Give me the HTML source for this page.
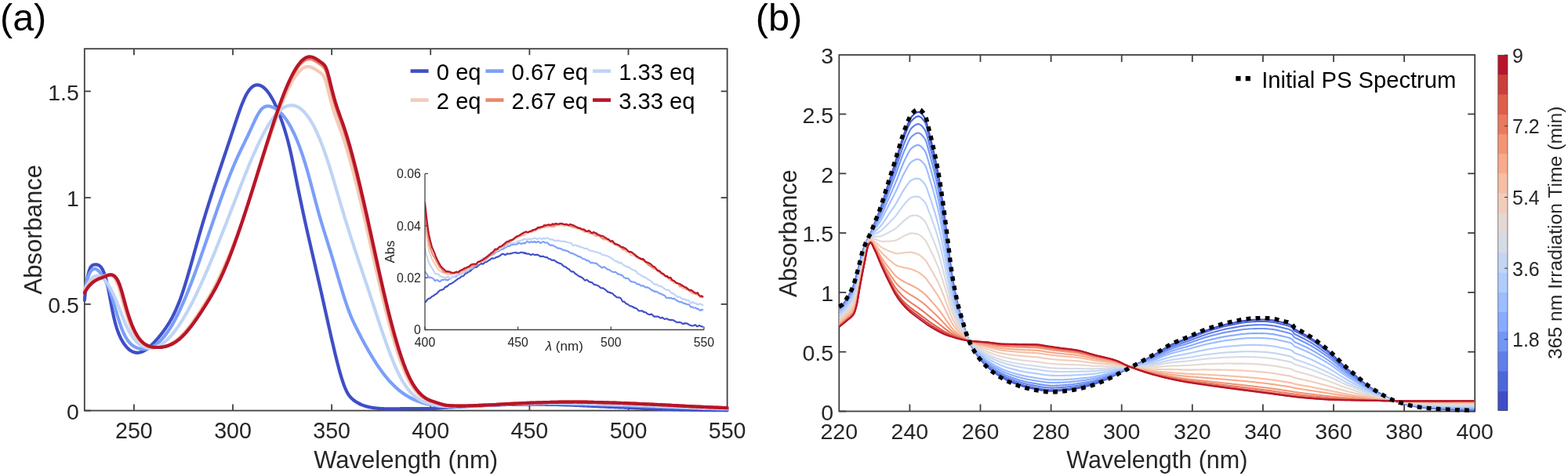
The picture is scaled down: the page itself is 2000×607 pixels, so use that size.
<!DOCTYPE html>
<html><head><meta charset="utf-8"><title>Absorbance spectra</title>
<style>html,body{margin:0;padding:0;background:#fff;}svg{display:block;}</style>
</head><body>
<svg width="2000" height="607" viewBox="0 0 2000 607">
<rect width="2000" height="607" fill="#ffffff"/>
<defs><clipPath id="ca"><rect x="105.6" y="60.0" width="824.2" height="465.8"/></clipPath>
<clipPath id="cb"><rect x="1067.3" y="67.0" width="813.9" height="460.5"/></clipPath>
<clipPath id="ci"><rect x="542.0" y="215.0" width="356.9" height="205.5"/></clipPath></defs>
<g stroke="#404040" stroke-width="1.8" fill="none">
<rect x="107.8" y="62.2" width="819.8" height="461.4"/>
<line x1="170.9" y1="523.6" x2="170.9" y2="515.6"/>
<line x1="170.9" y1="62.2" x2="170.9" y2="70.2"/>
<line x1="297.0" y1="523.6" x2="297.0" y2="515.6"/>
<line x1="297.0" y1="62.2" x2="297.0" y2="70.2"/>
<line x1="423.1" y1="523.6" x2="423.1" y2="515.6"/>
<line x1="423.1" y1="62.2" x2="423.1" y2="70.2"/>
<line x1="549.2" y1="523.6" x2="549.2" y2="515.6"/>
<line x1="549.2" y1="62.2" x2="549.2" y2="70.2"/>
<line x1="675.4" y1="523.6" x2="675.4" y2="515.6"/>
<line x1="675.4" y1="62.2" x2="675.4" y2="70.2"/>
<line x1="801.5" y1="523.6" x2="801.5" y2="515.6"/>
<line x1="801.5" y1="62.2" x2="801.5" y2="70.2"/>
<line x1="107.8" y1="523.6" x2="115.8" y2="523.6"/>
<line x1="927.6" y1="523.6" x2="919.6" y2="523.6"/>
<line x1="107.8" y1="387.9" x2="115.8" y2="387.9"/>
<line x1="927.6" y1="387.9" x2="919.6" y2="387.9"/>
<line x1="107.8" y1="252.1" x2="115.8" y2="252.1"/>
<line x1="927.6" y1="252.1" x2="919.6" y2="252.1"/>
<line x1="107.8" y1="116.4" x2="115.8" y2="116.4"/>
<line x1="927.6" y1="116.4" x2="919.6" y2="116.4"/>
</g>
<g clip-path="url(#ca)" fill="none" stroke-width="4.2" stroke-linejoin="round" stroke-linecap="round">
<path stroke="#3f4ec6" d="M107.8 382.8l1-9.4 1-8 1-6.7 1-5.6 1-4.4 1-3.5 1-2.7 1-2 1-1.3 1-.9 1-.5 1-.2 1-.1 1-.1 1 0 1 .2 1 .2 1 .4 1 .6 1 .8 1 1.1 1 1.4 1 1.6 1 2.1 1 2.4 1 2.9 1 3.3 1 3.8 1 4.2 1 4.7 1 4.9 1 5.2 1 5.3 1 5.3 1 5.2 1 5 1 4.7 1 4.4 1 4 1 3.6 1 3.4 1 3 1 2.8 1 2.5 1 2.3 1 2.1 1 2 1 1.8 1 1.6 1 1.6 1 1.4 1 1.3 1 1.3 1 1.1 1 1.1 1 .9 1 .9 1 .8 1 .6 1 .6 1 .6 1 .4 1 .3 1 .3 1 .2 1 .1 1 .1 1 0 1-.1 1-.2 1-.2 1-.3 1-.3 1-.4 1-.5 1-.5 1-.6 1-.6 1-.7 1-.7 1-.7 1-.9 1-.8 1-.9 1-.9 1-1 1-1 1-1 1-1.1 1-1.1 1-1.1 1-1.1 1-1.2 1-1.1 1-1.2 1-1.3 1-1.2 1-1.3 1-1.2 1-1.3 1-1.4 1-1.4 1-1.4 1-1.4 1-1.5 1-1.5 1-1.6 1-1.6 1-1.7 1-1.8 1-1.8 1-1.8 1-2 1-1.9 1-2.1 1-2.2 1-2.2 1-2.3 1-2.4 1-2.4 1-2.6 1-2.6 1-2.8 1-2.8 1-2.9 1-3 1-3.1 1-3.2 1-3.2 1-3.3 1-3.3 1-3.4 1-3.5 1-3.4 1-3.5 1-3.6 1-3.5 1-3.6 1-3.6 1-3.6 1-3.6 1-3.6 1-3.5 1-3.6 1-3.5 1-3.6 1-3.4 1-3.5 1-3.4 1-3.4 1-3.4 1-3.3 1-3.3 1-3.3 1-3.2 1-3.3 1-3.2 1-3.2 1-3.2 1-3.1 1-3.1 1-3.2 1-3.1 1-3.1 1-3.1 1-3 1-3.1 1-3 1-3.1 1-3 1-3 1-3 1-3 1-3 1-3 1-3 1-3 1-3 1-3 1-2.9 1-3 1-3 1-3 1-3 1-3 1-2.9 1-3 1-3 1-3 1-3 1-3 1-3.1 1-3 1-3 1-2.9 1-3 1-2.8 1-2.9 1-2.7 1-2.7 1-2.6 1-2.4 1-2.4 1-2.3 1-2.1 1-2 1-1.8 1-1.7 1-1.5 1-1.4 1-1.2 1-1.2 1-.9 1-.9 1-.7 1-.6 1-.4 1-.4 1-.2 1-.1 1 0 1 .1 1 .3 1 .3 1 .4 1 .5 1 .6 1 .7 1 .8 1 .9 1 1 1 1.1 1 1.2 1 1.2 1 1.4 1 1.4 1 1.6 1 1.6 1 1.7 1 1.8 1 1.9 1 2 1 2.1 1 2.1 1 2.3 1 2.3 1 2.4 1 2.5 1 2.6 1 2.7 1 2.8 1 2.8 1 2.9 1 3.1 1 3.1 1 3.2 1 3.4 1 3.4 1 3.7 1 3.8 1 3.9 1 4.2 1 4.3 1 4.5 1 4.8 1 4.8 1 5 1 5 1 5 1 5 1 5 1 5 1 4.9 1 4.8 1 4.8 1 4.8 1 4.7 1 4.7 1 4.7 1 4.6 1 4.6 1 4.5 1 4.5 1 4.4 1 4.5 1 4.4 1 4.4 1 4.3 1 4.4 1 4.3 1 4.3 1 4.4 1 4.3 1 4.3 1 4.3 1 4.3 1 4.4 1 4.3 1 4.4 1 4.4 1 4.4 1 4.4 1 4.5 1 4.5 1 4.5 1 4.5 1 4.5 1 4.5 1 4.5 1 4.5 1 4.5 1 4.4 1 4.5 1 4.4 1 4.4 1 4.3 1 4.3 1 4.3 1 4.2 1 4.1 1 4.1 1 4 1 3.9 1 3.9 1 3.7 1 3.6 1 3.4 1 3.3 1 3.1 1 3 1 2.8 1 2.6 1 2.4 1 2.2 1 2 1 1.7 1 1.6 1 1.3 1 1.3 1 1 1 1 1 .9 1 .8 1 .8 1 .7 1 .7 1 .6 1 .6 1 .6 1 .5 1 .5 1 .5 1 .5 1 .4 1 .4 1 .3 1 .4 1 .3 1 .3 1 .3 1 .2 1 .3 1 .2 1 .2 1 .2 1 .2 1 .1 1 .2 1 .1 1 .2 1 .1 1 .1 1 .1 1 .1 1 .1 1 .1 1 .1 1 .1 1 0 1 .1 1 0 1 .1 1 0 1 0 1 .1 1 0 1 0 1 0 1 0 1 0 1 0 1 0 1 0 1 0 1 0 1 0 1 0 1-.1 1 0 1 0 1 0 1 0 1-.1 1 0 1 0 1 0 1-.1 1 0 1 0 1 0 1 0 1-.1 1 0 1 0 1 0 1 0 1 0 1 0 1 0 1 0 1 0 1 0 1 0 1 0 1 0 1 0 1 0 1 0 1 0 1 0 1 0 1 0 1 0 1 0 1 .1 1 0 1 0 1 0 1 0 1 0 1 0 1 0 1-.1 1 0 1 0 1-.1 1 0 1-.1 1-.1 1 0 1-.1 1-.1 1-.1 1-.1 1-.1 1-.1 1-.1 1-.1 1-.1 1-.1 1 0 1-.1 1 0 1-.1 1 0 1-.1 1 0 1-.1 1-.1 1 0 1-.1 1 0 1-.1 1 0 1-.1 1 0 1-.1 1 0 1-.1 1-.1 1 0 1-.1 1 0 1-.1 1 0 1-.1 1 0 1-.1 1 0 1-.1 1 0 1-.1 1-.1 1 0 1-.1 1 0 1-.1 1 0 1-.1 1 0 1-.1 1 0 1-.1 1 0 1-.1 1 0 1-.1 1 0 1-.1 1 0 1-.1 1 0 1 0 1-.1 1 0 1-.1 1 0 1 0 1-.1 1 0 1-.1 1 0 1 0 1-.1 1 0 1 0 1-.1 1 0 1-.1 1 0 1-.1 1 0 1 0 1-.1 1 0 1 0 1 0 1-.1 1 0 1 0 1-.1 1 0 1 0 1 0 1-.1 1 0 1 0 1 0 1 0 1-.1 1 0 1 0 1 0 1 0 1 0 1 0 1-.1 1 0 1 0 1 0 1 0 1 0 1 0 1 0 1 0 1 0 1 0 1 0 1 0 1 0 1 0 1 0 1 0 1 0 1 0 1 0 1 0 1 .1 1 0 1 0 1 0 1 0 1 0 1 0 1 0 1 0 1 0 1 .1 1 0 1 0 1 0 1 0 1 0 1 0 1 0 1 .1 1 0 1 0 1 0 1 0 1 .1 1 0 1 0 1 0 1 .1 1 0 1 0 1 0 1 .1 1 0 1 0 1 .1 1 0 1 0 1 .1 1 0 1 0 1 .1 1 0 1 0 1 .1 1 0 1 0 1 .1 1 0 1 .1 1 0 1 .1 1 0 1 .1 1 0 1 .1 1 0 1 .1 1 0 1 .1 1 0 1 .1 1 0 1 .1 1 0 1 .1 1 0 1 0 1 .1 1 0 1 .1 1 0 1 .1 1 0 1 .1 1 0 1 .1 1 0 1 .1 1 0 1 .1 1 0 1 .1 1 0 1 .1 1 0 1 0 1 .1 1 0 1 .1 1 0 1 .1 1 0 1 0 1 .1 1 0 1 .1 1 0 1 0 1 .1 1 0 1 .1 1 0 1 0 1 .1 1 0 1 0 1 .1 1 0 1 .1 1 0 1 0 1 .1 1 0 1 .1 1 0 1 0 1 .1 1 0 1 .1 1 0 1 .1 1 0 1 .1 1 .1 1 0 1 .1 1 0 1 .1 1 0 1 .1 1 0 1 .1 1 0 1 .1 1 0 1 .1 1 0 1 .1 1 0 1 .1 1 0 1 0 1 .1 1 0 1 .1 1 0 1 .1 1 0 1 0 1 .1 1 0 1 0 1 .1 1 0 1 .1 1 0 1 0 1 .1 1 0 1 0 1 .1 1 0 1 0 1 0 1 .1 1 0 1 0 1 0 1 .1 1 0 1 0 1 0 1 .1 1 0 1 0 1 0 1 .1 1 0 1 0 1 0 1 0 1 .1 1 0 1 0 1 0 1 .1 1 0 1 0 1 0 1 0 1 .1 1 0 1 0 1 0 1 0 1 .1 1 0 1 0 1 0 1 0 1 .1 1 0 1 0 1 0 1 0 1 .1 1 0 1 0 1 0 1 0 1 .1 1 0 1 0 1 0 1 0 1 0 1 .1 1 0 1 0 1 0 1 0 1 0 1 .1 1 0 1 0 1 0 1 0 1 0 1 0 1 0 1 .1 1 0 1 0 1 0 1 0 1 0 1 0 1 0 1 0 1 .1 1 0 1 0 .8 0"/>
<path stroke="#7b9ff9" d="M107.8 372l1-5.3 1-4.6 1-3.9 1-3.4 1-2.9 1-2.3 1-2 1-1.6 1-1.2 1-1 1-.6 1-.3 1-.1 1 .1 1 .4 1 .5 1 .8 1 .8 1 1.1 1 1.1 1 1.2 1 1.4 1 1.4 1 1.6 1 1.7 1 1.9 1 2 1 2 1 2.3 1 2.3 1 2.5 1 2.7 1 2.8 1 2.9 1 3 1 3.2 1 3.3 1 3.3 1 3.3 1 3.4 1 3.4 1 3.3 1 3.3 1 3.1 1 3.1 1 2.9 1 2.8 1 2.6 1 2.4 1 2.3 1 2 1 1.9 1 1.8 1 1.6 1 1.5 1 1.4 1 1.2 1 1.1 1 1.1 1 .9 1 .8 1 .7 1 .7 1 .5 1 .6 1 .4 1 .4 1 .4 1 .3 1 .2 1 .3 1 .1 1 .2 1 0 1 .1 1 0 1-.1 1-.1 1-.2 1-.2 1-.2 1-.3 1-.3 1-.4 1-.4 1-.5 1-.5 1-.6 1-.6 1-.7 1-.7 1-.7 1-.8 1-.9 1-.9 1-.9 1-1 1-1 1-1.1 1-1.1 1-1.2 1-1.2 1-1.3 1-1.3 1-1.3 1-1.4 1-1.5 1-1.5 1-1.5 1-1.6 1-1.6 1-1.7 1-1.7 1-1.8 1-1.8 1-1.9 1-1.9 1-2 1-2 1-2 1-2.1 1-2.1 1-2.2 1-2.2 1-2.2 1-2.3 1-2.3 1-2.3 1-2.4 1-2.4 1-2.5 1-2.4 1-2.5 1-2.6 1-2.5 1-2.6 1-2.6 1-2.7 1-2.6 1-2.7 1-2.7 1-2.7 1-2.8 1-2.7 1-2.8 1-2.8 1-2.8 1-2.8 1-2.9 1-2.8 1-2.9 1-2.9 1-2.8 1-2.9 1-2.9 1-2.9 1-2.9 1-2.9 1-2.9 1-2.9 1-2.9 1-2.9 1-2.9 1-2.9 1-2.9 1-2.9 1-2.9 1-2.9 1-2.8 1-2.9 1-2.8 1-2.8 1-2.9 1-2.7 1-2.8 1-2.8 1-2.7 1-2.8 1-2.7 1-2.6 1-2.7 1-2.6 1-2.6 1-2.6 1-2.6 1-2.5 1-2.5 1-2.4 1-2.5 1-2.3 1-2.4 1-2.3 1-2.3 1-2.3 1-2.2 1-2.1 1-2.2 1-2.1 1-2.1 1-2.1 1-2 1-2.1 1-2 1-2.1 1-2 1-2.1 1-2 1-2.1 1-2.1 1-2.1 1-2.2 1-2.2 1-2.2 1-2.2 1-2.2 1-2.1 1-2.2 1-2.1 1-2 1-1.9 1-1.8 1-1.8 1-1.6 1-1.4 1-1.3 1-1.1 1-1 1-.8 1-.6 1-.5 1-.4 1-.3 1-.1 1 0 1 0 1 .1 1 .3 1 .2 1 .4 1 .3 1 .5 1 .5 1 .5 1 .6 1 .7 1 .7 1 .8 1 .8 1 .9 1 1 1 1 1 1 1 1.2 1 1.2 1 1.3 1 1.3 1 1.4 1 1.4 1 1.6 1 1.6 1 1.6 1 1.7 1 1.8 1 1.9 1 2 1 2 1 2 1 2.2 1 2.2 1 2.3 1 2.4 1 2.5 1 2.5 1 2.6 1 2.7 1 2.8 1 2.8 1 3 1 3 1 3.1 1 3.2 1 3.2 1 3.4 1 3.4 1 3.5 1 3.6 1 3.7 1 3.7 1 3.7 1 3.8 1 3.8 1 3.8 1 3.8 1 3.8 1 3.8 1 3.8 1 3.7 1 3.6 1 3.6 1 3.6 1 3.4 1 3.4 1 3.3 1 3.3 1 3.3 1 3.2 1 3.2 1 3.2 1 3.1 1 3.2 1 3.2 1 3.2 1 3.2 1 3.2 1 3.3 1 3.3 1 3.3 1 3.4 1 3.4 1 3.4 1 3.4 1 3.5 1 3.4 1 3.4 1 3.4 1 3.3 1 3.4 1 3.3 1 3.3 1 3.2 1 3.2 1 3.1 1 3 1 3 1 2.9 1 2.8 1 2.7 1 2.7 1 2.5 1 2.4 1 2.4 1 2.2 1 2.2 1 2.2 1 2 1 2.1 1 2 1 2 1 2 1 1.9 1 1.9 1 2 1 1.9 1 1.9 1 1.8 1 1.9 1 1.8 1 1.9 1 1.8 1 1.7 1 1.8 1 1.8 1 1.7 1 1.7 1 1.7 1 1.7 1 1.6 1 1.6 1 1.7 1 1.5 1 1.6 1 1.6 1 1.5 1 1.5 1 1.5 1 1.4 1 1.4 1 1.4 1 1.4 1 1.4 1 1.3 1 1.3 1 1.3 1 1.3 1 1.2 1 1.2 1 1.2 1 1.2 1 1.1 1 1.1 1 1.1 1 1 1 1 1 1 1 1 1 1 1 .9 1 .9 1 .9 1 .8 1 .9 1 .8 1 .8 1 .7 1 .8 1 .7 1 .7 1 .7 1 .7 1 .6 1 .6 1 .6 1 .6 1 .6 1 .6 1 .5 1 .5 1 .5 1 .5 1 .5 1 .4 1 .4 1 .4 1 .5 1 .3 1 .4 1 .4 1 .3 1 .3 1 .4 1 .3 1 .3 1 .2 1 .3 1 .3 1 .2 1 .2 1 .3 1 .2 1 .2 1 .2 1 .1 1 .2 1 .2 1 .2 1 .2 1 .2 1 .2 1 .2 1 .1 1 .2 1 .1 1 .2 1 .1 1 .1 1 .1 1 0 1 .1 1 0 1 0 1 0 1 0 1 0 1 0 1 0 1-.1 1 0 1 0 1 0 1 0 1 0 1 0 1-.1 1 0 1 0 1 0 1-.1 1 0 1 0 1-.1 1 0 1 0 1-.1 1 0 1 0 1-.1 1 0 1 0 1-.1 1 0 1 0 1-.1 1 0 1-.1 1 0 1 0 1-.1 1 0 1-.1 1 0 1-.1 1 0 1 0 1-.1 1 0 1-.1 1 0 1-.1 1 0 1-.1 1 0 1-.1 1 0 1-.1 1 0 1-.1 1 0 1-.1 1-.1 1 0 1-.1 1 0 1-.1 1 0 1 0 1-.1 1 0 1-.1 1 0 1-.1 1 0 1-.1 1 0 1-.1 1 0 1-.1 1 0 1-.1 1 0 1-.1 1 0 1 0 1-.1 1 0 1-.1 1 0 1 0 1-.1 1 0 1 0 1-.1 1 0 1 0 1 0 1-.1 1 0 1 0 1-.1 1 0 1 0 1 0 1-.1 1 0 1 0 1 0 1 0 1 0 1 0 1-.1 1 0 1 0 1 0 1 0 1 0 1 0 1-.1 1 0 1 0 1 0 1 0 1 0 1 0 1 0 1 0 1 0 1 0 1 0 1 0 1 0 1 0 1 0 1 0 1 0 1 0 1 0 1 0 1 0 1 0 1 0 1 0 1 0 1 0 1 0 1 0 1 0 1 0 1 .1 1 0 1 0 1 0 1 .1 1 0 1 .1 1 0 1 0 1 .1 1 0 1 .1 1 0 1 0 1 .1 1 0 1 0 1 0 1 .1 1 0 1 0 1 .1 1 0 1 0 1 .1 1 0 1 0 1 0 1 .1 1 0 1 0 1 .1 1 0 1 0 1 .1 1 0 1 0 1 .1 1 0 1 0 1 .1 1 0 1 0 1 .1 1 0 1 0 1 .1 1 0 1 0 1 .1 1 0 1 0 1 .1 1 0 1 .1 1 0 1 0 1 .1 1 0 1 0 1 .1 1 0 1 0 1 .1 1 0 1 0 1 .1 1 0 1 0 1 .1 1 0 1 0 1 0 1 .1 1 0 1 0 1 .1 1 0 1 0 1 .1 1 0 1 0 1 .1 1 0 1 0 1 .1 1 0 1 0 1 .1 1 0 1 0 1 .1 1 0 1 .1 1 0 1 0 1 .1 1 0 1 .1 1 0 1 0 1 .1 1 0 1 .1 1 0 1 0 1 .1 1 0 1 .1 1 0 1 0 1 .1 1 0 1 0 1 .1 1 0 1 0 1 .1 1 0 1 0 1 .1 1 0 1 0 1 .1 1 0 1 0 1 .1 1 0 1 0 1 .1 1 0 1 .1 1 0 1 0 1 .1 1 0 1 0 1 .1 1 0 1 0 1 .1 1 0 1 0 1 .1 1 0 1 0 1 .1 1 0 1 0 1 .1 1 0 1 0 1 .1 1 0 1 .1 1 0 1 0 1 .1 1 0 1 0 1 .1 1 0 1 0 1 0 1 .1 1 0 1 0 1 .1 1 0 1 0 1 .1 1 0 1 0 1 .1 1 0 1 0 1 .1 1 0 1 0 1 .1 1 0 1 0 1 0 1 .1 1 0 1 0 1 .1 1 0 1 0 1 0 1 .1 1 0 1 0 1 .1 1 0 1 0 1 0 1 .1 1 0 1 0 1 .1 1 0 1 0 1 0 1 .1 1 0 1 0 1 0 1 .1 1 0 1 0 1 0 1 .1.8 0"/>
<path stroke="#c0d4f5" d="M107.8 370.9l1-2.4 1-2.2 1-2 1-1.9 1-1.8 1-1.5 1-1.4 1-1.3 1-1.1 1-1 1-.8 1-.6 1-.5 1-.4 1-.3 1-.1 1 0 1 .2 1 .3 1 .4 1 .5 1 .6 1 .8 1 .9 1 1 1 1 1 1.2 1 1.3 1 1.4 1 1.5 1 1.6 1 1.7 1 1.8 1 1.9 1 1.9 1 2 1 2.2 1 2.1 1 2.3 1 2.3 1 2.5 1 2.4 1 2.5 1 2.5 1 2.6 1 2.5 1 2.6 1 2.5 1 2.5 1 2.5 1 2.4 1 2.3 1 2.3 1 2.2 1 2 1 2 1 1.9 1 1.7 1 1.7 1 1.6 1 1.5 1 1.4 1 1.3 1 1.3 1 1.1 1 1.1 1 1 1 1 1 .8 1 .8 1 .8 1 .6 1 .6 1 .6 1 .4 1 .4 1 .4 1 .3 1 .3 1 .2 1 .1 1 .2 1 0 1 0 1 0 1-.1 1-.1 1-.2 1-.3 1-.2 1-.3 1-.4 1-.4 1-.5 1-.5 1-.5 1-.6 1-.6 1-.7 1-.7 1-.8 1-.8 1-.8 1-.9 1-.9 1-.9 1-1 1-1.1 1-1 1-1.1 1-1.2 1-1.1 1-1.3 1-1.2 1-1.3 1-1.3 1-1.3 1-1.4 1-1.4 1-1.5 1-1.5 1-1.5 1-1.5 1-1.6 1-1.6 1-1.6 1-1.7 1-1.7 1-1.7 1-1.8 1-1.7 1-1.8 1-1.9 1-1.8 1-1.9 1-1.9 1-1.9 1-2 1-2 1-2 1-2 1-2.1 1-2 1-2.1 1-2.1 1-2.2 1-2.1 1-2.2 1-2.2 1-2.2 1-2.2 1-2.3 1-2.2 1-2.3 1-2.3 1-2.3 1-2.3 1-2.4 1-2.3 1-2.4 1-2.4 1-2.4 1-2.4 1-2.4 1-2.5 1-2.4 1-2.5 1-2.4 1-2.5 1-2.5 1-2.5 1-2.5 1-2.5 1-2.5 1-2.6 1-2.5 1-2.5 1-2.6 1-2.5 1-2.6 1-2.6 1-2.5 1-2.6 1-2.6 1-2.5 1-2.6 1-2.6 1-2.6 1-2.5 1-2.6 1-2.6 1-2.6 1-2.5 1-2.6 1-2.6 1-2.6 1-2.5 1-2.6 1-2.5 1-2.6 1-2.5 1-2.5 1-2.6 1-2.5 1-2.5 1-2.4 1-2.5 1-2.4 1-2.5 1-2.4 1-2.4 1-2.4 1-2.3 1-2.4 1-2.3 1-2.3 1-2.2 1-2.2 1-2.3 1-2.1 1-2.2 1-2.1 1-2.1 1-2.1 1-2 1-2 1-1.9 1-1.9 1-1.9 1-1.9 1-1.8 1-1.7 1-1.7 1-1.7 1-1.7 1-1.6 1-1.5 1-1.5 1-1.4 1-1.4 1-1.4 1-1.3 1-1.2 1-1.2 1-1.2 1-1.1 1-1 1-1 1-.9 1-.8 1-.8 1-.8 1-.7 1-.6 1-.6 1-.5 1-.4 1-.4 1-.4 1-.2 1-.2 1-.2 1-.1 1 0 1 0 1 .1 1 .2 1 .2 1 .3 1 .4 1 .4 1 .5 1 .5 1 .6 1 .7 1 .8 1 .8 1 .9 1 .9 1 1 1 1.1 1 1.2 1 1.2 1 1.3 1 1.3 1 1.4 1 1.5 1 1.6 1 1.6 1 1.7 1 1.8 1 1.8 1 1.9 1 2 1 2 1 2.1 1 2.2 1 2.3 1 2.3 1 2.4 1 2.4 1 2.5 1 2.6 1 2.7 1 2.7 1 2.8 1 2.9 1 2.9 1 3 1 3 1 3.1 1 3.1 1 3.2 1 3.2 1 3.3 1 3.3 1 3.3 1 3.3 1 3.4 1 3.4 1 3.4 1 3.4 1 3.4 1 3.4 1 3.4 1 3.4 1 3.4 1 3.3 1 3.4 1 3.3 1 3.3 1 3.3 1 3.3 1 3.2 1 3.2 1 3.2 1 3.2 1 3.1 1 3.1 1 3.2 1 3 1 3.1 1 3.1 1 3 1 3.1 1 3 1 3 1 3 1 3 1 3 1 3 1 2.9 1 3 1 3 1 3 1 2.9 1 3 1 3 1 3 1 2.9 1 3 1 3 1 3 1 3 1 3.1 1 3 1 3 1 3.1 1 3 1 3.1 1 3 1 3.1 1 3 1 3.1 1 3 1 3 1 3 1 3 1 3 1 2.9 1 3 1 2.9 1 2.9 1 2.8 1 2.8 1 2.8 1 2.8 1 2.7 1 2.7 1 2.6 1 2.6 1 2.5 1 2.5 1 2.5 1 2.4 1 2.3 1 2.3 1 2.2 1 2.2 1 2.1 1 2 1 2 1 1.9 1 1.8 1 1.8 1 1.7 1 1.6 1 1.6 1 1.5 1 1.4 1 1.4 1 1.4 1 1.2 1 1.3 1 1.1 1 1.2 1 1 1 1 1 1 1 .9 1 .9 1 .8 1 .8 1 .8 1 .7 1 .7 1 .6 1 .6 1 .6 1 .5 1 .5 1 .4 1 .5 1 .4 1 .4 1 .3 1 .3 1 .3 1 .3 1 .3 1 .2 1 .2 1 .2 1 .2 1 .2 1 .2 1 .2 1 .2 1 .2 1 .1 1 .2 1 .2 1 .1 1 .1 1 .2 1 .1 1 .1 1 .1 1 .1 1 0 1 .1 1 0 1 .1 1 0 1 .1 1 0 1 0 1 0 1 0 1 0 1 0 1-.1 1 0 1 0 1 0 1 0 1 0 1 0 1-.1 1 0 1 0 1 0 1 0 1 0 1-.1 1 0 1 0 1-.1 1 0 1 0 1-.1 1 0 1-.1 1 0 1-.1 1 0 1-.1 1 0 1 0 1-.1 1 0 1-.1 1 0 1-.1 1 0 1-.1 1 0 1-.1 1 0 1-.1 1 0 1-.1 1-.1 1 0 1-.1 1 0 1-.1 1 0 1-.1 1-.1 1 0 1-.1 1 0 1-.1 1 0 1-.1 1 0 1-.1 1 0 1-.1 1 0 1-.1 1 0 1-.1 1 0 1 0 1-.1 1 0 1-.1 1 0 1-.1 1 0 1 0 1-.1 1 0 1-.1 1 0 1 0 1-.1 1 0 1 0 1-.1 1 0 1 0 1-.1 1 0 1 0 1-.1 1 0 1 0 1 0 1-.1 1 0 1 0 1 0 1-.1 1 0 1 0 1 0 1 0 1-.1 1 0 1 0 1 0 1 0 1 0 1-.1 1 0 1 0 1 0 1 0 1 0 1 0 1-.1 1 0 1 0 1 0 1 0 1 0 1 0 1 0 1 0 1 0 1 0 1 0 1 0 1 0 1 0 1 0 1 0 1 0 1 0 1 0 1 0 1 0 1 0 1 0 1 0 1 0 1 0 1 0 1 0 1 0 1 .1 1 0 1 0 1 0 1 0 1 0 1 0 1 .1 1 0 1 0 1 0 1 0 1 0 1 .1 1 0 1 0 1 0 1 0 1 0 1 .1 1 0 1 0 1 0 1 0 1 .1 1 0 1 0 1 0 1 0 1 .1 1 0 1 0 1 .1 1 0 1 0 1 0 1 .1 1 0 1 0 1 .1 1 0 1 0 1 0 1 .1 1 0 1 0 1 .1 1 0 1 0 1 0 1 .1 1 0 1 0 1 0 1 .1 1 0 1 0 1 0 1 .1 1 0 1 0 1 0 1 .1 1 0 1 0 1 0 1 .1 1 0 1 0 1 0 1 .1 1 0 1 0 1 .1 1 0 1 0 1 .1 1 0 1 0 1 .1 1 0 1 .1 1 0 1 0 1 .1 1 0 1 .1 1 0 1 0 1 .1 1 0 1 .1 1 0 1 0 1 .1 1 0 1 .1 1 0 1 .1 1 0 1 0 1 .1 1 0 1 .1 1 0 1 .1 1 0 1 .1 1 0 1 0 1 .1 1 0 1 .1 1 0 1 .1 1 0 1 .1 1 0 1 .1 1 0 1 .1 1 0 1 .1 1 0 1 .1 1 0 1 0 1 .1 1 0 1 .1 1 0 1 .1 1 0 1 .1 1 0 1 .1 1 0 1 .1 1 0 1 .1 1 0 1 .1 1 0 1 0 1 .1 1 0 1 .1 1 0 1 .1 1 0 1 .1 1 0 1 .1 1 0 1 0 1 .1 1 0 1 .1 1 0 1 0 1 .1 1 0 1 .1 1 0 1 .1 1 0 1 0 1 .1 1 0 1 .1 1 0 1 0 1 .1 1 0 1 0 1 .1 1 0 1 .1 1 0 1 0 1 .1 1 0 1 0 1 0 1 .1 1 0 1 0 1 .1 1 0 1 0 1 0 1 .1 1 0 1 0 1 .1 1 0 1 0 1 0 1 .1 1 0 1 0 1 0 1 0 1 .1 1 0 1 0 .8 0"/>
<path stroke="#f2cbb7" d="M107.8 369.8l1-1.6 1-1.4 1-1.3 1-1.2 1-1.1 1-1 1-1 1-.8 1-.8 1-.7 1-.7 1-.6 1-.5 1-.5 1-.5 1-.4 1-.5 1-.4 1-.3 1-.4 1-.4 1-.4 1-.4 1-.4 1-.4 1-.4 1-.4 1-.4 1-.3 1-.2 1 0 1 0 1 .1 1 .4 1 .5 1 .7 1 .9 1 1.2 1 1.4 1 1.7 1 2 1 2.3 1 2.6 1 3 1 3.2 1 3.5 1 3.6 1 3.7 1 3.8 1 3.7 1 3.5 1 3.5 1 3.3 1 3.2 1 3 1 2.9 1 2.8 1 2.6 1 2.4 1 2.4 1 2.2 1 2 1 1.9 1 1.8 1 1.7 1 1.6 1 1.4 1 1.3 1 1.3 1 1.1 1 1 1 1 1 .8 1 .8 1 .7 1 .6 1 .6 1 .5 1 .4 1 .4 1 .3 1 .3 1 .2 1 .2 1 .2 1 .1 1 .1 1 .1 1 .1 1 0 1 0 1 0 1 0 1 0 1-.1 1-.1 1-.2 1-.1 1-.2 1-.2 1-.2 1-.3 1-.3 1-.3 1-.4 1-.4 1-.4 1-.4 1-.5 1-.5 1-.5 1-.6 1-.6 1-.7 1-.6 1-.8 1-.7 1-.8 1-.8 1-.9 1-.9 1-.9 1-1 1-1 1-1 1-1.1 1-1.1 1-1.1 1-1.2 1-1.1 1-1.3 1-1.2 1-1.3 1-1.3 1-1.3 1-1.3 1-1.4 1-1.4 1-1.4 1-1.4 1-1.4 1-1.5 1-1.5 1-1.5 1-1.5 1-1.5 1-1.5 1-1.6 1-1.5 1-1.6 1-1.6 1-1.5 1-1.6 1-1.6 1-1.6 1-1.6 1-1.7 1-1.6 1-1.7 1-1.7 1-1.7 1-1.8 1-1.7 1-1.9 1-1.8 1-1.9 1-1.9 1-2 1-2 1-2 1-2.1 1-2.1 1-2.2 1-2.2 1-2.3 1-2.3 1-2.3 1-2.2 1-2.2 1-2.2 1-2.3 1-2.3 1-2.3 1-2.4 1-2.3 1-2.4 1-2.5 1-2.4 1-2.5 1-2.5 1-2.5 1-2.5 1-2.6 1-2.6 1-2.6 1-2.6 1-2.6 1-2.6 1-2.7 1-2.7 1-2.6 1-2.7 1-3 1-3 1-3 1-3.1 1-3 1-3.1 1-3 1-3.1 1-3.1 1-3.1 1-3.1 1-3.1 1-3.1 1-3.2 1-3.1 1-3.1 1-3.1 1-3.2 1-3.1 1-3.1 1-3.2 1-3.1 1-3.1 1-3.1 1-3.1 1-3.1 1-3.1 1-3.1 1-3.1 1-3 1-3.1 1-3 1-3.1 1-3 1-3 1-2.9 1-3 1-2.9 1-2.9 1-2.9 1-2.8 1-2.8 1-2.8 1-2.7 1-2.7 1-2.7 1-2.6 1-2.6 1-2.6 1-2.5 1-2.4 1-2.4 1-2.4 1-2.3 1-2.3 1-2.1 1-2.2 1-2.1 1-2 1-2 1-1.9 1-1.8 1-1.7 1-1.7 1-1.7 1-1.5 1-1.5 1-1.4 1-1.3 1-1.3 1-1.1 1-1.1 1-1 1-.9 1-.8 1-.8 1-.6 1-.6 1-.4 1-.4 1-.2 1-.2 1 0 1 0 1 .1 1 .3 1 .3 1 .4 1 .4 1 .5 1 .6 1 .6 1 .6 1 .6 1 .7 1 .7 1 .7 1 .7 1 .6 1 .8 1 .9 1 1.2 1 1.5 1 2 1 2.5 1 3 1 3.6 1 3.8 1 4 1 4 1 4 1 3.8 1 3.7 1 3.6 1 3.4 1 3.3 1 3.1 1 3 1 2.9 1 2.8 1 2.8 1 2.6 1 2.7 1 2.7 1 2.7 1 2.8 1 2.9 1 3 1 3 1 3.1 1 3.2 1 3.2 1 3.3 1 3.4 1 3.4 1 3.5 1 3.6 1 3.6 1 3.7 1 3.7 1 3.8 1 3.8 1 3.9 1 3.9 1 4 1 4 1 4.1 1 4.1 1 4.1 1 4.2 1 4.2 1 4.3 1 4.2 1 4.3 1 4.3 1 4.4 1 4.4 1 4.4 1 4.4 1 4.4 1 4.4 1 4.5 1 4.4 1 4.5 1 4.4 1 4.5 1 4.4 1 4.4 1 4.5 1 4.4 1 4.3 1 4.4 1 4.4 1 4.3 1 4.3 1 4.2 1 4.3 1 4.1 1 4.2 1 4.1 1 4 1 4.1 1 3.9 1 3.9 1 3.9 1 3.8 1 3.8 1 3.7 1 3.6 1 3.6 1 3.5 1 3.5 1 3.3 1 3.4 1 3.2 1 3.2 1 3.2 1 3 1 3 1 2.9 1 2.8 1 2.8 1 2.7 1 2.6 1 2.5 1 2.4 1 2.4 1 2.2 1 2.2 1 2.1 1 2 1 1.9 1 1.8 1 1.7 1 1.7 1 1.5 1 1.5 1 1.5 1 1.3 1 1.3 1 1.2 1 1.1 1 1.1 1 1 1 1 1 .9 1 .8 1 .8 1 .7 1 .7 1 .6 1 .6 1 .5 1 .5 1 .4 1 .5 1 .3 1 .4 1 .3 1 .3 1 .4 1 .3 1 .3 1 .3 1 .3 1 .4 1 .3 1 .3 1 .3 1 .3 1 .3 1 .2 1 .3 1 .3 1 .2 1 .2 1 .2 1 .1 1 .1 1 .1 1 .1 1 0 1 .1 1 .1 1 0 1 0 1 .1 1 0 1 0 1 0 1 .1 1 0 1 0 1 0 1 0 1 0 1 0 1 0 1 0 1 0 1 0 1-.1 1 0 1 0 1-.1 1 0 1 0 1 0 1-.1 1 0 1 0 1-.1 1 0 1-.1 1 0 1-.1 1 0 1 0 1-.1 1 0 1-.1 1 0 1 0 1-.1 1 0 1 0 1-.1 1 0 1-.1 1 0 1 0 1-.1 1 0 1-.1 1 0 1-.1 1 0 1-.1 1 0 1-.1 1 0 1-.1 1-.1 1 0 1-.1 1-.1 1 0 1-.1 1 0 1-.1 1-.1 1 0 1-.1 1 0 1-.1 1 0 1-.1 1 0 1-.1 1 0 1-.1 1 0 1-.1 1 0 1-.1 1 0 1-.1 1 0 1 0 1-.1 1 0 1-.1 1 0 1-.1 1 0 1-.1 1 0 1-.1 1 0 1-.1 1 0 1 0 1-.1 1 0 1-.1 1 0 1-.1 1 0 1 0 1-.1 1 0 1 0 1-.1 1 0 1 0 1 0 1-.1 1 0 1 0 1 0 1-.1 1 0 1 0 1-.1 1 0 1 0 1 0 1-.1 1 0 1 0 1-.1 1 0 1 0 1 0 1-.1 1 0 1 0 1 0 1 0 1 0 1-.1 1 0 1 0 1 0 1 0 1 0 1 0 1-.1 1 0 1 0 1 0 1 0 1 0 1 0 1 0 1 0 1 0 1 0 1 0 1-.1 1 0 1 0 1 0 1 0 1 .1 1 0 1 0 1 0 1 0 1 0 1 0 1 0 1 .1 1 0 1 0 1 0 1 0 1 .1 1 0 1 0 1 0 1 .1 1 0 1 0 1 0 1 .1 1 0 1 0 1 0 1 .1 1 0 1 0 1 0 1 .1 1 0 1 0 1 0 1 .1 1 0 1 0 1 0 1 .1 1 0 1 0 1 .1 1 0 1 0 1 .1 1 0 1 0 1 0 1 .1 1 0 1 0 1 .1 1 0 1 0 1 .1 1 0 1 .1 1 0 1 0 1 .1 1 0 1 0 1 .1 1 0 1 .1 1 0 1 0 1 .1 1 0 1 .1 1 0 1 .1 1 0 1 0 1 .1 1 0 1 .1 1 0 1 .1 1 0 1 .1 1 0 1 0 1 .1 1 0 1 .1 1 0 1 .1 1 0 1 .1 1 0 1 0 1 .1 1 0 1 .1 1 0 1 .1 1 0 1 .1 1 0 1 .1 1 0 1 .1 1 0 1 0 1 .1 1 0 1 .1 1 0 1 .1 1 0 1 .1 1 0 1 .1 1 0 1 .1 1 0 1 .1 1 0 1 .1 1 .1 1 0 1 .1 1 0 1 .1 1 0 1 .1 1 0 1 .1 1 .1 1 0 1 .1 1 0 1 .1 1 0 1 .1 1 0 1 .1 1 0 1 .1 1 0 1 .1 1 0 1 .1 1 0 1 .1 1 0 1 .1 1 0 1 .1 1 0 1 .1 1 0 1 .1 1 0 1 .1 1 0 1 0 1 .1 1 0 1 .1 1 0 1 .1 1 0 1 .1 1 0 1 0 1 .1 1 0 1 .1 1 0 1 .1 1 0 1 0 1 .1 1 0 1 .1 1 0 1 .1 1 0 1 0 1 .1 1 0 1 .1 1 0 1 0 1 .1 1 0 1 .1 1 0 1 0 1 .1 1 0 1 .1.8 0"/>
<path stroke="#ee8568" d="M107.8 372.7l1-1.8 1-1.6 1-1.5 1-1.4 1-1.3 1-1.1 1-1.1 1-1 1-.9 1-.8 1-.8 1-.7 1-.6 1-.6 1-.6 1-.5 1-.4 1-.5 1-.4 1-.4 1-.4 1-.3 1-.4 1-.4 1-.4 1-.4 1-.4 1-.4 1-.4 1-.4 1-.2 1-.2 1 0 1 0 1 .2 1 .4 1 .6 1 .7 1 1 1 1.3 1 1.5 1 1.7 1 2.1 1 2.4 1 2.8 1 3 1 3.4 1 3.5 1 3.6 1 3.8 1 3.7 1 3.6 1 3.6 1 3.4 1 3.3 1 3.1 1 3 1 2.9 1 2.7 1 2.5 1 2.5 1 2.2 1 2.2 1 2 1 1.9 1 1.7 1 1.7 1 1.5 1 1.4 1 1.3 1 1.2 1 1.1 1 1 1 .9 1 .9 1 .7 1 .7 1 .6 1 .6 1 .4 1 .5 1 .3 1 .3 1 .3 1 .2 1 .2 1 .1 1 .2 1 .1 1 0 1 .1 1 0 1 0 1 0 1 0 1-.1 1-.1 1-.1 1-.1 1-.2 1-.2 1-.2 1-.2 1-.3 1-.3 1-.3 1-.4 1-.4 1-.4 1-.5 1-.4 1-.6 1-.5 1-.6 1-.6 1-.7 1-.7 1-.7 1-.7 1-.8 1-.9 1-.8 1-.9 1-1 1-1 1-1 1-1 1-1.1 1-1.1 1-1.1 1-1.2 1-1.2 1-1.2 1-1.3 1-1.3 1-1.3 1-1.3 1-1.3 1-1.4 1-1.4 1-1.4 1-1.4 1-1.5 1-1.4 1-1.5 1-1.5 1-1.5 1-1.6 1-1.5 1-1.5 1-1.6 1-1.6 1-1.5 1-1.6 1-1.6 1-1.6 1-1.6 1-1.6 1-1.7 1-1.6 1-1.7 1-1.7 1-1.7 1-1.8 1-1.8 1-1.8 1-1.9 1-1.8 1-2 1-1.9 1-2.1 1-2 1-2.1 1-2.2 1-2.2 1-2.2 1-2.3 1-2.2 1-2.3 1-2.4 1-2.4 1-2.4 1-2.4 1-2.5 1-2.5 1-2.6 1-2.5 1-2.7 1-2.6 1-2.7 1-2.7 1-2.7 1-2.7 1-2.8 1-2.8 1-2.8 1-2.9 1-2.8 1-2.9 1-2.9 1-3 1-2.9 1-3 1-3.1 1-3 1-3.1 1-3.1 1-3.1 1-3.1 1-3.1 1-3.2 1-3.1 1-3.2 1-3.2 1-3.1 1-3.2 1-3.2 1-3.2 1-3.2 1-3.2 1-3.2 1-3.2 1-3.2 1-3.2 1-3.2 1-3.2 1-3.2 1-3.2 1-3.1 1-3.2 1-3.2 1-3.1 1-3.2 1-3.1 1-3.1 1-3.1 1-3.1 1-3.1 1-3 1-3 1-3 1-3 1-3 1-2.9 1-2.9 1-2.9 1-2.8 1-2.8 1-2.7 1-2.8 1-2.6 1-2.7 1-2.6 1-2.5 1-2.5 1-2.5 1-2.4 1-2.3 1-2.3 1-2.2 1-2.2 1-2.1 1-2 1-2 1-1.9 1-1.9 1-1.8 1-1.7 1-1.6 1-1.6 1-1.5 1-1.4 1-1.3 1-1.3 1-1.1 1-1.1 1-1 1-.9 1-.8 1-.8 1-.6 1-.5 1-.4 1-.4 1-.2 1-.1 1-.1 1 .1 1 .2 1 .2 1 .4 1 .4 1 .5 1 .5 1 .6 1 .6 1 .6 1 .7 1 .7 1 .7 1 .7 1 .7 1 .7 1 .8 1 1.1 1 1.3 1 1.7 1 2.1 1 2.7 1 3.3 1 3.7 1 4 1 4.1 1 4.1 1 4 1 3.9 1 3.8 1 3.6 1 3.4 1 3.4 1 3.1 1 3 1 3 1 2.8 1 2.8 1 2.7 1 2.8 1 2.7 1 2.8 1 2.9 1 3 1 3 1 3.1 1 3.2 1 3.3 1 3.3 1 3.4 1 3.5 1 3.5 1 3.6 1 3.7 1 3.7 1 3.8 1 3.8 1 3.9 1 3.9 1 4 1 4 1 4.1 1 4.2 1 4.1 1 4.2 1 4.3 1 4.2 1 4.4 1 4.3 1 4.4 1 4.4 1 4.4 1 4.5 1 4.4 1 4.5 1 4.6 1 4.5 1 4.5 1 4.6 1 4.5 1 4.6 1 4.5 1 4.6 1 4.5 1 4.5 1 4.5 1 4.5 1 4.5 1 4.5 1 4.4 1 4.4 1 4.4 1 4.4 1 4.3 1 4.2 1 4.3 1 4.1 1 4.2 1 4.1 1 4 1 4 1 3.9 1 3.9 1 3.8 1 3.8 1 3.7 1 3.6 1 3.6 1 3.5 1 3.5 1 3.4 1 3.3 1 3.2 1 3.2 1 3.1 1 3 1 3 1 2.9 1 2.8 1 2.7 1 2.6 1 2.5 1 2.5 1 2.4 1 2.3 1 2.1 1 2.1 1 2 1 2 1 1.8 1 1.7 1 1.7 1 1.6 1 1.5 1 1.4 1 1.4 1 1.3 1 1.2 1 1.1 1 1.1 1 1 1 1 1 .9 1 .8 1 .8 1 .7 1 .7 1 .7 1 .6 1 .5 1 .5 1 .5 1 .4 1 .4 1 .3 1 .4 1 .3 1 .3 1 .4 1 .3 1 .3 1 .4 1 .3 1 .3 1 .3 1 .4 1 .3 1 .2 1 .3 1 .3 1 .3 1 .2 1 .2 1 .1 1 .1 1 .1 1 .1 1 .1 1 .1 1 0 1 .1 1 0 1 .1 1 0 1 0 1 0 1 0 1 .1 1 0 1 0 1 0 1 0 1 0 1 0 1 0 1 0 1 0 1-.1 1 0 1 0 1 0 1-.1 1 0 1 0 1-.1 1 0 1 0 1-.1 1 0 1 0 1-.1 1 0 1-.1 1 0 1 0 1-.1 1 0 1-.1 1 0 1 0 1-.1 1 0 1 0 1-.1 1 0 1-.1 1 0 1-.1 1 0 1 0 1-.1 1 0 1-.1 1 0 1-.1 1 0 1-.1 1-.1 1 0 1-.1 1 0 1-.1 1-.1 1 0 1-.1 1-.1 1 0 1-.1 1 0 1-.1 1 0 1-.1 1 0 1-.1 1 0 1-.1 1 0 1-.1 1 0 1-.1 1 0 1-.1 1 0 1-.1 1 0 1-.1 1 0 1-.1 1 0 1 0 1-.1 1 0 1-.1 1 0 1-.1 1 0 1-.1 1 0 1-.1 1 0 1 0 1-.1 1 0 1-.1 1 0 1 0 1-.1 1 0 1 0 1-.1 1 0 1 0 1 0 1-.1 1 0 1 0 1 0 1-.1 1 0 1 0 1-.1 1 0 1 0 1-.1 1 0 1 0 1-.1 1 0 1 0 1 0 1-.1 1 0 1 0 1 0 1 0 1 0 1-.1 1 0 1 0 1 0 1 0 1 0 1 0 1 0 1-.1 1 0 1 0 1 0 1 0 1 0 1 0 1 0 1 0 1 0 1 0 1 0 1-.1 1 0 1 0 1 0 1 .1 1 0 1 0 1 0 1 0 1 0 1 0 1 0 1 0 1 .1 1 0 1 0 1 0 1 0 1 .1 1 0 1 0 1 0 1 .1 1 0 1 0 1 0 1 .1 1 0 1 0 1 .1 1 0 1 0 1 0 1 0 1 .1 1 0 1 0 1 0 1 .1 1 0 1 0 1 .1 1 0 1 0 1 0 1 .1 1 0 1 0 1 .1 1 0 1 0 1 .1 1 0 1 0 1 .1 1 0 1 0 1 .1 1 0 1 0 1 .1 1 0 1 0 1 .1 1 0 1 0 1 .1 1 0 1 .1 1 0 1 .1 1 0 1 0 1 .1 1 0 1 .1 1 0 1 .1 1 0 1 0 1 .1 1 0 1 .1 1 0 1 .1 1 0 1 .1 1 0 1 .1 1 0 1 0 1 .1 1 0 1 .1 1 0 1 .1 1 0 1 .1 1 0 1 0 1 .1 1 0 1 .1 1 0 1 .1 1 0 1 .1 1 0 1 .1 1 0 1 .1 1 0 1 .1 1 0 1 0 1 .1 1 0 1 .1 1 .1 1 0 1 .1 1 0 1 .1 1 0 1 .1 1 0 1 .1 1 0 1 .1 1 .1 1 0 1 .1 1 0 1 .1 1 0 1 .1 1 0 1 .1 1 0 1 .1 1 .1 1 0 1 .1 1 0 1 .1 1 0 1 .1 1 0 1 .1 1 0 1 .1 1 0 1 0 1 .1 1 0 1 .1 1 0 1 .1 1 0 1 .1 1 0 1 .1 1 0 1 0 1 .1 1 0 1 .1 1 0 1 .1 1 0 1 .1 1 0 1 0 1 .1 1 0 1 .1 1 0 1 .1 1 0 1 0 1 .1 1 0 1 .1 1 0 1 0 1 .1 1 0 1 .1 1 0 1 0 1 .1 1 0 1 .1 1 0 1 0 1 .1.8 0"/>
<path stroke="#b7152b" d="M107.8 373.6l1-1.8 1-1.7 1-1.6 1-1.4 1-1.3 1-1.3 1-1.1 1-1 1-1 1-.8 1-.8 1-.8 1-.6 1-.6 1-.6 1-.5 1-.5 1-.5 1-.4 1-.4 1-.4 1-.3 1-.4 1-.4 1-.4 1-.4 1-.4 1-.4 1-.4 1-.4 1-.3 1-.2 1-.1 1 0 1 .1 1 .3 1 .5 1 .6 1 .9 1 1.1 1 1.4 1 1.6 1 1.9 1 2.3 1 2.5 1 3 1 3.2 1 3.4 1 3.6 1 3.7 1 3.7 1 3.7 1 3.6 1 3.5 1 3.4 1 3.2 1 3 1 3 1 2.7 1 2.7 1 2.5 1 2.3 1 2.2 1 2.1 1 2 1 1.8 1 1.7 1 1.5 1 1.5 1 1.4 1 1.2 1 1.2 1 1 1 1 1 .9 1 .8 1 .7 1 .6 1 .6 1 .5 1 .5 1 .3 1 .4 1 .3 1 .2 1 .2 1 .2 1 .1 1 .1 1 .1 1 .1 1 0 1 0 1 0 1 0 1 0 1-.1 1-.1 1-.1 1-.2 1-.2 1-.2 1-.2 1-.3 1-.2 1-.4 1-.3 1-.4 1-.4 1-.4 1-.5 1-.5 1-.5 1-.6 1-.6 1-.6 1-.7 1-.7 1-.8 1-.7 1-.8 1-.9 1-.9 1-.9 1-1 1-1 1-1 1-1 1-1.1 1-1.2 1-1.1 1-1.2 1-1.2 1-1.3 1-1.2 1-1.3 1-1.3 1-1.4 1-1.3 1-1.4 1-1.4 1-1.4 1-1.5 1-1.4 1-1.5 1-1.5 1-1.5 1-1.5 1-1.5 1-1.6 1-1.5 1-1.6 1-1.5 1-1.6 1-1.6 1-1.6 1-1.6 1-1.6 1-1.6 1-1.7 1-1.7 1-1.7 1-1.7 1-1.7 1-1.8 1-1.8 1-1.8 1-1.9 1-1.9 1-2 1-1.9 1-2.1 1-2.1 1-2.1 1-2.2 1-2.2 1-2.2 1-2.3 1-2.3 1-2.4 1-2.4 1-2.5 1-2.4 1-2.6 1-2.5 1-2.6 1-2.6 1-2.7 1-2.6 1-2.8 1-2.7 1-2.8 1-2.8 1-2.8 1-2.8 1-2.9 1-2.9 1-2.9 1-3 1-3 1-2.9 1-3.1 1-3 1-3 1-3.1 1-3.1 1-3.1 1-3.1 1-3.1 1-3.2 1-3.1 1-3.2 1-3.2 1-3.2 1-3.1 1-3.2 1-3.3 1-3.2 1-3.2 1-3.2 1-3.2 1-3.2 1-3.3 1-3.2 1-3.2 1-3.2 1-3.2 1-3.2 1-3.2 1-3.2 1-3.2 1-3.2 1-3.1 1-3.2 1-3.1 1-3.2 1-3.1 1-3.1 1-3.1 1-3 1-3 1-3.1 1-2.9 1-3 1-2.9 1-2.9 1-2.9 1-2.8 1-2.8 1-2.8 1-2.7 1-2.7 1-2.6 1-2.6 1-2.5 1-2.5 1-2.4 1-2.4 1-2.3 1-2.3 1-2.2 1-2.2 1-2.1 1-2 1-2 1-1.9 1-1.8 1-1.8 1-1.6 1-1.6 1-1.6 1-1.4 1-1.4 1-1.3 1-1.2 1-1.2 1-1 1-1 1-.8 1-.8 1-.7 1-.6 1-.4 1-.4 1-.3 1-.2 1-.1 1 .1 1 .1 1 .2 1 .3 1 .4 1 .4 1 .5 1 .6 1 .6 1 .6 1 .7 1 .7 1 .7 1 .7 1 .7 1 .7 1 .8 1 .9 1 1.1 1 1.5 1 1.9 1 2.5 1 3 1 3.6 1 3.8 1 4.1 1 4.2 1 4.1 1 3.9 1 3.9 1 3.7 1 3.5 1 3.5 1 3.2 1 3.1 1 3 1 2.9 1 2.8 1 2.8 1 2.8 1 2.7 1 2.8 1 2.9 1 2.9 1 3 1 3.1 1 3.2 1 3.2 1 3.4 1 3.4 1 3.4 1 3.5 1 3.6 1 3.7 1 3.7 1 3.8 1 3.8 1 3.9 1 3.9 1 4 1 4 1 4.1 1 4.1 1 4.2 1 4.2 1 4.3 1 4.2 1 4.4 1 4.3 1 4.4 1 4.4 1 4.5 1 4.4 1 4.5 1 4.5 1 4.6 1 4.5 1 4.6 1 4.6 1 4.5 1 4.6 1 4.6 1 4.6 1 4.5 1 4.6 1 4.5 1 4.6 1 4.5 1 4.5 1 4.5 1 4.4 1 4.4 1 4.4 1 4.4 1 4.3 1 4.3 1 4.2 1 4.2 1 4.1 1 4.1 1 4 1 4 1 4 1 3.8 1 3.8 1 3.8 1 3.7 1 3.6 1 3.6 1 3.5 1 3.5 1 3.3 1 3.3 1 3.3 1 3.1 1 3.1 1 3 1 2.9 1 2.9 1 2.8 1 2.6 1 2.6 1 2.6 1 2.4 1 2.3 1 2.3 1 2.1 1 2.1 1 2 1 1.9 1 1.8 1 1.7 1 1.6 1 1.6 1 1.5 1 1.4 1 1.3 1 1.2 1 1.2 1 1.2 1 1 1 1 1 .9 1 .9 1 .8 1 .8 1 .7 1 .7 1 .6 1 .6 1 .5 1 .5 1 .4 1 .5 1 .3 1 .4 1 .3 1 .3 1 .4 1 .3 1 .4 1 .3 1 .3 1 .4 1 .3 1 .3 1 .3 1 .3 1 .3 1 .3 1 .2 1 .3 1 .2 1 .2 1 .1 1 .1 1 .1 1 .1 1 0 1 .1 1 0 1 .1 1 0 1 .1 1 0 1 0 1 0 1 .1 1 0 1 0 1 0 1 0 1 0 1 0 1 0 1 0 1 0 1 0 1-.1 1 0 1 0 1 0 1-.1 1 0 1 0 1-.1 1 0 1 0 1-.1 1 0 1-.1 1 0 1 0 1-.1 1 0 1-.1 1 0 1 0 1-.1 1 0 1-.1 1 0 1 0 1-.1 1 0 1 0 1-.1 1 0 1-.1 1 0 1-.1 1 0 1-.1 1 0 1-.1 1 0 1-.1 1 0 1-.1 1 0 1-.1 1-.1 1 0 1-.1 1-.1 1 0 1-.1 1 0 1-.1 1-.1 1 0 1-.1 1 0 1-.1 1 0 1-.1 1 0 1-.1 1 0 1-.1 1 0 1-.1 1 0 1 0 1-.1 1 0 1-.1 1 0 1-.1 1 0 1-.1 1 0 1-.1 1 0 1-.1 1 0 1-.1 1 0 1 0 1-.1 1 0 1-.1 1 0 1 0 1-.1 1 0 1-.1 1 0 1 0 1-.1 1 0 1 0 1 0 1-.1 1 0 1 0 1 0 1-.1 1 0 1 0 1 0 1-.1 1 0 1 0 1-.1 1 0 1 0 1-.1 1 0 1 0 1 0 1-.1 1 0 1 0 1 0 1 0 1 0 1-.1 1 0 1 0 1 0 1 0 1 0 1 0 1-.1 1 0 1 0 1 0 1 0 1 0 1 0 1 0 1 0 1 0 1 0 1 0 1-.1 1 0 1 0 1 0 1 0 1 .1 1 0 1 0 1 0 1 0 1 0 1 0 1 0 1 .1 1 0 1 0 1 0 1 0 1 .1 1 0 1 0 1 0 1 .1 1 0 1 0 1 0 1 .1 1 0 1 0 1 0 1 .1 1 0 1 0 1 0 1 .1 1 0 1 0 1 0 1 .1 1 0 1 0 1 0 1 .1 1 0 1 0 1 .1 1 0 1 0 1 0 1 .1 1 0 1 0 1 .1 1 0 1 0 1 .1 1 0 1 0 1 .1 1 0 1 0 1 .1 1 0 1 .1 1 0 1 0 1 .1 1 0 1 0 1 .1 1 0 1 .1 1 0 1 .1 1 0 1 0 1 .1 1 0 1 .1 1 0 1 .1 1 0 1 .1 1 0 1 .1 1 0 1 0 1 .1 1 0 1 .1 1 0 1 .1 1 0 1 .1 1 0 1 0 1 .1 1 0 1 .1 1 0 1 .1 1 0 1 .1 1 0 1 0 1 .1 1 0 1 .1 1 0 1 .1 1 0 1 .1 1 0 1 .1 1 0 1 .1 1 0 1 .1 1 0 1 .1 1 0 1 .1 1 0 1 .1 1 0 1 .1 1 .1 1 0 1 .1 1 0 1 .1 1 0 1 .1 1 0 1 .1 1 .1 1 0 1 .1 1 0 1 .1 1 0 1 .1 1 0 1 .1 1 0 1 .1 1 0 1 .1 1 0 1 .1 1 0 1 .1 1 0 1 .1 1 0 1 .1 1 0 1 .1 1 0 1 0 1 .1 1 0 1 .1 1 0 1 .1 1 0 1 .1 1 0 1 0 1 .1 1 0 1 .1 1 0 1 .1 1 0 1 .1 1 0 1 0 1 .1 1 0 1 .1 1 0 1 0 1 .1 1 0 1 .1 1 0 1 0 1 .1 1 0 1 .1 1 0 1 0 1 .1 1 0 1 .1.8 0"/>
</g>
<g font-family="'Liberation Sans', Arial, Helvetica, sans-serif" font-size="28.6" fill="#262626" text-anchor="middle">
<text x="170.9" y="559.3">250</text>
<text x="297.0" y="559.3">300</text>
<text x="423.1" y="559.3">350</text>
<text x="549.2" y="559.3">400</text>
<text x="675.4" y="559.3">450</text>
<text x="801.5" y="559.3">500</text>
<text x="927.6" y="559.3">550</text>
</g>
<g font-family="'Liberation Sans', Arial, Helvetica, sans-serif" font-size="28.4" fill="#262626" text-anchor="end">
<text x="100.8" y="534.8">0</text>
<text x="100.8" y="399.1">0.5</text>
<text x="100.8" y="263.3">1</text>
<text x="100.8" y="127.6">1.5</text>
</g>
<text font-family="'Liberation Sans', Arial, Helvetica, sans-serif" font-size="31" fill="#262626" text-anchor="middle" x="517.7" y="597">Wavelength (nm)</text>
<text font-family="'Liberation Sans', Arial, Helvetica, sans-serif" font-size="31" fill="#262626" text-anchor="middle" transform="translate(52.6 292.7) rotate(-90)">Absorbance</text>
<text font-family="'Liberation Sans', Arial, Helvetica, sans-serif" font-size="48.5" fill="#000" x="0" y="38.8">(a)</text>
<line x1="523.6" y1="90.6" x2="546.6" y2="90.6" stroke="#3f4ec6" stroke-width="4.6"/>
<text font-family="'Liberation Sans', Arial, Helvetica, sans-serif" font-size="29.2" fill="#000" x="556.8" y="102.0">0 eq</text>
<line x1="619.4" y1="90.6" x2="642.4" y2="90.6" stroke="#7b9ff9" stroke-width="4.6"/>
<text font-family="'Liberation Sans', Arial, Helvetica, sans-serif" font-size="29.2" fill="#000" x="652.6" y="102.0">0.67 eq</text>
<line x1="756.0" y1="90.6" x2="779.0" y2="90.6" stroke="#c0d4f5" stroke-width="4.6"/>
<text font-family="'Liberation Sans', Arial, Helvetica, sans-serif" font-size="29.2" fill="#000" x="789.2" y="102.0">1.33 eq</text>
<line x1="523.6" y1="127.6" x2="546.6" y2="127.6" stroke="#f2cbb7" stroke-width="4.6"/>
<text font-family="'Liberation Sans', Arial, Helvetica, sans-serif" font-size="29.2" fill="#000" x="556.8" y="139.0">2 eq</text>
<line x1="619.4" y1="127.6" x2="642.4" y2="127.6" stroke="#ee8568" stroke-width="4.6"/>
<text font-family="'Liberation Sans', Arial, Helvetica, sans-serif" font-size="29.2" fill="#000" x="652.6" y="139.0">2.67 eq</text>
<line x1="756.0" y1="127.6" x2="779.0" y2="127.6" stroke="#b7152b" stroke-width="4.6"/>
<text font-family="'Liberation Sans', Arial, Helvetica, sans-serif" font-size="29.2" fill="#000" x="789.2" y="139.0">3.33 eq</text>
<rect x="542.0" y="221.4" width="355.9" height="199.1" fill="#fff"/>
<g clip-path="url(#ci)" fill="none" stroke-width="2.1" stroke-linejoin="round">
<path stroke="#3f4ec6" d="M542 385.9l1-1.1 1-1.3 1-1.2 1-1.1 1-.5 1-.2 1-.6 1-1 1-1 1-.3 1-.4 1-1.1 1-.7 1-.3 1-.8 1-.7 1-1.6 1-.6 1-1.1 1-.1 1-.7 1 .1 1-.6 1-.3 1-1.7 1-1 1-.6 1 .2 1-1 1-.9 1-1.1 1-.5 1-.1 1-.6 1-.5 1-.7 1-.7 1-.7 1-1 1-.4 1-1.1 1-.7 1-.3 1-.8 1-.4 1-1.1 1-.4 1-.3 1-.4 1-1 1-1.4 1-.8 1-.3 1-.5 1-.9 1-.4 1-.4 1-.8 1-.8 1-1.4 1-.3 1-1.1 1-.7 1-.7 1 .2 1 0 1-.9 1-1.2 1-.7 1-.7 1-.4 1-.8 1 .7 1 0 1-.6 1-1.1 1-.8 1 .2 1-.6 1-.5 1-1 1-.4 1-.5 1-1 1-.5 1-.5 1 .4 1-.2 1-.2 1-.6 1-.8 1 .1 1-.6 1 0 1-1.2 1-.2 1-1.1 1-.6 1-.5 1 0 1 .6 1 .6 1-.2 1-.5 1-1 1 .4 1 0 1-.3 1-.1 1 .1 1-.4 1-.4 1-.3 1-.1 1 .1 1-.4 1 .7 1 0 1 .4 1-.5 1 0 1-.7 1-.1 1 .2 1 .1 1 .8 1-.7 1 1.2 1-.5 1 1 1-.1 1-.1 1 .2 1 .7 1 .6 1-.4 1-.4 1-.2 1 .7 1 0 1 .5 1-.5 1 .1 1-.2 1 .9 1 .4 1 1.1 1-.2 1 .1 1-.2 1 .1 1 .6 1 .3 1 .4 1-.1 1 .2 1 1.1 1 .6 1 .3 1-.1 1 1.2 1 .3 1 .2 1-.3 1 .3 1 .8 1 .6 1 1.1 1 0 1 .7 1 .2 1 .8 1 0 1 .3 1 1.2 1 .8 1 1.2 1 .1 1 .6 1 .4 1 .9 1 .7 1 .7 1 .5 1 1.2 1 .9 1 .8 1 0 1-.2 1 .9 1 1.1 1 1.1 1 .4 1 .6 1 1 1 .7 1 .2 1 .9 1-.2 1 1.1 1 .2 1 1.4 1 1 1 1 1-.1 1-.7 1 .3 1 .7 1 1.2 1 .6 1 .3 1-.2 1 .4 1 1.1 1 1.2 1 .5 1 .2 1 0 1 .5 1 .4 1 .5 1 .7 1 .8 1 1.2 1 0 1 .2 1 0 1 .5 1 .8 1 .6 1 1 1 .6 1 1.5 1-.1 1 .7 1-.2 1 1.1 1-.3 1 .5 1 .9 1 1.2 1 .9 1 .3 1 1.2 1 .7 1 0 1 .1 1 0 1 .4 1 .7 1 1.9 1 1.9 1 .4 1-.2 1 1 1 1.1 1 .9 1 .1 1 .6 1 .8 1 .8 1 .6 1-.1 1 .5 1 .2 1 1.3 1-.2 1 .8 1 .1 1 .4 1 1.2 1 1 1 .8 1 .1 1 0 1-.3 1 .2 1 .3 1 1.3 1-.1 1 .3 1 .3 1 1.2 1 .6 1 .4 1 .4 1 0 1 .2 1-.9 1 1.1 1 .8 1 1.3 1 0 1-.1 1 .1 1-.1 1 .2 1 .2 1 .9 1 .6 1 .2 1-.5 1-.2 1 .9 1 .7 1 .5 1-.4 1-.4 1 .3 1 .7 1 .5 1 .2 1-.1 1 .5 1-.3 1 .3 1-.1 1 1.2 1 .1 1 .7 1 .5 1 .5 1-.2 1-.3 1 .4 1 .1 1 .3 1 1 1 .5 1 0 1-1 1 .5 1-.2 1 .1 1 .6 1 .3 1 1 1 .3 1 .6 1-.1 1 .4 1 0 1-.3 1-1 1 .2 1 .9 1 1 1-.2 1-.7 1-.4 1 .6 1 .4 1 .4 1 .1 1 .3"/>
<path stroke="#7b9ff9" d="M542 346l1 1.6 1 1.4 1 1.5 1 1.8 1 1.2 1 .7 1-.6 1 .7 1-.1 1 .8 1 .7 1 1.5 1 .9 1-.7 1-.2 1-.1 1 .8 1 .9 1 .3 1-.6 1-1.4 1-.2 1 .1 1-.2 1 0 1-.5 1 .6 1 .1 1 .5 1-.8 1-.6 1-.8 1-.3 1-.7 1-.8 1-.8 1 0 1 0 1 .2 1-.3 1-1 1-.9 1-.7 1 .3 1-.3 1-.2 1-.6 1-.8 1-1.3 1-.3 1 .1 1-.9 1-.3 1-.5 1 .6 1-1.2 1-.9 1-1.5 1 .5 1-.5 1 .3 1-1.8 1-.5 1-1.8 1-.6 1-.4 1-.5 1-.2 1-.9 1-.6 1-1.2 1-1 1-.3 1-.7 1-.8 1-.7 1-.8 1-.8 1-.6 1 .1 1-.7 1-.7 1-1.2 1-.4 1-.4 1-.5 1 .2 1-1.2 1-.3 1-1.2 1-.6 1-.5 1-.5 1 0 1-.8 1-.8 1-.7 1-.4 1 .3 1-.7 1-.5 1-1.4 1 .2 1-.8 1-.5 1-.6 1 .4 1-.3 1-.7 1-1 1-.2 1 .3 1-.3 1-.1 1-.2 1-.2 1 .2 1-.7 1-.4 1-1 1 .8 1 .2 1 .6 1-.9 1 0 1-.2 1 .5 1-.5 1-.8 1-1.2 1-.2 1 .8 1 .6 1 .1 1-.8 1-.5 1 .9 1-.5 1 .3 1-.9 1 1.4 1-.5 1 .3 1-.9 1 0 1 .7 1 .9 1 .2 1-.8 1-.9 1 0 1 .4 1 .7 1 .2 1-.2 1 .3 1 .4 1 1.3 1 1.1 1 .5 1-.3 1-.1 1 .3 1 .6 1 .5 1 .3 1 .9 1 .4 1 .9 1 .1 1 .2 1-.1 1 .4 1 .5 1 .8 1 .5 1 .1 1 .3 1-.1 1 .6 1 .3 1 .1 1 .7 1 .5 1 1.1 1 .3 1 .2 1 .1 1 .5 1 .3 1 .8 1 .1 1 .7 1 .5 1 .8 1 .2 1 .6 1-.1 1 .8 1 .4 1 1.2 1 .4 1 .1 1 .3 1 .6 1 .8 1 .6 1-.3 1 .5 1 .8 1 1.4 1 .3 1-.5 1 .4 1 .2 1 .1 1 .2 1-.1 1 .9 1 0 1 1.5 1 .7 1 .7 1 .6 1 1.1 1 .3 1-.3 1-.7 1 .2 1 .7 1 1 1 .7 1 .6 1 0 1 .4 1 .4 1 .9 1 .9 1 .3 1 .2 1 .2 1 0 1 .1 1 .6 1 .9 1 1.2 1-.3 1 .4 1 .2 1 .9 1-.2 1 .6 1 1.2 1 1.5 1 .3 1 .2 1 .6 1-.3 1 .4 1 .4 1 1.7 1 1.1 1 .7 1 .3 1 0 1 .3 1 .1 1 .3 1 .5 1 1.4 1 .4 1 .1 1-.2 1 1 1 .4 1 .9 1-.4 1 .4 1-.2 1 1.1 1 .9 1 0 1-.2 1 .2 1 .8 1 .2 1 .7 1 .9 1 1.2 1-.1 1 .7 1 .1 1 1.1 1-.3 1 .2 1 .2 1 .5 1 1 1 .5 1 .3 1 .2 1 .3 1 1.1 1 .1 1 .4 1 .6 1 1.5 1 1.3 1 0 1-.3 1 .2 1 .4 1-.1 1-.1 1 .6 1 .5 1-.2 1-.3 1 .9 1 .8 1 .9 1 .2 1 .9 1 .3 1 .5 1-.1 1 .3 1-.1 1 1.1 1 .5 1 .5 1-.2 1 .3 1 .9 1 0 1 0 1 0 1 1.9 1 1.1 1 .4 1-.3 1 .8 1 .3 1 0 1 0 1 .6 1 .8 1-.3 1 .8 1 .8 1 .7 1-.1 1-1.1 1 .4 1 .3"/>
<path stroke="#c0d4f5" d="M542 316.6l1 4.7 1 4.1 1 3 1 3.3 1 2.8 1 2.7 1 1.6 1 1.9 1 .8 1 2.1 1 1.5 1 2.3 1 1.3 1 .8 1-.2 1-.2 1 .4 1 1.3 1 1 1 .4 1 .8 1-.2 1 1 1-.1 1 .4 1-.2 1-.2 1-.2 1-.7 1 0 1 .8 1 1.1 1 .3 1-.6 1-1.2 1-.1 1-.5 1 0 1-.9 1-.3 1-.5 1-.3 1-.8 1-.5 1 .4 1-.1 1-.5 1-1.2 1-.3 1-.9 1-.8 1-.6 1-.1 1-.4 1-.4 1-1 1-.6 1-1.3 1 .2 1-1.4 1-.8 1-1.4 1 .3 1-.3 1 0 1-1.6 1-.6 1-1.4 1-.4 1-.8 1-1 1-1.3 1-1 1-.9 1-.2 1-.4 1 0 1 .2 1-.9 1-1.3 1-1.5 1-.9 1-.6 1-.2 1-.5 1-.9 1-.5 1-.4 1 .2 1-.8 1-.3 1-.7 1-.1 1-.6 1-.4 1-.8 1-1.2 1-.7 1-.7 1 .2 1-1 1 .3 1-.5 1-.4 1-1.7 1-.5 1 0 1-.1 1-.2 1-.6 1 .1 1-.7 1-.1 1-.2 1 .9 1-.6 1-.8 1-1.5 1 .4 1-.5 1-.1 1-.6 1-.2 1-.4 1-.4 1-.6 1-.4 1-.2 1 .7 1 .3 1-.7 1-.4 1 .2 1 .7 1 0 1-.7 1-.1 1-.3 1-.2 1-.6 1 .6 1 .4 1 .7 1-.8 1 .2 1-.7 1 .1 1 .5 1 .5 1-.1 1-.9 1-.1 1 .7 1-.1 1-.6 1-.5 1 .3 1 .8 1 .8 1 .2 1 .4 1-.7 1 .4 1 .6 1 .9 1-.1 1-.5 1 .6 1-.2 1 .1 1-.3 1 .8 1 .1 1 .1 1-.1 1 .4 1 0 1-.1 1 .2 1 .6 1 .3 1 .1 1 .2 1 .3 1 .4 1-.4 1 1.2 1 1.1 1 1.4 1-.2 1-.2 1-.3 1 .4 1 .7 1-.2 1 .7 1-.2 1 1.4 1 0 1 .2 1 0 1 .5 1 .7 1 .4 1-.1 1-.4 1 .5 1 .9 1 1.2 1 0 1 .5 1 .1 1 .1 1-.2 1 1 1 0 1 .8 1-.3 1 .4 1 .3 1 .5 1 .3 1-.3 1 .7 1 1.3 1 .3 1 .2 1 .2 1 .3 1 .4 1 .1 1 .5 1 .1 1 .5 1 .7 1 .4 1 .3 1 .9 1 .8 1 1 1 .5 1 .7 1 1 1-.2 1 .6 1-.4 1 1.5 1 .9 1-.1 1-.5 1 .2 1 1.6 1 1.1 1 .3 1 .4 1 .6 1 .5 1 .8 1-.5 1 .9 1-.2 1 1.8 1 .2 1 .7 1 .4 1 .3 1 .7 1-.1 1 .9 1 1.1 1 1.6 1 .6 1 .8 1 .2 1 .7 1 .4 1 1 1 .5 1 .3 1 .2 1 .8 1 .3 1 1.1 1 .4 1 1.1 1-.1 1 .9 1 .6 1 .8 1 1.2 1 .6 1 1.4 1 .3 1 .2 1-.2 1 .4 1 .9 1 .8 1 .3 1-.1 1 .5 1-.1 1 1.3 1 .4 1 1.1 1 .4 1 .9 1 .3 1 0 1 0 1 .3 1 .9 1 1.5 1 .9 1 1.1 1-.5 1 1 1 .2 1 1 1 .6 1 1.3 1 .6 1 .3 1-.5 1 .6 1 .4 1 1.1 1 .2 1 1.2 1-.6 1 .4 1 .1 1 1 1 .2 1 0 1 0 1 .7 1 1.4 1 1.3 1-.1 1-.9 1-.2 1 1.1 1 .4 1 .2 1 .3 1 .9 1 .5 1-.5 1-.5 1 .1 1-.1 1 1.1 1 .3 1 .9"/>
<path stroke="#f2cbb7" d="M542 282.5l1 9.1 1 7.7 1 7.2 1 6.7 1 5.6 1 3.5 1 2.7 1 2.4 1 3.3 1 1.2 1 2 1 1 1 2.3 1 1.9 1 1.6 1 1.4 1 1.7 1 .3 1 1.1 1 .2 1 1.4 1 .5 1 .3 1 0 1 .5 1 .6 1 .2 1 .5 1 .8 1-.4 1-.6 1 0 1 .9 1 .2 1-.9 1-.4 1-.2 1-.1 1 .4 1-.3 1-.2 1-1 1-.2 1-.6 1 0 1 0 1 .1 1-.1 1-.7 1-.6 1-.7 1-.8 1-.3 1-.9 1 .1 1-.8 1-.4 1-1.2 1-.7 1-.2 1-.5 1 .1 1-.8 1-1 1-1.2 1-1 1 .3 1 .1 1 .4 1-1 1-1.3 1-.1 1 0 1-.4 1-.9 1 .1 1-.2 1-1 1-1.5 1-1.1 1-1.1 1-1.3 1-1.1 1-.9 1-.5 1-.8 1 .5 1-1.1 1-.8 1-1.6 1-.3 1-.2 1-.8 1-1.2 1-1.6 1-.9 1-.1 1 0 1-.7 1-.9 1-.6 1 0 1-.7 1-.7 1-1.4 1-.8 1 .1 1-.8 1-.3 1-1.1 1 0 1-.7 1-.8 1-.4 1-.3 1-1.3 1-.6 1-.8 1-.1 1-.4 1 0 1 0 1-.7 1-.4 1-.4 1 .2 1-.2 1-.9 1-.8 1-.6 1-.8 1-.2 1-.8 1 .1 1-1.1 1-.5 1-.2 1 .6 1 .3 1-.5 1-.8 1-1.1 1-.3 1-.4 1 .2 1 .1 1-.2 1-1 1-1.2 1-.7 1-.1 1 .6 1 .4 1-.3 1-.5 1 .2 1 .2 1-.6 1-.8 1 .1 1 .3 1 .4 1 .2 1 .1 1-.1 1-.3 1-1.1 1-.6 1-.2 1 .3 1 .4 1-.3 1-.2 1 .2 1 .3 1 .5 1-.1 1 .2 1 .2 1-1.1 1-.4 1-.1 1 .7 1 .6 1 .8 1 .5 1-.2 1 .6 1 .3 1 .3 1-.4 1 .7 1 .5 1 .5 1 0 1 .3 1 .1 1 .8 1 .4 1 .4 1 0 1 1.6 1-.1 1 .9 1-.8 1 .6 1 .1 1 .7 1 .8 1 .2 1-.1 1-.3 1 .4 1 .8 1 1.1 1 .4 1 .5 1 .5 1 .3 1-.5 1-.6 1-.1 1 1.5 1 .6 1 1.4 1 .1 1 1.3 1 .4 1 .2 1-.2 1 .1 1 .6 1 .4 1 .5 1 1 1 .1 1 .7 1-.4 1 1.2 1 .8 1 .9 1 .8 1-.3 1 1 1 0 1 1.4 1 .3 1-.2 1 .1 1 .6 1 2.1 1 1 1 .6 1-.5 1 .9 1 1.2 1 1.1 1 0 1-.7 1 .9 1 1.6 1 1.5 1 .7 1-.2 1-.1 1 .7 1-.1 1 .9 1 .2 1 1.4 1 .8 1 .7 1 0 1 0 1 .5 1 .6 1 .6 1 .2 1 .7 1 .4 1 .6 1 .3 1 1.4 1 1.3 1 2 1 .1 1 .3 1 .3 1 1.2 1 .9 1 1 1 .7 1 .4 1-.4 1 1 1 1.2 1 .7 1 .3 1 .8 1 1.4 1 .8 1 .8 1 .7 1 .2 1 .4 1 .6 1 1.1 1-.1 1 .4 1 1.1 1 2 1 0 1 1.3 1-.4 1 1.8 1 .1 1 1.4 1 .3 1-.3 1 .5 1 .2 1 .1 1 1.4 1 1.1 1 2.2 1-.8 1 .9 1 .5 1 1.4 1 .1 1-.5 1-.1 1-.2 1 .4 1 .6 1 1 1 1.2 1 .4 1 1.7 1 1 1 .6 1 .3 1-.2 1 .4 1 .4 1 .4 1 .5 1-.3 1 1 1 1.3 1 .7 1 .5 1-.4 1 .4 1 0"/>
<path stroke="#ee8568" d="M542 266.9l1 10.7 1 9.6 1 7.4 1 6.7 1 5.8 1 5.2 1 3.6 1 3.6 1 2.8 1 2.3 1 2.1 1 1.2 1 2 1 1.6 1 2.4 1 1.6 1 2.3 1 1.8 1 1.3 1 .9 1 .5 1 1.5 1 1.6 1 1.2 1 .2 1 .4 1-.5 1 1 1-.6 1-.3 1 .5 1 .9 1 .8 1-.8 1-.5 1 .5 1-.6 1-.2 1 .1 1 .4 1 .5 1-.5 1 .4 1-1 1-.4 1-1.9 1-.6 1 0 1-.1 1 .2 1-1 1-.6 1-.8 1-.7 1-.4 1-.1 1-.1 1-.5 1-1.1 1-.7 1-.3 1 .3 1 .4 1-.2 1-.9 1-1.5 1-1.2 1-.8 1-.9 1-.4 1-.4 1 0 1-.6 1-.5 1-1.4 1 .1 1-.4 1 .4 1-1.1 1-.4 1-1.6 1-.8 1-.4 1-1.2 1-.7 1-1.1 1-.2 1-.9 1-.9 1-1.1 1-.8 1-1.5 1-.7 1-1.1 1-.4 1-.3 1-.3 1-1.1 1 .1 1-.4 1 .2 1-1.4 1-1.1 1-.6 1-.3 1-1.2 1-.5 1 .3 1-.7 1-.5 1-1.6 1 .1 1-.5 1-1.2 1-.5 1-.5 1-.2 1-.7 1-1.1 1-.6 1 .2 1-.9 1 0 1-1.6 1 .2 1-.9 1-.9 1-.6 1-.7 1 .4 1 .3 1-.3 1-.6 1-.4 1 .2 1 .6 1-.8 1-.7 1-1.1 1-.1 1 .3 1-.4 1-.9 1-.8 1-.6 1 .4 1-.2 1-.5 1-1.1 1 0 1 .5 1-.1 1-.7 1-.4 1-.8 1-.4 1 .1 1 .2 1 .5 1 0 1 .3 1-.3 1 .2 1-.2 1-.2 1-.7 1-.2 1-.2 1-.4 1-.2 1-.5 1-.1 1-.1 1 .6 1-.6 1 0 1 .3 1 .7 1-.1 1 .4 1-.4 1 .6 1 .4 1 .5 1 .1 1 .2 1 .4 1 .4 1-.1 1 .9 1-.4 1-.1 1-.4 1 .7 1 .4 1 .4 1 .8 1 .4 1 .6 1 .4 1 .4 1 .3 1 .8 1 .7 1 0 1-.3 1-.1 1 .7 1 .6 1 .4 1 .2 1 .5 1 .5 1 .5 1-.4 1 .3 1 .1 1 1.6 1 .6 1 .4 1-.6 1 .5 1 .9 1 .7 1 1.2 1 .3 1 .9 1-.2 1 .6 1-.6 1 .4 1 .2 1 .9 1-.2 1 .9 1 .5 1 1.1 1 .2 1 .6 1 .8 1 .2 1 .3 1 .6 1 1.1 1 .8 1 .2 1 .2 1 .7 1 1.3 1 .5 1 1.1 1 .5 1 .8 1 .3 1-.3 1 .1 1-.2 1 1 1 1.1 1 .9 1 .7 1 0 1 .9 1 0 1 1.2 1 .2 1 .7 1 .4 1 .3 1 1.1 1 1.3 1 1.2 1 .2 1 .1 1 .1 1 1.1 1 .2 1 1.4 1 .3 1 1.1 1 .4 1 1.2 1 1 1 1 1 .3 1 1.1 1 .7 1 .7 1 .8 1 .3 1 .8 1-.2 1 .6 1 1 1 .6 1 1 1 .6 1 1.3 1-.3 1 .5 1 .9 1 1.2 1 .8 1-.5 1 1.2 1 .4 1 1.9 1-.3 1 1.1 1 .2 1 1.6 1 .1 1 .5 1 1.1 1 .7 1 .5 1-.3 1 .6 1 1.3 1 1.3 1 .7 1-.5 1 .4 1 1.3 1 1.5 1 .6 1-.2 1 .2 1-.3 1 .3 1 1 1 .8 1 2 1 .2 1 .6 1 0 1 1.2 1 .9 1-.2 1 .1 1 .8 1 .8 1 .2 1 .4 1 .7 1 .4 1 0 1 .2 1 1.1 1 .7 1 1.2 1 .6 1-.1 1 .3 1 .4"/>
<path stroke="#b7152b" d="M542 257.8l1 9.9 1 8.9 1 8.1 1 7.6 1 6.4 1 4.6 1 4.2 1 3.8 1 4 1 2.1 1 2.4 1 2.2 1 2.7 1 2.8 1 1.8 1 2.5 1 1.5 1 2.3 1 1.7 1 1.9 1 1 1 1.5 1 .5 1 1.5 1 .2 1 1.4 1 .4 1 .7 1-.4 1 .8 1-.5 1 .4 1 .4 1 .5 1 .3 1 .2 1 .1 1-.4 1-.6 1-.7 1 .4 1-.1 1-.1 1-1.1 1-.7 1-.2 1-.5 1-.3 1-1.2 1-.2 1-.9 1 .1 1-.2 1-.9 1-.2 1-.7 1-.3 1-1.3 1-.8 1-.1 1-.4 1 0 1-.2 1 .2 1 .1 1-1 1-1.3 1-.8 1-.3 1 .2 1-.9 1-.3 1-.7 1-.3 1-.9 1-.9 1-.8 1-.8 1-.6 1-1 1-.3 1-1.2 1-.3 1-1.5 1-.9 1-.4 1-.9 1-1.1 1-1.7 1-.7 1 .5 1-.4 1-.2 1-1.8 1-.7 1-.7 1 .4 1-1 1-.7 1-1.1 1-.7 1-.9 1-.8 1-1 1-.4 1-.3 1 .1 1-1.3 1-.2 1-.4 1 .2 1-.6 1-.9 1-.7 1-1.2 1-.4 1-.9 1-.4 1-.1 1-.5 1-.6 1-1 1-.4 1-.8 1-.5 1-.6 1-.3 1-.3 1-.5 1 .6 1 .2 1 0 1-1 1 0 1-.4 1-.4 1-1 1-.4 1 .1 1-.5 1 .2 1-1.3 1-.1 1-1.6 1 .6 1-.7 1 .1 1-.6 1 .4 1-.6 1-.7 1-1.2 1 .3 1-.1 1 .1 1-.5 1-.2 1-.4 1 .3 1 .5 1-.6 1-.3 1-.9 1 .8 1-.5 1 0 1-.6 1 .5 1 0 1 .3 1-.2 1-.2 1-.5 1 .1 1 .2 1 .5 1 .2 1 .5 1-.2 1-.5 1 .3 1 1.1 1 .2 1-.8 1-.5 1 .4 1 .1 1 .6 1 0 1 .4 1 .7 1 .5 1 .8 1 .2 1 .9 1 .2 1 .1 1-.2 1 1.1 1 .5 1 .2 1-.3 1 .3 1 .9 1 1 1 .6 1 0 1-.4 1-.6 1 .6 1 .5 1 1.8 1 .3 1-.4 1-.9 1 .4 1 .7 1 .4 1 .2 1 1 1 .7 1 .2 1 .6 1 .3 1 .6 1-.4 1 .4 1 .8 1 .4 1 .8 1 .5 1 .9 1 .6 1-.1 1 1.1 1 .9 1 1 1-.6 1-.2 1 .8 1 1.8 1 1.1 1 .7 1-.3 1 .4 1 .1 1 1 1 .1 1 .9 1 .9 1 .7 1-.2 1 .2 1 .8 1 .2 1 .7 1 .9 1 1.2 1 1.1 1 .6 1 .5 1-.2 1 .2 1 .5 1 .7 1 .8 1 .7 1 1.1 1 1.1 1 1.1 1 .1 1 .5 1 .9 1 .4 1 1.1 1-.3 1 .6 1-.6 1 .9 1 .9 1 1.7 1 .5 1 .5 1 0 1 .7 1 .2 1 .9 1 .3 1 1.2 1 .7 1 1.2 1 .3 1 .2 1 1.6 1 .6 1 1.8 1 .3 1 1.1 1-.3 1 .9 1 1.5 1 .7 1 .2 1 .5 1 1.1 1 1.5 1 .1 1 .7 1-.6 1 1.7 1 .1 1 .3 1-.2 1 .8 1 2.2 1 .5 1 .7 1 .1 1 1.3 1 .6 1 .7 1 .2 1 .5 1 .3 1 .4 1 .3 1 1 1 .1 1 1.3 1 .5 1 1 1-.1 1 .1 1 .8 1 1.1 1 .7 1 .8 1 .1 1 .5 1-.4 1 1 1 .5 1 1 1 .7 1 .7 1-.3 1 .1 1-.3 1 2 1 1.4 1 .8 1 .2 1-.5 1 .8 1 .6"/>
</g>
<g stroke="#444" stroke-width="1.3" fill="none">
<path d="M542.0 221.4 V420.5 H897.9"/>
<line x1="542.0" y1="420.5" x2="546.0" y2="420.5"/>
<line x1="542.0" y1="354.1" x2="546.0" y2="354.1"/>
<line x1="542.0" y1="287.8" x2="546.0" y2="287.8"/>
<line x1="542.0" y1="221.4" x2="546.0" y2="221.4"/>
<line x1="542.0" y1="420.5" x2="542.0" y2="416.5"/>
<line x1="660.6" y1="420.5" x2="660.6" y2="416.5"/>
<line x1="779.3" y1="420.5" x2="779.3" y2="416.5"/>
<line x1="897.9" y1="420.5" x2="897.9" y2="416.5"/>
</g>
<g font-family="'Liberation Sans', Arial, Helvetica, sans-serif" font-size="15.8" fill="#262626" text-anchor="end">
<text x="536.8" y="426.3">0</text>
<text x="536.8" y="359.9">0.02</text>
<text x="536.8" y="293.6">0.04</text>
<text x="536.8" y="227.2">0.06</text>
</g>
<g font-family="'Liberation Sans', Arial, Helvetica, sans-serif" font-size="15.8" fill="#262626" text-anchor="middle">
<text x="542.0" y="441.6">400</text>
<text x="660.6" y="441.6">450</text>
<text x="779.3" y="441.6">500</text>
<text x="897.9" y="441.6">550</text>
</g>
<text font-family="'Liberation Sans', Arial, Helvetica, sans-serif" font-size="17" fill="#262626" text-anchor="middle" x="719.8" y="447.2"><tspan font-style="italic">&#955;</tspan> (nm)</text>
<text font-family="'Liberation Sans', Arial, Helvetica, sans-serif" font-size="16.8" fill="#262626" text-anchor="middle" transform="translate(503.4 321) rotate(-90)">Abs</text>
<g stroke="#404040" stroke-width="1.8" fill="none">
<rect x="1070.3" y="70.0" width="810.9" height="454.5"/>
<line x1="1160.4" y1="524.5" x2="1160.4" y2="515.5"/>
<line x1="1160.4" y1="70.0" x2="1160.4" y2="79.0"/>
<line x1="1250.5" y1="524.5" x2="1250.5" y2="515.5"/>
<line x1="1250.5" y1="70.0" x2="1250.5" y2="79.0"/>
<line x1="1340.6" y1="524.5" x2="1340.6" y2="515.5"/>
<line x1="1340.6" y1="70.0" x2="1340.6" y2="79.0"/>
<line x1="1430.7" y1="524.5" x2="1430.7" y2="515.5"/>
<line x1="1430.7" y1="70.0" x2="1430.7" y2="79.0"/>
<line x1="1520.8" y1="524.5" x2="1520.8" y2="515.5"/>
<line x1="1520.8" y1="70.0" x2="1520.8" y2="79.0"/>
<line x1="1610.9" y1="524.5" x2="1610.9" y2="515.5"/>
<line x1="1610.9" y1="70.0" x2="1610.9" y2="79.0"/>
<line x1="1701.0" y1="524.5" x2="1701.0" y2="515.5"/>
<line x1="1701.0" y1="70.0" x2="1701.0" y2="79.0"/>
<line x1="1791.1" y1="524.5" x2="1791.1" y2="515.5"/>
<line x1="1791.1" y1="70.0" x2="1791.1" y2="79.0"/>
<line x1="1070.3" y1="524.5" x2="1079.3" y2="524.5"/>
<line x1="1881.2" y1="524.5" x2="1872.2" y2="524.5"/>
<line x1="1070.3" y1="448.7" x2="1079.3" y2="448.7"/>
<line x1="1881.2" y1="448.7" x2="1872.2" y2="448.7"/>
<line x1="1070.3" y1="372.9" x2="1079.3" y2="372.9"/>
<line x1="1881.2" y1="372.9" x2="1872.2" y2="372.9"/>
<line x1="1070.3" y1="297.1" x2="1079.3" y2="297.1"/>
<line x1="1881.2" y1="297.1" x2="1872.2" y2="297.1"/>
<line x1="1070.3" y1="221.3" x2="1079.3" y2="221.3"/>
<line x1="1881.2" y1="221.3" x2="1872.2" y2="221.3"/>
<line x1="1070.3" y1="145.5" x2="1079.3" y2="145.5"/>
<line x1="1881.2" y1="145.5" x2="1872.2" y2="145.5"/>
</g>
<g clip-path="url(#cb)" fill="none" stroke-width="2.1" stroke-linejoin="round">
<path stroke="#3f4ec6" d="M1070.3 391.4l1-.4 1-.6 1-.7 1-.8 1-.9 1-1.2 1-1.3 1-1.6 1-1.6 1-1.7 1-1.7 1-1.6 1-1.8 1-1.7 1-1.9 1-2.1 1-2.3 1-2.5 1-2.9 1-3.3 1-3.4 1-3.6 1-3.7 1-3.7 1-3.8 1-4.1 1-4.3 1-4.3 1-3.9 1-3.5 1-2.9 1-2.7 1-2.4 1-2.4 1-2.2 1-2.2 1-2.1 1-1.9 1-1.9 1-2 1-2.2 1-2.4 1-2.6 1-2.6 1-2.5 1-2.5 1-2.5 1-2.4 1-2.5 1-2.5 1-2.6 1-2.7 1-2.8 1-2.9 1-3 1-3.1 1-3.2 1-3.2 1-3.3 1-3.2 1-3.2 1-3.2 1-3.1 1-3.1 1-3.1 1-3.1 1-3.1 1-3.1 1-3.1 1-3.1 1-3.1 1-3.1 1-3.3 1-3.2 1-3.4 1-3.3 1-3.4 1-3.3 1-3.3 1-3.2 1-3.1 1-3 1-2.9 1-2.8 1-2.5 1-2.6 1-2.5 1-2.5 1-2.4 1-2.2 1-1.9 1-1.5 1-1.1 1-1 1-1 1-.9 1-.8 1-.7 1-.5 1-.3 1-.2 1 .1 1 .4 1 .7 1 .8 1 1.1 1 1.2 1 1.3 1 1.4 1 1.8 1 2.7 1 3.4 1 3.9 1 4.2 1 4.1 1 4 1 4 1 4.1 1 4.2 1 4.3 1 4.4 1 4.6 1 4.8 1 4.9 1 5 1 5.3 1 5.5 1 5.9 1 6.4 1 6.6 1 6.8 1 6.9 1 7.2 1 7.6 1 7.7 1 7.7 1 7.9 1 7.7 1 8.1 1 8.4 1 8.3 1 8 1 7.6 1 6.7 1 6 1 5.7 1 5.3 1 5.1 1 4.8 1 4.6 1 4.4 1 4.2 1 3.9 1 3.7 1 3.3 1 3.1 1 3.2 1 3.4 1 3.6 1 3.6 1 3.3 1 3 1 2.8 1 2.7 1 2.6 1 2.4 1 2.3 1 2.1 1 2 1 1.8 1 1.7 1 1.7 1 1.6 1 1.6 1 1.5 1 1.4 1 1.3 1 1.4 1 1.2 1 1.3 1 1.1 1 1.2 1 1.1 1 1.1 1 1 1 1 1 1 1 1 1 1 1 .9 1 .9 1 .9 1 .8 1 .8 1 .8 1 .8 1 .8 1 .7 1 .7 1 .7 1 .6 1 .7 1 .7 1 .6 1 .6 1 .6 1 .6 1 .6 1 .6 1 .5 1 .5 1 .6 1 .5 1 .5 1 .5 1 .4 1 .5 1 .4 1 .5 1 .4 1 .4 1 .4 1 .4 1 .4 1 .3 1 .4 1 .4 1 .3 1 .4 1 .3 1 .3 1 .4 1 .3 1 .3 1 .3 1 .3 1 .3 1 .2 1 .3 1 .2 1 .3 1 .2 1 .2 1 .2 1 .2 1 .2 1 .2 1 .2 1 .2 1 .2 1 .2 1 .2 1 .2 1 .2 1 .1 1 .2 1 .2 1 .2 1 .1 1 .2 1 .1 1 .1 1 .1 1 .1 1 .1 1 .1 1 .1 1 0 1 .1 1 0 1 0 1 0 1 0 1-.1 1 0 1-.1 1 0 1-.1 1 0 1-.1 1-.1 1-.1 1-.1 1-.1 1-.1 1-.1 1-.1 1-.1 1-.1 1-.1 1-.1 1-.1 1-.1 1-.1 1-.2 1-.1 1-.1 1-.2 1-.2 1-.1 1-.2 1-.2 1-.2 1-.2 1-.2 1-.2 1-.2 1-.2 1-.2 1-.2 1-.3 1-.2 1-.3 1-.2 1-.2 1-.3 1-.2 1-.3 1-.3 1-.2 1-.3 1-.3 1-.4 1-.3 1-.3 1-.4 1-.3 1-.4 1-.3 1-.4 1-.4 1-.4 1-.4 1-.4 1-.4 1-.4 1-.4 1-.4 1-.4 1-.4 1-.4 1-.5 1-.4 1-.5 1-.4 1-.5 1-.5 1-.5 1-.5 1-.5 1-.5 1-.5 1-.5 1-.5 1-.5 1-.5 1-.5 1-.5 1-.5 1-.5 1-.5 1-.5 1-.5 1-.5 1-.5 1-.5 1-.5 1-.5 1-.5 1-.5 1-.5 1-.5 1-.5 1-.6 1-.5 1-.5 1-.5 1-.5 1-.5 1-.6 1-.5 1-.5 1-.5 1-.6 1-.5 1-.5 1-.5 1-.6 1-.5 1-.5 1-.6 1-.5 1-.6 1-.5 1-.6 1-.5 1-.6 1-.5 1-.6 1-.5 1-.6 1-.5 1-.6 1-.6 1-.5 1-.6 1-.6 1-.6 1-.7 1-.6 1-.6 1-.6 1-.7 1-.6 1-.6 1-.6 1-.6 1-.6 1-.6 1-.5 1-.6 1-.5 1-.6 1-.5 1-.4 1-.5 1-.4 1-.5 1-.4 1-.4 1-.4 1-.4 1-.4 1-.4 1-.4 1-.4 1-.4 1-.3 1-.4 1-.4 1-.4 1-.4 1-.4 1-.4 1-.4 1-.4 1-.4 1-.4 1-.4 1-.5 1-.4 1-.4 1-.5 1-.4 1-.4 1-.5 1-.4 1-.4 1-.4 1-.4 1-.4 1-.4 1-.4 1-.4 1-.4 1-.4 1-.4 1-.4 1-.3 1-.4 1-.3 1-.4 1-.3 1-.3 1-.3 1-.3 1-.3 1-.4 1-.3 1-.3 1-.3 1-.3 1-.3 1-.3 1-.3 1-.3 1-.3 1-.3 1-.3 1-.3 1-.2 1-.3 1-.2 1-.3 1-.2 1-.2 1-.2 1-.2 1-.2 1-.2 1-.2 1-.2 1-.2 1-.2 1-.2 1-.2 1-.3 1-.2 1-.2 1-.2 1-.2 1-.2 1-.2 1-.2 1-.1 1-.2 1-.1 1-.1 1-.2 1-.1 1-.1 1-.1 1-.1 1-.1 1-.1 1-.1 1-.1 1 0 1-.1 1 0 1-.1 1 0 1 0 1-.1 1 0 1 0 1-.1 1 0 1 0 1 0 1 0 1 0 1 0 1 .1 1 0 1 .1 1 .1 1 .1 1 .1 1 .1 1 .1 1 .1 1 .1 1 .1 1 .2 1 .1 1 .3 1 .2 1 .2 1 .3 1 .2 1 .3 1 .2 1 .3 1 .2 1 .3 1 .2 1 .2 1 .3 1 .2 1 .3 1 .3 1 .3 1 .4 1 .4 1 .5 1 .5 1 .8 1 1.4 1 1.6 1 1 1 .6 1 .5 1 .5 1 .5 1 .6 1 .5 1 .5 1 .6 1 .5 1 .5 1 .6 1 .5 1 .6 1 .5 1 .6 1 .6 1 .6 1 .6 1 .6 1 .6 1 .7 1 .6 1 .7 1 .6 1 .7 1 .7 1 .7 1 .8 1 .7 1 .7 1 .8 1 .7 1 .8 1 .8 1 .7 1 .8 1 .7 1 .8 1 .8 1 .7 1 .8 1 .8 1 .9 1 .8 1 .9 1 .8 1 1 1 .9 1 .9 1 1 1 .9 1 1 1 .9 1 1 1 1 1 1 1 1 1 1 1 1 1 .9 1 1 1 .9 1 .9 1 .9 1 .9 1 .9 1 .9 1 .9 1 .8 1 .9 1 .8 1 .9 1 .8 1 .8 1 .8 1 .8 1 .8 1 .8 1 .9 1 .8 1 .8 1 .9 1 .8 1 .9 1 .8 1 .8 1 .9 1 .8 1 .8 1 .7 1 .8 1 .7 1 .8 1 .7 1 .7 1 .8 1 .6 1 .7 1 .7 1 .7 1 .6 1 .6 1 .7 1 .6 1 .6 1 .6 1 .6 1 .6 1 .5 1 .6 1 .6 1 .5 1 .6 1 .5 1 .6 1 .5 1 .5 1 .5 1 .5 1 .5 1 .5 1 .5 1 .4 1 .5 1 .4 1 .5 1 .4 1 .4 1 .4 1 .3 1 .4 1 .3 1 .3 1 .3 1 .3 1 .3 1 .2 1 .3 1 .3 1 .2 1 .3 1 .2 1 .3 1 .3 1 .3 1 .3 1 .2 1 .3 1 .2 1 .3 1 .2 1 .2 1 .1 1 .2 1 .2 1 .1 1 .2 1 .1 1 .1 1 .2 1 .1 1 .1 1 .1 1 .2 1 .1 1 .1 1 .1 1 .1 1 .1 1 .1 1 .1 1 .1 1 .1 1 0 1 .1 1 .1 1 .1 1 0 1 .1 1 .1 1 0 1 .1 1 .1 1 0 1 .1 1 .1 1 0 1 .1 1 0 1 .1 1 0 1 .1 1 0 1 .1 1 0 1 .1 1 0 1 0 1 .1 1 0 1 .1 1 0 1 0 1 .1 1 0 1 .1 1 0 1 0 1 .1 1 0 1 0 1 .1 1 0 1 0 1 .1 1 0 1 0 1 .1 1 0 1 0 1 0 1 .1 1 0 1 0 1 0 1 .1 1 0 1 0 1 0"/>
<path stroke="#4e67d8" d="M1070.3 391.9l1-.4 1-.6 1-.7 1-.8 1-.9 1-1.1 1-1.4 1-1.5 1-1.7 1-1.6 1-1.7 1-1.6 1-1.7 1-1.8 1-1.9 1-2 1-2.2 1-2.6 1-2.9 1-3.2 1-3.4 1-3.6 1-3.7 1-3.7 1-3.9 1-4.2 1-4.3 1-4.3 1-3.9 1-3.6 1-3 1-2.7 1-2.4 1-2.4 1-2.3 1-2.3 1-2.1 1-1.9 1-1.9 1-2 1-2.1 1-2.3 1-2.5 1-2.5 1-2.5 1-2.4 1-2.3 1-2.4 1-2.4 1-2.4 1-2.5 1-2.5 1-2.7 1-2.8 1-2.9 1-3 1-3.1 1-3.1 1-3.2 1-3.1 1-3.1 1-3 1-3 1-3 1-3 1-3 1-3 1-3 1-3 1-3 1-3.1 1-3 1-3.1 1-3.2 1-3.2 1-3.3 1-3.2 1-3.3 1-3.1 1-3.2 1-3 1-2.9 1-2.8 1-2.7 1-2.5 1-2.5 1-2.5 1-2.4 1-2.3 1-2.1 1-1.9 1-1.4 1-1.1 1-1 1-.9 1-.9 1-.7 1-.7 1-.5 1-.3 1-.1 1 .1 1 .4 1 .6 1 .9 1 1 1 1.2 1 1.3 1 1.4 1 1.8 1 2.7 1 3.3 1 3.9 1 4 1 4.1 1 3.9 1 4 1 4 1 4.1 1 4.2 1 4.4 1 4.5 1 4.7 1 4.8 1 4.9 1 5.2 1 5.4 1 5.8 1 6.2 1 6.5 1 6.7 1 6.8 1 7.1 1 7.4 1 7.5 1 7.7 1 7.6 1 7.7 1 7.9 1 8.2 1 8.1 1 7.9 1 7.4 1 6.6 1 5.9 1 5.6 1 5.2 1 4.9 1 4.7 1 4.6 1 4.3 1 4.1 1 3.9 1 3.6 1 3.2 1 3.1 1 3.1 1 3.4 1 3.5 1 3.5 1 3.3 1 2.9 1 2.8 1 2.6 1 2.5 1 2.4 1 2.2 1 2.1 1 1.9 1 1.8 1 1.7 1 1.6 1 1.6 1 1.5 1 1.4 1 1.4 1 1.4 1 1.3 1 1.2 1 1.2 1 1.1 1 1.1 1 1.1 1 1.1 1 1 1 1 1 1 1 .9 1 1 1 .9 1 .9 1 .8 1 .8 1 .9 1 .7 1 .8 1 .7 1 .7 1 .7 1 .7 1 .6 1 .7 1 .6 1 .6 1 .6 1 .6 1 .6 1 .6 1 .5 1 .6 1 .5 1 .5 1 .5 1 .5 1 .5 1 .4 1 .5 1 .4 1 .4 1 .5 1 .3 1 .4 1 .4 1 .4 1 .3 1 .4 1 .4 1 .3 1 .3 1 .4 1 .3 1 .3 1 .3 1 .3 1 .3 1 .3 1 .3 1 .2 1 .3 1 .2 1 .3 1 .2 1 .2 1 .2 1 .2 1 .2 1 .2 1 .2 1 .2 1 .2 1 .1 1 .2 1 .2 1 .2 1 .2 1 .2 1 .1 1 .2 1 .1 1 .2 1 .1 1 .2 1 .1 1 .1 1 .1 1 .1 1 0 1 .1 1 0 1 0 1 0 1 0 1 0 1 0 1 0 1-.1 1 0 1-.1 1 0 1-.1 1-.1 1-.1 1-.1 1 0 1-.1 1-.1 1-.1 1-.1 1-.1 1-.1 1-.1 1-.1 1-.1 1-.1 1-.2 1-.1 1-.1 1-.2 1-.1 1-.2 1-.2 1-.1 1-.2 1-.2 1-.2 1-.2 1-.2 1-.2 1-.2 1-.2 1-.2 1-.3 1-.2 1-.2 1-.2 1-.3 1-.2 1-.3 1-.2 1-.3 1-.3 1-.2 1-.3 1-.4 1-.3 1-.3 1-.3 1-.4 1-.3 1-.4 1-.3 1-.4 1-.4 1-.4 1-.4 1-.3 1-.4 1-.4 1-.4 1-.4 1-.4 1-.4 1-.5 1-.4 1-.5 1-.4 1-.5 1-.4 1-.5 1-.5 1-.5 1-.5 1-.4 1-.5 1-.5 1-.5 1-.5 1-.5 1-.4 1-.5 1-.5 1-.5 1-.4 1-.5 1-.5 1-.5 1-.4 1-.5 1-.5 1-.5 1-.5 1-.4 1-.5 1-.5 1-.5 1-.5 1-.5 1-.5 1-.5 1-.5 1-.5 1-.5 1-.5 1-.5 1-.5 1-.5 1-.5 1-.5 1-.5 1-.6 1-.5 1-.5 1-.5 1-.5 1-.6 1-.5 1-.5 1-.5 1-.6 1-.5 1-.5 1-.6 1-.5 1-.6 1-.5 1-.6 1-.6 1-.6 1-.6 1-.6 1-.6 1-.6 1-.6 1-.6 1-.5 1-.6 1-.6 1-.6 1-.6 1-.5 1-.5 1-.6 1-.5 1-.4 1-.5 1-.4 1-.5 1-.4 1-.4 1-.4 1-.3 1-.4 1-.4 1-.4 1-.4 1-.4 1-.3 1-.4 1-.4 1-.3 1-.4 1-.4 1-.3 1-.4 1-.4 1-.4 1-.4 1-.4 1-.4 1-.4 1-.5 1-.4 1-.4 1-.4 1-.4 1-.5 1-.4 1-.4 1-.4 1-.4 1-.3 1-.4 1-.4 1-.4 1-.4 1-.4 1-.3 1-.4 1-.3 1-.4 1-.3 1-.3 1-.3 1-.4 1-.3 1-.3 1-.3 1-.3 1-.2 1-.3 1-.3 1-.3 1-.3 1-.3 1-.3 1-.3 1-.3 1-.3 1-.3 1-.2 1-.3 1-.2 1-.3 1-.2 1-.2 1-.2 1-.2 1-.2 1-.2 1-.2 1-.2 1-.2 1-.2 1-.2 1-.2 1-.2 1-.2 1-.2 1-.2 1-.2 1-.2 1-.2 1-.2 1-.1 1-.2 1-.1 1-.1 1-.2 1-.1 1-.1 1-.1 1-.1 1-.1 1-.1 1-.1 1-.1 1 0 1-.1 1 0 1-.1 1 0 1-.1 1 0 1 0 1 0 1-.1 1 0 1 0 1 0 1 0 1 0 1 0 1 0 1 .1 1 0 1 .1 1 .1 1 .1 1 .1 1 .1 1 .1 1 .1 1 .1 1 .1 1 .2 1 .1 1 .2 1 .3 1 .2 1 .3 1 .2 1 .3 1 .2 1 .3 1 .2 1 .2 1 .3 1 .2 1 .3 1 .2 1 .3 1 .3 1 .3 1 .3 1 .4 1 .5 1 .6 1 .7 1 1.4 1 1.5 1 1 1 .6 1 .5 1 .4 1 .6 1 .5 1 .5 1 .5 1 .6 1 .5 1 .5 1 .5 1 .6 1 .5 1 .6 1 .6 1 .5 1 .6 1 .6 1 .6 1 .6 1 .6 1 .7 1 .6 1 .6 1 .7 1 .7 1 .7 1 .7 1 .7 1 .8 1 .7 1 .7 1 .8 1 .7 1 .7 1 .8 1 .7 1 .8 1 .7 1 .8 1 .7 1 .8 1 .8 1 .9 1 .8 1 .9 1 .9 1 .9 1 .9 1 .9 1 .9 1 1 1 .9 1 .9 1 1 1 1 1 .9 1 1 1 1 1 .9 1 .9 1 .9 1 .9 1 .9 1 .9 1 .9 1 .8 1 .9 1 .8 1 .9 1 .8 1 .8 1 .8 1 .8 1 .8 1 .8 1 .7 1 .8 1 .8 1 .8 1 .9 1 .8 1 .8 1 .8 1 .9 1 .8 1 .8 1 .8 1 .7 1 .8 1 .7 1 .8 1 .7 1 .7 1 .7 1 .7 1 .7 1 .6 1 .7 1 .6 1 .7 1 .6 1 .6 1 .6 1 .6 1 .6 1 .5 1 .6 1 .6 1 .5 1 .6 1 .5 1 .6 1 .5 1 .5 1 .6 1 .5 1 .5 1 .4 1 .5 1 .5 1 .4 1 .5 1 .4 1 .5 1 .4 1 .4 1 .4 1 .4 1 .3 1 .4 1 .3 1 .3 1 .3 1 .2 1 .3 1 .3 1 .2 1 .3 1 .2 1 .3 1 .2 1 .3 1 .3 1 .3 1 .2 1 .3 1 .2 1 .3 1 .2 1 .2 1 .2 1 .2 1 .1 1 .2 1 .1 1 .2 1 .1 1 .1 1 .2 1 .1 1 .1 1 .1 1 .2 1 .1 1 .1 1 .1 1 .1 1 .1 1 .1 1 .1 1 0 1 .1 1 .1 1 .1 1 .1 1 0 1 .1 1 .1 1 0 1 .1 1 .1 1 0 1 .1 1 0 1 .1 1 0 1 .1 1 .1 1 0 1 .1 1 0 1 0 1 .1 1 0 1 .1 1 0 1 .1 1 0 1 0 1 .1 1 0 1 .1 1 0 1 0 1 .1 1 0 1 0 1 .1 1 0 1 0 1 .1 1 0 1 0 1 .1 1 0 1 0 1 .1 1 0 1 0 1 0 1 .1 1 0 1 0 1 0 1 .1 1 0 1 0 1 0"/>
<path stroke="#607fe8" d="M1070.3 392.8l1-.4 1-.6 1-.7 1-.8 1-.9 1-1.1 1-1.3 1-1.5 1-1.6 1-1.7 1-1.6 1-1.6 1-1.7 1-1.7 1-1.8 1-2 1-2.2 1-2.5 1-2.8 1-3.2 1-3.4 1-3.6 1-3.8 1-3.8 1-3.9 1-4.3 1-4.3 1-4.3 1-4.1 1-3.6 1-3 1-2.8 1-2.6 1-2.5 1-2.4 1-2.4 1-2.1 1-1.9 1-1.9 1-1.9 1-2.1 1-2.1 1-2.3 1-2.3 1-2.3 1-2.3 1-2.1 1-2.2 1-2.2 1-2.3 1-2.2 1-2.4 1-2.5 1-2.6 1-2.7 1-2.9 1-2.8 1-3 1-2.9 1-2.9 1-2.9 1-2.8 1-2.9 1-2.8 1-2.8 1-2.8 1-2.8 1-2.8 1-2.8 1-2.8 1-2.9 1-2.8 1-3 1-3 1-3 1-3.1 1-3 1-3.1 1-3 1-3 1-2.8 1-2.8 1-2.7 1-2.5 1-2.4 1-2.3 1-2.4 1-2.3 1-2.2 1-1.9 1-1.8 1-1.4 1-1 1-.9 1-.9 1-.8 1-.7 1-.5 1-.5 1-.3 1-.1 1 .2 1 .4 1 .6 1 .9 1 1 1 1.2 1 1.3 1 1.4 1 1.7 1 2.6 1 3.2 1 3.7 1 4 1 4 1 3.7 1 3.8 1 3.9 1 4 1 4.1 1 4.2 1 4.4 1 4.5 1 4.6 1 4.8 1 5 1 5.2 1 5.7 1 5.9 1 6.3 1 6.4 1 6.6 1 6.8 1 7.1 1 7.3 1 7.4 1 7.4 1 7.3 1 7.7 1 7.8 1 7.9 1 7.6 1 7.1 1 6.3 1 5.8 1 5.3 1 5.1 1 4.7 1 4.6 1 4.3 1 4.2 1 4 1 3.7 1 3.4 1 3.2 1 2.9 1 3.1 1 3.2 1 3.4 1 3.4 1 3.2 1 2.8 1 2.6 1 2.6 1 2.4 1 2.3 1 2.1 1 2 1 1.8 1 1.7 1 1.6 1 1.6 1 1.5 1 1.4 1 1.4 1 1.3 1 1.3 1 1.2 1 1.2 1 1.1 1 1.1 1 1.1 1 1 1 1 1 1 1 1 1 .9 1 .9 1 .9 1 .9 1 .8 1 .8 1 .8 1 .8 1 .8 1 .7 1 .7 1 .7 1 .6 1 .7 1 .6 1 .6 1 .6 1 .6 1 .6 1 .6 1 .5 1 .6 1 .5 1 .5 1 .5 1 .5 1 .5 1 .5 1 .4 1 .4 1 .5 1 .4 1 .4 1 .4 1 .3 1 .4 1 .4 1 .3 1 .4 1 .3 1 .4 1 .3 1 .3 1 .3 1 .3 1 .3 1 .3 1 .3 1 .3 1 .3 1 .2 1 .3 1 .2 1 .3 1 .2 1 .2 1 .2 1 .2 1 .2 1 .1 1 .2 1 .2 1 .2 1 .2 1 .2 1 .1 1 .2 1 .2 1 .2 1 .2 1 .1 1 .2 1 .1 1 .2 1 .1 1 .2 1 .1 1 .1 1 .1 1 .1 1 0 1 .1 1 0 1 .1 1 0 1 0 1 0 1 0 1-.1 1 0 1 0 1-.1 1 0 1-.1 1-.1 1 0 1-.1 1-.1 1-.1 1 0 1-.1 1-.1 1-.1 1-.1 1-.1 1-.1 1-.1 1-.1 1-.1 1-.1 1-.1 1-.2 1-.1 1-.1 1-.2 1-.2 1-.1 1-.2 1-.2 1-.1 1-.2 1-.2 1-.2 1-.2 1-.2 1-.2 1-.2 1-.2 1-.2 1-.2 1-.2 1-.2 1-.2 1-.3 1-.2 1-.3 1-.3 1-.2 1-.3 1-.3 1-.3 1-.4 1-.3 1-.3 1-.3 1-.4 1-.3 1-.4 1-.3 1-.4 1-.3 1-.4 1-.4 1-.3 1-.4 1-.4 1-.4 1-.4 1-.4 1-.4 1-.5 1-.4 1-.4 1-.5 1-.4 1-.5 1-.4 1-.4 1-.5 1-.4 1-.5 1-.4 1-.4 1-.5 1-.4 1-.4 1-.5 1-.4 1-.4 1-.4 1-.5 1-.4 1-.4 1-.5 1-.4 1-.5 1-.4 1-.4 1-.5 1-.4 1-.5 1-.4 1-.5 1-.5 1-.4 1-.5 1-.4 1-.5 1-.5 1-.4 1-.5 1-.5 1-.5 1-.4 1-.5 1-.5 1-.5 1-.4 1-.5 1-.5 1-.5 1-.5 1-.5 1-.5 1-.5 1-.5 1-.5 1-.5 1-.5 1-.5 1-.6 1-.5 1-.6 1-.5 1-.6 1-.5 1-.6 1-.6 1-.5 1-.6 1-.5 1-.5 1-.6 1-.5 1-.5 1-.5 1-.4 1-.5 1-.4 1-.4 1-.4 1-.4 1-.3 1-.4 1-.4 1-.3 1-.4 1-.3 1-.4 1-.3 1-.4 1-.3 1-.4 1-.3 1-.4 1-.3 1-.3 1-.4 1-.4 1-.3 1-.4 1-.4 1-.4 1-.3 1-.4 1-.4 1-.4 1-.4 1-.4 1-.4 1-.4 1-.3 1-.4 1-.4 1-.4 1-.3 1-.4 1-.3 1-.4 1-.3 1-.4 1-.3 1-.3 1-.4 1-.3 1-.3 1-.3 1-.3 1-.2 1-.3 1-.3 1-.3 1-.2 1-.3 1-.3 1-.3 1-.2 1-.3 1-.3 1-.3 1-.2 1-.3 1-.3 1-.2 1-.2 1-.3 1-.2 1-.2 1-.2 1-.2 1-.2 1-.2 1-.1 1-.2 1-.2 1-.2 1-.1 1-.2 1-.2 1-.2 1-.2 1-.2 1-.1 1-.2 1-.2 1-.2 1-.1 1-.2 1-.1 1-.2 1-.1 1-.1 1-.1 1-.1 1-.1 1-.1 1-.1 1-.1 1 0 1-.1 1-.1 1 0 1 0 1-.1 1 0 1 0 1-.1 1 0 1 0 1 0 1 0 1 0 1-.1 1 .1 1 0 1 0 1 0 1 .1 1 0 1 .1 1 .1 1 .1 1 .1 1 .1 1 .1 1 .1 1 .1 1 .1 1 .2 1 .2 1 .2 1 .2 1 .2 1 .2 1 .3 1 .2 1 .3 1 .2 1 .3 1 .2 1 .2 1 .3 1 .2 1 .2 1 .3 1 .3 1 .3 1 .3 1 .4 1 .5 1 .5 1 .7 1 1.3 1 1.5 1 .9 1 .6 1 .5 1 .4 1 .6 1 .5 1 .5 1 .5 1 .5 1 .5 1 .5 1 .5 1 .5 1 .5 1 .6 1 .5 1 .6 1 .5 1 .6 1 .6 1 .5 1 .6 1 .6 1 .6 1 .7 1 .6 1 .7 1 .6 1 .7 1 .7 1 .7 1 .7 1 .7 1 .7 1 .7 1 .7 1 .7 1 .7 1 .7 1 .8 1 .7 1 .7 1 .8 1 .7 1 .8 1 .8 1 .9 1 .8 1 .9 1 .8 1 .9 1 .9 1 .9 1 .9 1 .9 1 .9 1 .9 1 .9 1 1 1 .9 1 .9 1 .9 1 .8 1 .9 1 .8 1 .9 1 .8 1 .8 1 .8 1 .8 1 .8 1 .8 1 .8 1 .7 1 .8 1 .7 1 .8 1 .7 1 .8 1 .8 1 .7 1 .8 1 .8 1 .8 1 .8 1 .8 1 .7 1 .8 1 .7 1 .8 1 .7 1 .7 1 .7 1 .7 1 .7 1 .6 1 .7 1 .6 1 .7 1 .6 1 .6 1 .6 1 .6 1 .6 1 .5 1 .6 1 .6 1 .5 1 .6 1 .5 1 .5 1 .6 1 .5 1 .5 1 .5 1 .5 1 .5 1 .5 1 .5 1 .4 1 .5 1 .4 1 .5 1 .4 1 .4 1 .4 1 .4 1 .4 1 .4 1 .4 1 .3 1 .3 1 .3 1 .3 1 .3 1 .2 1 .3 1 .2 1 .3 1 .2 1 .3 1 .2 1 .3 1 .2 1 .3 1 .2 1 .3 1 .2 1 .3 1 .2 1 .2 1 .2 1 .2 1 .2 1 .1 1 .1 1 .2 1 .1 1 .2 1 .1 1 .1 1 .1 1 .1 1 .2 1 .1 1 .1 1 .1 1 .1 1 .1 1 .1 1 0 1 .1 1 .1 1 .1 1 .1 1 0 1 .1 1 .1 1 .1 1 0 1 .1 1 0 1 .1 1 .1 1 0 1 .1 1 0 1 .1 1 0 1 .1 1 0 1 .1 1 0 1 .1 1 0 1 0 1 .1 1 0 1 .1 1 0 1 0 1 .1 1 0 1 0 1 .1 1 0 1 .1 1 0 1 0 1 .1 1 0 1 0 1 0 1 .1 1 0 1 0 1 .1 1 0 1 0 1 0 1 .1 1 0 1 0 1 0 1 .1 1 0 1 0 1 0 1 .1 1 0"/>
<path stroke="#7396f5" d="M1070.3 393.9l1-.4 1-.6 1-.7 1-.8 1-.9 1-1.1 1-1.3 1-1.5 1-1.6 1-1.6 1-1.5 1-1.6 1-1.6 1-1.7 1-1.8 1-1.9 1-2.2 1-2.4 1-2.8 1-3.1 1-3.4 1-3.6 1-3.8 1-3.9 1-4 1-4.4 1-4.4 1-4.3 1-4.1 1-3.7 1-3.2 1-2.9 1-2.7 1-2.6 1-2.5 1-2.5 1-2.2 1-1.9 1-1.8 1-1.9 1-1.9 1-2.1 1-2 1-2.1 1-2.1 1-2 1-2 1-2 1-2 1-2 1-2.1 1-2.1 1-2.3 1-2.4 1-2.5 1-2.5 1-2.7 1-2.7 1-2.7 1-2.7 1-2.6 1-2.6 1-2.6 1-2.6 1-2.6 1-2.6 1-2.6 1-2.5 1-2.6 1-2.6 1-2.7 1-2.6 1-2.7 1-2.8 1-2.9 1-2.8 1-2.9 1-2.8 1-2.9 1-2.7 1-2.7 1-2.6 1-2.5 1-2.3 1-2.2 1-2.2 1-2.2 1-2.2 1-2 1-1.9 1-1.6 1-1.3 1-.9 1-.9 1-.7 1-.8 1-.6 1-.5 1-.4 1-.3 1 0 1 .2 1 .4 1 .6 1 .9 1 1 1 1.2 1 1.2 1 1.4 1 1.7 1 2.5 1 3.1 1 3.6 1 3.8 1 3.8 1 3.6 1 3.7 1 3.7 1 3.8 1 3.9 1 4.1 1 4.2 1 4.3 1 4.5 1 4.6 1 4.7 1 5 1 5.4 1 5.8 1 6 1 6.1 1 6.3 1 6.5 1 6.8 1 7 1 7 1 7.1 1 7 1 7.3 1 7.6 1 7.5 1 7.2 1 6.8 1 6.1 1 5.5 1 5.1 1 4.8 1 4.6 1 4.3 1 4.2 1 4 1 3.8 1 3.5 1 3.3 1 3 1 2.9 1 2.9 1 3.1 1 3.2 1 3.3 1 3 1 2.7 1 2.5 1 2.5 1 2.3 1 2.1 1 2.1 1 1.8 1 1.8 1 1.6 1 1.5 1 1.5 1 1.4 1 1.3 1 1.4 1 1.2 1 1.2 1 1.2 1 1.1 1 1.1 1 1 1 1 1 1 1 1 1 .9 1 .9 1 .9 1 .9 1 .8 1 .8 1 .8 1 .8 1 .8 1 .7 1 .7 1 .7 1 .7 1 .7 1 .6 1 .6 1 .6 1 .6 1 .6 1 .5 1 .6 1 .5 1 .6 1 .5 1 .5 1 .5 1 .4 1 .5 1 .5 1 .4 1 .4 1 .5 1 .4 1 .3 1 .4 1 .4 1 .3 1 .4 1 .3 1 .4 1 .3 1 .3 1 .3 1 .4 1 .3 1 .3 1 .3 1 .2 1 .3 1 .3 1 .3 1 .2 1 .3 1 .2 1 .2 1 .3 1 .2 1 .2 1 .2 1 .1 1 .2 1 .2 1 .2 1 .1 1 .2 1 .2 1 .2 1 .1 1 .2 1 .2 1 .2 1 .1 1 .2 1 .1 1 .2 1 .2 1 .1 1 .1 1 .2 1 .1 1 .1 1 .1 1 0 1 .1 1 0 1 .1 1 0 1 0 1 0 1 0 1 0 1 0 1-.1 1 0 1 0 1-.1 1 0 1-.1 1-.1 1 0 1-.1 1-.1 1 0 1-.1 1-.1 1-.1 1-.1 1 0 1-.1 1-.1 1-.1 1-.1 1-.1 1-.1 1-.2 1-.1 1-.1 1-.2 1-.1 1-.2 1-.1 1-.2 1-.1 1-.2 1-.2 1-.1 1-.2 1-.2 1-.1 1-.2 1-.2 1-.2 1-.1 1-.2 1-.2 1-.2 1-.3 1-.2 1-.2 1-.3 1-.2 1-.3 1-.3 1-.3 1-.3 1-.3 1-.3 1-.3 1-.3 1-.3 1-.3 1-.3 1-.4 1-.3 1-.3 1-.4 1-.3 1-.4 1-.3 1-.4 1-.4 1-.4 1-.3 1-.4 1-.4 1-.4 1-.4 1-.4 1-.4 1-.4 1-.4 1-.4 1-.4 1-.4 1-.4 1-.4 1-.4 1-.3 1-.4 1-.4 1-.4 1-.3 1-.4 1-.4 1-.4 1-.4 1-.4 1-.4 1-.4 1-.4 1-.4 1-.4 1-.4 1-.4 1-.4 1-.4 1-.4 1-.4 1-.5 1-.4 1-.4 1-.4 1-.5 1-.4 1-.4 1-.4 1-.5 1-.4 1-.4 1-.5 1-.4 1-.5 1-.4 1-.5 1-.4 1-.5 1-.4 1-.5 1-.4 1-.5 1-.5 1-.5 1-.4 1-.5 1-.6 1-.5 1-.5 1-.5 1-.5 1-.5 1-.5 1-.5 1-.5 1-.5 1-.5 1-.5 1-.4 1-.5 1-.4 1-.4 1-.4 1-.4 1-.3 1-.4 1-.3 1-.4 1-.3 1-.3 1-.3 1-.4 1-.3 1-.3 1-.3 1-.3 1-.4 1-.3 1-.3 1-.3 1-.3 1-.3 1-.4 1-.3 1-.3 1-.4 1-.3 1-.4 1-.4 1-.3 1-.4 1-.4 1-.3 1-.4 1-.3 1-.4 1-.3 1-.4 1-.3 1-.3 1-.4 1-.3 1-.3 1-.4 1-.3 1-.3 1-.3 1-.3 1-.2 1-.3 1-.3 1-.3 1-.2 1-.3 1-.2 1-.3 1-.2 1-.3 1-.2 1-.3 1-.2 1-.3 1-.2 1-.3 1-.2 1-.3 1-.2 1-.2 1-.3 1-.2 1-.2 1-.2 1-.1 1-.2 1-.2 1-.1 1-.2 1-.2 1-.1 1-.2 1-.1 1-.2 1-.2 1-.1 1-.2 1-.2 1-.1 1-.2 1-.2 1-.1 1-.2 1-.1 1-.1 1-.2 1-.1 1-.1 1 0 1-.1 1-.1 1-.1 1-.1 1-.1 1 0 1-.1 1 0 1 0 1-.1 1 0 1 0 1 0 1-.1 1 0 1 0 1 0 1 0 1 0 1 0 1 0 1 0 1 0 1 .1 1 0 1 .1 1 .1 1 .1 1 .1 1 .1 1 .1 1 .1 1 .1 1 .1 1 .1 1 .2 1 .2 1 .1 1 .3 1 .2 1 .2 1 .3 1 .2 1 .3 1 .2 1 .2 1 .2 1 .3 1 .2 1 .2 1 .3 1 .2 1 .3 1 .3 1 .3 1 .4 1 .4 1 .5 1 .7 1 1.3 1 1.4 1 .9 1 .5 1 .4 1 .5 1 .5 1 .5 1 .4 1 .5 1 .5 1 .5 1 .5 1 .5 1 .4 1 .5 1 .6 1 .5 1 .5 1 .5 1 .6 1 .5 1 .6 1 .5 1 .6 1 .6 1 .6 1 .6 1 .6 1 .7 1 .6 1 .7 1 .6 1 .7 1 .7 1 .6 1 .7 1 .7 1 .6 1 .7 1 .7 1 .7 1 .7 1 .7 1 .7 1 .7 1 .7 1 .8 1 .8 1 .8 1 .8 1 .8 1 .9 1 .8 1 .8 1 .9 1 .8 1 .9 1 .9 1 .9 1 .8 1 .9 1 .9 1 .8 1 .8 1 .8 1 .8 1 .8 1 .8 1 .8 1 .7 1 .8 1 .7 1 .8 1 .7 1 .7 1 .7 1 .8 1 .7 1 .7 1 .7 1 .7 1 .7 1 .8 1 .7 1 .8 1 .7 1 .7 1 .8 1 .7 1 .7 1 .7 1 .7 1 .6 1 .7 1 .7 1 .6 1 .6 1 .7 1 .6 1 .6 1 .6 1 .6 1 .5 1 .6 1 .5 1 .6 1 .5 1 .5 1 .5 1 .6 1 .5 1 .5 1 .5 1 .5 1 .5 1 .4 1 .5 1 .5 1 .4 1 .5 1 .4 1 .5 1 .4 1 .4 1 .4 1 .4 1 .4 1 .4 1 .3 1 .4 1 .3 1 .4 1 .3 1 .2 1 .3 1 .3 1 .2 1 .3 1 .2 1 .2 1 .3 1 .2 1 .2 1 .2 1 .3 1 .2 1 .3 1 .2 1 .3 1 .2 1 .2 1 .2 1 .2 1 .2 1 .1 1 .1 1 .2 1 .1 1 .1 1 .2 1 .1 1 .1 1 .1 1 .1 1 .1 1 .1 1 .1 1 .1 1 .1 1 .1 1 .1 1 .1 1 .1 1 .1 1 0 1 .1 1 .1 1 0 1 .1 1 .1 1 0 1 .1 1 0 1 .1 1 .1 1 0 1 .1 1 0 1 .1 1 0 1 0 1 .1 1 0 1 .1 1 0 1 .1 1 0 1 0 1 .1 1 0 1 .1 1 0 1 0 1 .1 1 0 1 0 1 .1 1 0 1 0 1 .1 1 0 1 0 1 0 1 .1 1 0 1 0 1 .1 1 0 1 0 1 0 1 .1 1 0 1 0 1 0 1 .1 1 0 1 0 1 0 1 0 1 .1 1 0"/>
<path stroke="#88abfd" d="M1070.3 395.4l1-.4 1-.6 1-.7 1-.8 1-.9 1-1.1 1-1.3 1-1.4 1-1.5 1-1.6 1-1.5 1-1.6 1-1.5 1-1.6 1-1.8 1-1.8 1-2.1 1-2.4 1-2.7 1-3 1-3.4 1-3.7 1-3.7 1-4 1-4.2 1-4.5 1-4.5 1-4.4 1-4.2 1-3.7 1-3.3 1-3.1 1-2.8 1-2.8 1-2.7 1-2.7 1-2.2 1-1.9 1-1.8 1-1.8 1-1.8 1-1.8 1-1.8 1-1.8 1-1.8 1-1.8 1-1.7 1-1.7 1-1.7 1-1.7 1-1.8 1-1.8 1-2 1-2 1-2.2 1-2.3 1-2.3 1-2.4 1-2.4 1-2.3 1-2.4 1-2.3 1-2.3 1-2.3 1-2.3 1-2.2 1-2.3 1-2.3 1-2.3 1-2.3 1-2.3 1-2.4 1-2.4 1-2.5 1-2.6 1-2.6 1-2.6 1-2.6 1-2.5 1-2.5 1-2.4 1-2.4 1-2.2 1-2.2 1-2 1-1.9 1-2 1-2 1-1.8 1-1.7 1-1.5 1-1.1 1-.8 1-.8 1-.6 1-.7 1-.5 1-.5 1-.3 1-.1 1 0 1 .2 1 .4 1 .7 1 .8 1 1 1 1.1 1 1.3 1 1.3 1 1.6 1 2.4 1 3 1 3.3 1 3.6 1 3.6 1 3.5 1 3.4 1 3.5 1 3.7 1 3.7 1 3.8 1 3.9 1 4.1 1 4.2 1 4.4 1 4.5 1 4.7 1 5 1 5.4 1 5.7 1 5.8 1 5.9 1 6.1 1 6.4 1 6.5 1 6.6 1 6.6 1 6.6 1 6.9 1 7 1 7.1 1 6.8 1 6.4 1 5.6 1 5.2 1 4.8 1 4.5 1 4.3 1 4.1 1 3.9 1 3.7 1 3.6 1 3.3 1 3.1 1 2.9 1 2.6 1 2.7 1 3 1 3 1 3.1 1 2.8 1 2.6 1 2.3 1 2.3 1 2.2 1 2 1 1.9 1 1.7 1 1.6 1 1.5 1 1.4 1 1.4 1 1.3 1 1.3 1 1.2 1 1.2 1 1.1 1 1.1 1 1 1 1 1 1 1 .9 1 .9 1 .9 1 .9 1 .8 1 .9 1 .8 1 .8 1 .7 1 .8 1 .7 1 .7 1 .7 1 .7 1 .7 1 .6 1 .6 1 .6 1 .6 1 .5 1 .6 1 .5 1 .6 1 .5 1 .5 1 .5 1 .5 1 .4 1 .5 1 .4 1 .5 1 .4 1 .4 1 .4 1 .4 1 .4 1 .3 1 .4 1 .3 1 .3 1 .4 1 .3 1 .3 1 .3 1 .3 1 .3 1 .3 1 .3 1 .3 1 .2 1 .3 1 .3 1 .2 1 .3 1 .2 1 .2 1 .2 1 .3 1 .2 1 .2 1 .1 1 .2 1 .2 1 .1 1 .2 1 .2 1 .1 1 .2 1 .2 1 .1 1 .2 1 .2 1 .1 1 .2 1 .2 1 .1 1 .2 1 .1 1 .2 1 .1 1 .2 1 .1 1 .1 1 .1 1 .1 1 .1 1 .1 1 0 1 .1 1 0 1 0 1 0 1 0 1 0 1 0 1 0 1 0 1 0 1-.1 1 0 1-.1 1 0 1-.1 1 0 1-.1 1 0 1-.1 1-.1 1 0 1-.1 1-.1 1 0 1-.1 1-.1 1-.1 1-.1 1-.1 1-.1 1-.1 1-.1 1-.1 1-.1 1-.1 1-.2 1-.1 1-.1 1-.2 1-.1 1-.1 1-.2 1-.1 1-.1 1-.2 1-.1 1-.2 1-.1 1-.2 1-.1 1-.2 1-.2 1-.2 1-.2 1-.2 1-.2 1-.2 1-.3 1-.2 1-.3 1-.2 1-.3 1-.2 1-.3 1-.3 1-.3 1-.2 1-.3 1-.3 1-.3 1-.3 1-.3 1-.3 1-.3 1-.4 1-.3 1-.3 1-.4 1-.3 1-.3 1-.4 1-.3 1-.4 1-.3 1-.4 1-.3 1-.3 1-.4 1-.3 1-.3 1-.3 1-.4 1-.3 1-.3 1-.3 1-.3 1-.3 1-.3 1-.4 1-.3 1-.3 1-.3 1-.4 1-.3 1-.4 1-.3 1-.4 1-.3 1-.4 1-.3 1-.4 1-.3 1-.4 1-.3 1-.4 1-.4 1-.3 1-.4 1-.4 1-.3 1-.4 1-.4 1-.4 1-.4 1-.3 1-.4 1-.4 1-.4 1-.4 1-.4 1-.4 1-.4 1-.4 1-.4 1-.4 1-.4 1-.5 1-.4 1-.4 1-.5 1-.4 1-.5 1-.5 1-.4 1-.5 1-.4 1-.5 1-.4 1-.5 1-.4 1-.4 1-.4 1-.4 1-.4 1-.3 1-.4 1-.3 1-.3 1-.3 1-.3 1-.3 1-.3 1-.3 1-.3 1-.3 1-.3 1-.2 1-.3 1-.3 1-.3 1-.3 1-.2 1-.3 1-.3 1-.3 1-.3 1-.3 1-.3 1-.3 1-.3 1-.3 1-.3 1-.4 1-.3 1-.3 1-.3 1-.4 1-.3 1-.3 1-.3 1-.3 1-.3 1-.3 1-.3 1-.3 1-.3 1-.3 1-.3 1-.2 1-.3 1-.2 1-.3 1-.2 1-.3 1-.2 1-.2 1-.3 1-.2 1-.2 1-.2 1-.3 1-.2 1-.2 1-.2 1-.3 1-.2 1-.2 1-.2 1-.2 1-.2 1-.2 1-.2 1-.2 1-.2 1-.2 1-.1 1-.2 1-.1 1-.2 1-.1 1-.1 1-.2 1-.1 1-.1 1-.2 1-.1 1-.2 1-.1 1-.2 1-.1 1-.2 1-.1 1-.1 1-.2 1-.1 1-.1 1-.1 1-.1 1 0 1-.1 1-.1 1-.1 1 0 1-.1 1 0 1-.1 1 0 1-.1 1 0 1 0 1 0 1 0 1 0 1 0 1 0 1-.1 1 0 1 .1 1 0 1 0 1 0 1 0 1 .1 1 0 1 .1 1 0 1 .1 1 .1 1 .1 1 .1 1 .1 1 .1 1 .1 1 .1 1 .2 1 .1 1 .2 1 .2 1 .2 1 .2 1 .2 1 .3 1 .2 1 .2 1 .3 1 .2 1 .2 1 .2 1 .2 1 .3 1 .2 1 .3 1 .2 1 .3 1 .3 1 .4 1 .4 1 .5 1 .6 1 1.2 1 1.3 1 .8 1 .5 1 .4 1 .5 1 .4 1 .5 1 .4 1 .5 1 .4 1 .5 1 .4 1 .5 1 .5 1 .4 1 .5 1 .5 1 .5 1 .5 1 .5 1 .5 1 .5 1 .5 1 .6 1 .5 1 .6 1 .6 1 .5 1 .6 1 .6 1 .6 1 .7 1 .6 1 .6 1 .6 1 .7 1 .6 1 .6 1 .6 1 .7 1 .6 1 .6 1 .7 1 .7 1 .6 1 .7 1 .7 1 .8 1 .7 1 .8 1 .7 1 .8 1 .8 1 .8 1 .7 1 .8 1 .8 1 .9 1 .8 1 .8 1 .8 1 .8 1 .8 1 .7 1 .8 1 .7 1 .7 1 .8 1 .7 1 .7 1 .7 1 .7 1 .7 1 .6 1 .7 1 .7 1 .6 1 .7 1 .7 1 .6 1 .7 1 .7 1 .6 1 .7 1 .7 1 .7 1 .7 1 .7 1 .7 1 .6 1 .6 1 .7 1 .6 1 .6 1 .6 1 .6 1 .6 1 .6 1 .6 1 .5 1 .6 1 .5 1 .5 1 .5 1 .6 1 .5 1 .4 1 .5 1 .5 1 .5 1 .5 1 .4 1 .5 1 .5 1 .4 1 .5 1 .4 1 .4 1 .5 1 .4 1 .4 1 .4 1 .4 1 .4 1 .3 1 .4 1 .4 1 .3 1 .4 1 .3 1 .3 1 .3 1 .3 1 .3 1 .2 1 .2 1 .3 1 .2 1 .2 1 .2 1 .2 1 .3 1 .2 1 .2 1 .2 1 .2 1 .3 1 .2 1 .2 1 .2 1 .2 1 .2 1 .2 1 .1 1 .2 1 .1 1 .1 1 .1 1 .2 1 .1 1 .1 1 .1 1 .1 1 .1 1 .1 1 .1 1 .1 1 .1 1 .1 1 .1 1 0 1 .1 1 .1 1 .1 1 0 1 .1 1 .1 1 0 1 .1 1 0 1 .1 1 0 1 .1 1 .1 1 0 1 .1 1 0 1 0 1 .1 1 0 1 .1 1 0 1 .1 1 0 1 0 1 .1 1 0 1 0 1 .1 1 0 1 .1 1 0 1 0 1 0 1 .1 1 0 1 0 1 .1 1 0 1 0 1 .1 1 0 1 0 1 0 1 .1 1 0 1 0 1 0 1 .1 1 0 1 0 1 0 1 .1 1 0 1 0 1 0 1 0 1 0 1 .1 1 0 1 0"/>
<path stroke="#9dbdff" d="M1070.3 397.2l1-.5 1-.6 1-.7 1-.8 1-.9 1-1.1 1-1.2 1-1.4 1-1.5 1-1.5 1-1.4 1-1.5 1-1.5 1-1.5 1-1.7 1-1.8 1-2 1-2.2 1-2.6 1-3.1 1-3.4 1-3.6 1-3.8 1-4.1 1-4.4 1-4.6 1-4.6 1-4.5 1-4.2 1-3.9 1-3.4 1-3.2 1-3 1-3 1-3 1-2.8 1-2.3 1-1.9 1-1.8 1-1.7 1-1.6 1-1.5 1-1.5 1-1.5 1-1.5 1-1.4 1-1.4 1-1.3 1-1.4 1-1.4 1-1.4 1-1.5 1-1.6 1-1.7 1-1.9 1-1.9 1-1.9 1-2 1-2 1-2 1-2 1-1.9 1-2 1-1.9 1-1.9 1-2 1-1.9 1-2 1-1.9 1-2 1-2 1-2 1-2.1 1-2.2 1-2.2 1-2.2 1-2.3 1-2.3 1-2.2 1-2.2 1-2.1 1-2.1 1-2 1-1.8 1-1.8 1-1.7 1-1.8 1-1.7 1-1.6 1-1.5 1-1.2 1-1 1-.7 1-.6 1-.6 1-.5 1-.4 1-.4 1-.2 1-.1 1 .1 1 .2 1 .5 1 .7 1 .8 1 1 1 1.1 1 1.2 1 1.2 1 1.6 1 2.2 1 2.8 1 3.2 1 3.3 1 3.4 1 3.2 1 3.2 1 3.3 1 3.4 1 3.4 1 3.6 1 3.6 1 3.8 1 3.9 1 4.1 1 4.1 1 4.4 1 4.7 1 5 1 5.2 1 5.4 1 5.4 1 5.7 1 5.9 1 6 1 6.1 1 6.1 1 6.1 1 6.3 1 6.5 1 6.5 1 6.3 1 5.8 1 5.3 1 4.7 1 4.5 1 4.1 1 4 1 3.8 1 3.6 1 3.5 1 3.2 1 3.1 1 2.9 1 2.6 1 2.5 1 2.5 1 2.7 1 2.8 1 2.8 1 2.7 1 2.3 1 2.2 1 2.1 1 2 1 1.8 1 1.8 1 1.6 1 1.5 1 1.4 1 1.3 1 1.2 1 1.3 1 1.1 1 1.2 1 1 1 1.1 1 1 1 1 1 .9 1 .9 1 .8 1 .9 1 .8 1 .8 1 .8 1 .8 1 .7 1 .8 1 .7 1 .7 1 .7 1 .6 1 .7 1 .6 1 .6 1 .6 1 .6 1 .5 1 .6 1 .5 1 .5 1 .5 1 .5 1 .5 1 .5 1 .5 1 .4 1 .4 1 .5 1 .4 1 .4 1 .4 1 .3 1 .4 1 .4 1 .3 1 .4 1 .3 1 .3 1 .3 1 .3 1 .3 1 .3 1 .3 1 .2 1 .3 1 .3 1 .2 1 .3 1 .3 1 .2 1 .2 1 .3 1 .2 1 .2 1 .2 1 .2 1 .2 1 .2 1 .2 1 .2 1 .1 1 .2 1 .1 1 .2 1 .2 1 .1 1 .2 1 .1 1 .2 1 .1 1 .2 1 .1 1 .2 1 .2 1 .1 1 .2 1 .1 1 .2 1 .1 1 .2 1 .1 1 .1 1 .1 1 .1 1 .1 1 .1 1 .1 1 0 1 .1 1 0 1 0 1 0 1 0 1 0 1 0 1 0 1 0 1 0 1 0 1-.1 1 0 1 0 1-.1 1 0 1-.1 1 0 1-.1 1 0 1-.1 1 0 1-.1 1 0 1-.1 1-.1 1 0 1-.1 1-.1 1-.1 1-.1 1-.1 1-.1 1-.1 1-.1 1-.1 1-.1 1-.1 1-.1 1-.1 1-.1 1-.1 1-.1 1-.1 1-.1 1-.1 1-.1 1-.1 1-.2 1-.1 1-.1 1-.2 1-.2 1-.1 1-.2 1-.2 1-.2 1-.2 1-.2 1-.2 1-.2 1-.3 1-.2 1-.2 1-.3 1-.2 1-.3 1-.2 1-.3 1-.2 1-.3 1-.2 1-.3 1-.3 1-.3 1-.3 1-.2 1-.3 1-.3 1-.3 1-.3 1-.3 1-.3 1-.3 1-.3 1-.3 1-.2 1-.3 1-.2 1-.3 1-.3 1-.2 1-.2 1-.3 1-.2 1-.3 1-.3 1-.2 1-.3 1-.2 1-.3 1-.3 1-.3 1-.3 1-.3 1-.3 1-.2 1-.3 1-.3 1-.3 1-.3 1-.3 1-.3 1-.3 1-.4 1-.3 1-.3 1-.3 1-.3 1-.3 1-.3 1-.4 1-.3 1-.3 1-.4 1-.3 1-.3 1-.4 1-.3 1-.3 1-.4 1-.3 1-.4 1-.3 1-.4 1-.4 1-.4 1-.4 1-.4 1-.4 1-.4 1-.4 1-.4 1-.4 1-.4 1-.3 1-.4 1-.4 1-.4 1-.4 1-.3 1-.4 1-.3 1-.3 1-.3 1-.3 1-.3 1-.2 1-.3 1-.2 1-.3 1-.2 1-.3 1-.2 1-.3 1-.2 1-.3 1-.2 1-.3 1-.2 1-.2 1-.3 1-.2 1-.3 1-.2 1-.3 1-.3 1-.2 1-.3 1-.3 1-.3 1-.3 1-.3 1-.2 1-.3 1-.3 1-.3 1-.3 1-.2 1-.3 1-.3 1-.2 1-.3 1-.3 1-.2 1-.3 1-.2 1-.3 1-.2 1-.2 1-.2 1-.2 1-.3 1-.2 1-.2 1-.2 1-.2 1-.1 1-.2 1-.2 1-.2 1-.2 1-.2 1-.2 1-.2 1-.2 1-.2 1-.2 1-.2 1-.1 1-.2 1-.2 1-.1 1-.1 1-.2 1-.1 1-.1 1-.1 1-.2 1-.1 1-.1 1-.1 1-.1 1-.1 1-.2 1-.1 1-.1 1-.1 1-.2 1-.1 1-.1 1-.1 1-.1 1-.1 1-.1 1-.1 1-.1 1 0 1-.1 1 0 1-.1 1 0 1-.1 1 0 1-.1 1 0 1 0 1 0 1 0 1 0 1 0 1 0 1 0 1 0 1 0 1 0 1 0 1 0 1 .1 1 0 1 0 1 .1 1 0 1 .1 1 .1 1 0 1 .1 1 .1 1 .1 1 .1 1 .2 1 .1 1 .1 1 .1 1 .2 1 .1 1 .2 1 .2 1 .2 1 .3 1 .2 1 .2 1 .2 1 .3 1 .2 1 .2 1 .2 1 .2 1 .2 1 .3 1 .2 1 .2 1 .3 1 .3 1 .3 1 .4 1 .5 1 .6 1 1.1 1 1.2 1 .8 1 .4 1 .4 1 .4 1 .5 1 .4 1 .4 1 .4 1 .5 1 .4 1 .4 1 .4 1 .5 1 .4 1 .5 1 .4 1 .5 1 .4 1 .5 1 .5 1 .5 1 .5 1 .5 1 .5 1 .5 1 .5 1 .6 1 .5 1 .6 1 .6 1 .5 1 .6 1 .6 1 .6 1 .6 1 .5 1 .6 1 .6 1 .6 1 .6 1 .6 1 .6 1 .6 1 .6 1 .7 1 .6 1 .7 1 .7 1 .7 1 .7 1 .7 1 .7 1 .7 1 .8 1 .7 1 .7 1 .8 1 .7 1 .8 1 .7 1 .8 1 .7 1 .7 1 .7 1 .6 1 .7 1 .7 1 .6 1 .7 1 .7 1 .6 1 .6 1 .7 1 .6 1 .6 1 .6 1 .6 1 .6 1 .6 1 .6 1 .7 1 .6 1 .6 1 .7 1 .6 1 .6 1 .7 1 .6 1 .6 1 .6 1 .6 1 .5 1 .6 1 .6 1 .5 1 .6 1 .5 1 .5 1 .5 1 .5 1 .5 1 .5 1 .5 1 .5 1 .4 1 .5 1 .4 1 .5 1 .4 1 .5 1 .4 1 .4 1 .5 1 .4 1 .4 1 .4 1 .4 1 .4 1 .4 1 .3 1 .4 1 .4 1 .3 1 .4 1 .3 1 .4 1 .3 1 .3 1 .3 1 .3 1 .3 1 .2 1 .3 1 .2 1 .2 1 .2 1 .2 1 .2 1 .2 1 .2 1 .2 1 .2 1 .2 1 .2 1 .2 1 .2 1 .2 1 .2 1 .2 1 .2 1 .2 1 .2 1 .1 1 .1 1 .2 1 .1 1 .1 1 .1 1 .1 1 .1 1 .1 1 .1 1 .1 1 .1 1 .1 1 .1 1 0 1 .1 1 .1 1 .1 1 0 1 .1 1 .1 1 0 1 .1 1 .1 1 0 1 .1 1 0 1 .1 1 0 1 .1 1 0 1 .1 1 0 1 .1 1 0 1 0 1 .1 1 0 1 .1 1 0 1 0 1 .1 1 0 1 0 1 .1 1 0 1 0 1 .1 1 0 1 0 1 0 1 .1 1 0 1 0 1 .1 1 0 1 0 1 0 1 .1 1 0 1 0 1 0 1 .1 1 0 1 0 1 0 1 0 1 .1 1 0 1 0 1 0 1 0 1 .1 1 0 1 0 1 0 1 0 1 0"/>
<path stroke="#b1cbfc" d="M1070.3 399.6l1-.5 1-.7 1-.7 1-.8 1-.9 1-1 1-1.2 1-1.3 1-1.4 1-1.4 1-1.4 1-1.4 1-1.4 1-1.4 1-1.6 1-1.7 1-1.9 1-2.1 1-2.5 1-3 1-3.3 1-3.6 1-3.9 1-4.4 1-4.5 1-4.8 1-4.7 1-4.6 1-4.4 1-4 1-3.7 1-3.4 1-3.2 1-3.3 1-3.2 1-3.1 1-2.4 1-1.9 1-1.7 1-1.6 1-1.4 1-1.1 1-1 1-1.1 1-1 1-1 1-1 1-.9 1-.9 1-.9 1-1 1-1 1-1.1 1-1.2 1-1.4 1-1.4 1-1.4 1-1.5 1-1.5 1-1.5 1-1.5 1-1.5 1-1.4 1-1.5 1-1.5 1-1.4 1-1.5 1-1.4 1-1.5 1-1.5 1-1.5 1-1.6 1-1.7 1-1.7 1-1.8 1-1.8 1-1.8 1-1.8 1-1.8 1-1.8 1-1.8 1-1.6 1-1.6 1-1.5 1-1.4 1-1.4 1-1.5 1-1.4 1-1.3 1-1.2 1-1 1-.7 1-.5 1-.5 1-.4 1-.3 1-.3 1-.2 1-.1 1 0 1 .1 1 .3 1 .5 1 .7 1 .8 1 1 1 1 1 1.1 1 1.2 1 1.5 1 2.1 1 2.5 1 2.8 1 3.1 1 3 1 2.9 1 2.9 1 3 1 3 1 3.1 1 3.2 1 3.3 1 3.4 1 3.5 1 3.6 1 3.7 1 3.9 1 4.2 1 4.5 1 4.6 1 4.8 1 4.8 1 5.1 1 5.2 1 5.4 1 5.4 1 5.4 1 5.4 1 5.6 1 5.7 1 5.8 1 5.5 1 5.2 1 4.7 1 4.2 1 3.9 1 3.7 1 3.5 1 3.4 1 3.2 1 3.1 1 2.9 1 2.7 1 2.6 1 2.3 1 2.2 1 2.2 1 2.4 1 2.6 1 2.5 1 2.3 1 2.1 1 1.9 1 1.9 1 1.7 1 1.7 1 1.5 1 1.4 1 1.3 1 1.2 1 1.2 1 1.1 1 1.1 1 1 1 1 1 .9 1 .9 1 .9 1 .9 1 .8 1 .8 1 .7 1 .8 1 .7 1 .7 1 .7 1 .7 1 .6 1 .7 1 .6 1 .7 1 .6 1 .6 1 .5 1 .6 1 .5 1 .6 1 .5 1 .5 1 .5 1 .5 1 .4 1 .5 1 .4 1 .5 1 .4 1 .4 1 .4 1 .4 1 .4 1 .3 1 .4 1 .3 1 .3 1 .4 1 .3 1 .3 1 .3 1 .3 1 .2 1 .3 1 .3 1 .2 1 .3 1 .2 1 .3 1 .2 1 .2 1 .3 1 .2 1 .2 1 .2 1 .2 1 .2 1 .2 1 .2 1 .2 1 .2 1 .2 1 .1 1 .2 1 .2 1 .1 1 .1 1 .2 1 .1 1 .1 1 .2 1 .1 1 .1 1 .2 1 .1 1 .2 1 .1 1 .2 1 .1 1 .2 1 .2 1 .1 1 .2 1 .1 1 .2 1 .1 1 .1 1 .1 1 .1 1 .1 1 .1 1 .1 1 .1 1 0 1 .1 1 0 1 0 1 .1 1 0 1 0 1 0 1 0 1 0 1 0 1 0 1 0 1 0 1 0 1-.1 1 0 1 0 1 0 1-.1 1 0 1 0 1-.1 1 0 1 0 1-.1 1 0 1-.1 1 0 1-.1 1-.1 1 0 1-.1 1 0 1-.1 1 0 1-.1 1-.1 1 0 1-.1 1 0 1-.1 1 0 1-.1 1 0 1-.1 1-.1 1 0 1-.1 1-.1 1-.1 1 0 1-.1 1-.2 1-.1 1-.1 1-.1 1-.2 1-.1 1-.2 1-.2 1-.1 1-.2 1-.2 1-.1 1-.2 1-.2 1-.2 1-.2 1-.2 1-.2 1-.2 1-.2 1-.2 1-.2 1-.2 1-.2 1-.2 1-.3 1-.2 1-.2 1-.2 1-.2 1-.2 1-.2 1-.2 1-.2 1-.1 1-.2 1-.2 1-.1 1-.2 1-.1 1-.2 1-.1 1-.2 1-.1 1-.2 1-.2 1-.2 1-.1 1-.2 1-.2 1-.2 1-.2 1-.2 1-.2 1-.2 1-.3 1-.2 1-.2 1-.2 1-.2 1-.2 1-.3 1-.2 1-.2 1-.2 1-.3 1-.2 1-.2 1-.3 1-.2 1-.3 1-.2 1-.3 1-.2 1-.3 1-.2 1-.3 1-.3 1-.2 1-.3 1-.3 1-.3 1-.2 1-.3 1-.3 1-.4 1-.3 1-.3 1-.3 1-.3 1-.3 1-.3 1-.4 1-.3 1-.3 1-.3 1-.2 1-.3 1-.3 1-.2 1-.3 1-.2 1-.2 1-.3 1-.2 1-.2 1-.1 1-.2 1-.2 1-.2 1-.2 1-.2 1-.2 1-.2 1-.1 1-.2 1-.2 1-.2 1-.2 1-.2 1-.2 1-.2 1-.2 1-.2 1-.2 1-.2 1-.3 1-.2 1-.2 1-.3 1-.2 1-.2 1-.2 1-.3 1-.2 1-.2 1-.2 1-.2 1-.2 1-.2 1-.2 1-.3 1-.2 1-.1 1-.2 1-.2 1-.2 1-.2 1-.1 1-.2 1-.2 1-.1 1-.2 1-.1 1-.2 1-.1 1-.2 1-.1 1-.2 1-.1 1-.2 1-.1 1-.2 1-.1 1-.2 1-.1 1-.1 1-.2 1-.1 1-.1 1-.1 1-.1 1-.1 1-.1 1-.1 1 0 1-.1 1-.1 1-.1 1-.1 1-.1 1 0 1-.1 1-.1 1-.1 1-.1 1-.1 1-.1 1-.1 1 0 1-.1 1-.1 1 0 1-.1 1 0 1 0 1-.1 1 0 1 0 1-.1 1 0 1 0 1 0 1 0 1 0 1 0 1 0 1 .1 1 0 1 0 1 0 1 0 1 .1 1 0 1 0 1 .1 1 0 1 .1 1 0 1 .1 1 0 1 .1 1 .1 1 .1 1 .1 1 .1 1 .1 1 .2 1 .1 1 .1 1 .1 1 .2 1 .1 1 .2 1 .2 1 .2 1 .2 1 .2 1 .3 1 .2 1 .2 1 .2 1 .2 1 .2 1 .2 1 .2 1 .2 1 .2 1 .3 1 .2 1 .3 1 .3 1 .4 1 .4 1 .5 1 1 1 1 1 .7 1 .5 1 .3 1 .4 1 .4 1 .4 1 .3 1 .4 1 .4 1 .4 1 .4 1 .3 1 .4 1 .4 1 .4 1 .4 1 .4 1 .5 1 .4 1 .4 1 .4 1 .5 1 .4 1 .5 1 .4 1 .5 1 .5 1 .5 1 .5 1 .5 1 .5 1 .5 1 .5 1 .5 1 .6 1 .5 1 .5 1 .5 1 .5 1 .5 1 .6 1 .5 1 .5 1 .6 1 .5 1 .6 1 .6 1 .6 1 .6 1 .6 1 .7 1 .6 1 .6 1 .7 1 .6 1 .6 1 .7 1 .7 1 .6 1 .7 1 .6 1 .6 1 .6 1 .6 1 .6 1 .6 1 .6 1 .6 1 .5 1 .6 1 .6 1 .5 1 .6 1 .5 1 .6 1 .5 1 .5 1 .5 1 .6 1 .5 1 .6 1 .5 1 .6 1 .5 1 .6 1 .5 1 .6 1 .5 1 .5 1 .6 1 .5 1 .5 1 .5 1 .4 1 .5 1 .5 1 .5 1 .4 1 .5 1 .4 1 .5 1 .4 1 .4 1 .4 1 .4 1 .4 1 .4 1 .4 1 .4 1 .4 1 .3 1 .4 1 .4 1 .4 1 .3 1 .4 1 .3 1 .4 1 .3 1 .3 1 .4 1 .3 1 .3 1 .3 1 .3 1 .3 1 .3 1 .2 1 .3 1 .3 1 .2 1 .2 1 .2 1 .2 1 .2 1 .2 1 .2 1 .2 1 .1 1 .2 1 .2 1 .2 1 .1 1 .2 1 .2 1 .2 1 .1 1 .2 1 .2 1 .1 1 .2 1 .1 1 .2 1 .1 1 .1 1 .1 1 .1 1 .1 1 .1 1 .1 1 0 1 .1 1 .1 1 .1 1 .1 1 0 1 .1 1 .1 1 0 1 .1 1 .1 1 0 1 .1 1 0 1 .1 1 0 1 .1 1 0 1 .1 1 0 1 .1 1 0 1 .1 1 0 1 0 1 .1 1 0 1 0 1 .1 1 0 1 0 1 .1 1 0 1 0 1 .1 1 0 1 0 1 .1 1 0 1 0 1 0 1 .1 1 0 1 0 1 0 1 .1 1 0 1 0 1 0 1 0 1 .1 1 0 1 0 1 0 1 0 1 .1 1 0 1 0 1 0 1 0 1 .1 1 0 1 0 1 0 1 0 1 0 1 0 1 .1 1 0 1 0"/>
<path stroke="#c4d5f3" d="M1070.3 401.8l1-.5 1-.7 1-.7 1-.8 1-.9 1-1 1-1.1 1-1.3 1-1.3 1-1.4 1-1.3 1-1.3 1-1.3 1-1.3 1-1.5 1-1.6 1-1.8 1-2 1-2.4 1-2.8 1-3.4 1-3.6 1-4 1-4.5 1-4.8 1-4.9 1-4.8 1-4.7 1-4.5 1-4.2 1-3.8 1-3.6 1-3.5 1-3.5 1-3.5 1-3.3 1-2.5 1-1.9 1-1.7 1-1.5 1-1.1 1-.8 1-.6 1-.6 1-.7 1-.6 1-.5 1-.5 1-.5 1-.4 1-.6 1-.5 1-.7 1-.7 1-.9 1-1 1-.9 1-1 1-1.1 1-1 1-1 1-1 1-1 1-1 1-1 1-1.1 1-1 1-1 1-1 1-1.1 1-1.1 1-1.1 1-1.2 1-1.3 1-1.4 1-1.4 1-1.4 1-1.4 1-1.4 1-1.4 1-1.4 1-1.3 1-1.2 1-1.2 1-1.1 1-1.1 1-1.1 1-1.1 1-1 1-.9 1-.8 1-.5 1-.4 1-.2 1-.3 1-.2 1-.1 1-.1 1 0 1 .1 1 .2 1 .4 1 .5 1 .7 1 .8 1 .9 1 1 1 1.1 1 1.1 1 1.4 1 1.9 1 2.3 1 2.5 1 2.8 1 2.7 1 2.6 1 2.6 1 2.6 1 2.8 1 2.7 1 2.9 1 2.9 1 3.1 1 3.1 1 3.2 1 3.3 1 3.5 1 3.7 1 3.9 1 4.1 1 4.2 1 4.3 1 4.5 1 4.6 1 4.7 1 4.7 1 4.8 1 4.7 1 4.9 1 5.1 1 5 1 4.9 1 4.6 1 4 1 3.7 1 3.5 1 3.3 1 3.1 1 2.9 1 2.8 1 2.8 1 2.5 1 2.4 1 2.3 1 2 1 2 1 2 1 2.1 1 2.2 1 2.2 1 2.1 1 1.8 1 1.7 1 1.6 1 1.6 1 1.4 1 1.3 1 1.3 1 1.1 1 1.1 1 1 1 .9 1 .9 1 .9 1 .9 1 .8 1 .8 1 .8 1 .7 1 .7 1 .7 1 .7 1 .6 1 .7 1 .6 1 .6 1 .6 1 .6 1 .5 1 .6 1 .5 1 .6 1 .5 1 .5 1 .5 1 .5 1 .5 1 .4 1 .5 1 .4 1 .5 1 .4 1 .4 1 .4 1 .4 1 .4 1 .3 1 .4 1 .3 1 .3 1 .3 1 .3 1 .3 1 .3 1 .3 1 .3 1 .2 1 .3 1 .2 1 .3 1 .2 1 .2 1 .3 1 .2 1 .2 1 .2 1 .2 1 .2 1 .2 1 .2 1 .2 1 .2 1 .2 1 .1 1 .2 1 .2 1 .1 1 .2 1 .1 1 .2 1 .1 1 .2 1 .1 1 .1 1 .1 1 .1 1 .2 1 .1 1 .1 1 .1 1 .1 1 .2 1 .1 1 .1 1 .2 1 .2 1 .1 1 .2 1 .1 1 .2 1 .1 1 .2 1 .1 1 .2 1 .1 1 .1 1 .1 1 .1 1 .1 1 0 1 .1 1 .1 1 0 1 .1 1 0 1 .1 1 0 1 0 1 0 1 .1 1 0 1 0 1 0 1 0 1 0 1 0 1 0 1 0 1 0 1 0 1 0 1 0 1 0 1-.1 1 0 1 0 1 0 1 0 1-.1 1 0 1 0 1-.1 1 0 1 0 1 0 1 0 1-.1 1 0 1 0 1 0 1 0 1 0 1 0 1 0 1 0 1 0 1 0 1 0 1-.1 1 0 1 0 1-.1 1 0 1-.1 1 0 1-.1 1-.1 1-.1 1-.1 1-.1 1-.1 1-.1 1-.1 1-.1 1-.1 1-.1 1-.2 1-.1 1-.1 1-.2 1-.1 1-.1 1-.2 1-.1 1-.2 1-.1 1-.1 1-.2 1-.1 1-.2 1-.1 1-.2 1-.1 1-.1 1-.1 1-.1 1-.1 1-.1 1-.1 1 0 1-.1 1-.1 1 0 1-.1 1 0 1-.1 1-.1 1-.1 1-.1 1 0 1-.2 1-.1 1-.1 1-.1 1-.1 1-.1 1-.2 1-.1 1-.1 1-.1 1-.2 1-.1 1-.2 1-.1 1-.1 1-.2 1-.1 1-.2 1-.1 1-.2 1-.1 1-.2 1-.2 1-.1 1-.2 1-.2 1-.1 1-.2 1-.2 1-.2 1-.2 1-.2 1-.2 1-.2 1-.2 1-.2 1-.2 1-.2 1-.2 1-.3 1-.2 1-.2 1-.3 1-.2 1-.3 1-.2 1-.2 1-.2 1-.3 1-.2 1-.2 1-.2 1-.2 1-.1 1-.2 1-.2 1-.1 1-.2 1-.1 1-.1 1-.2 1-.1 1-.1 1-.2 1-.1 1-.1 1-.2 1-.1 1-.1 1-.2 1-.1 1-.1 1-.2 1-.1 1-.2 1-.1 1-.2 1-.2 1-.1 1-.2 1-.2 1-.1 1-.2 1-.2 1-.2 1-.1 1-.2 1-.2 1-.1 1-.2 1-.2 1-.1 1-.2 1-.2 1-.1 1-.2 1-.1 1-.1 1-.2 1-.1 1-.1 1-.2 1-.1 1-.1 1-.1 1-.1 1-.1 1-.1 1-.1 1-.2 1-.1 1-.1 1-.1 1-.1 1-.1 1-.1 1-.1 1-.1 1-.1 1-.1 1-.1 1-.1 1-.1 1 0 1-.1 1-.1 1 0 1-.1 1 0 1-.1 1 0 1-.1 1 0 1-.1 1 0 1-.1 1-.1 1 0 1-.1 1-.1 1 0 1-.1 1 0 1 0 1-.1 1 0 1 0 1 0 1 0 1-.1 1 0 1 0 1 0 1 0 1 0 1 .1 1 0 1 0 1 0 1 .1 1 0 1 0 1 .1 1 0 1 0 1 .1 1 0 1 .1 1 0 1 .1 1 0 1 .1 1 .1 1 0 1 .1 1 .1 1 .1 1 .1 1 .2 1 .1 1 .1 1 .1 1 .1 1 .2 1 .1 1 .2 1 .1 1 .2 1 .2 1 .2 1 .2 1 .2 1 .2 1 .2 1 .2 1 .2 1 .2 1 .2 1 .2 1 .2 1 .2 1 .2 1 .3 1 .2 1 .3 1 .3 1 .4 1 .5 1 .8 1 .9 1 .7 1 .3 1 .4 1 .3 1 .3 1 .4 1 .3 1 .4 1 .3 1 .4 1 .3 1 .3 1 .4 1 .3 1 .4 1 .4 1 .3 1 .4 1 .4 1 .4 1 .3 1 .4 1 .4 1 .4 1 .4 1 .4 1 .5 1 .4 1 .4 1 .5 1 .4 1 .5 1 .4 1 .5 1 .4 1 .5 1 .4 1 .5 1 .4 1 .5 1 .4 1 .5 1 .5 1 .5 1 .4 1 .5 1 .6 1 .5 1 .5 1 .6 1 .5 1 .5 1 .6 1 .5 1 .6 1 .5 1 .6 1 .6 1 .5 1 .6 1 .5 1 .6 1 .5 1 .5 1 .5 1 .6 1 .5 1 .5 1 .5 1 .4 1 .5 1 .5 1 .5 1 .4 1 .5 1 .5 1 .4 1 .5 1 .4 1 .5 1 .5 1 .4 1 .5 1 .5 1 .5 1 .5 1 .4 1 .5 1 .4 1 .5 1 .4 1 .5 1 .4 1 .4 1 .4 1 .4 1 .4 1 .4 1 .4 1 .4 1 .4 1 .4 1 .3 1 .4 1 .3 1 .4 1 .3 1 .3 1 .4 1 .3 1 .3 1 .4 1 .3 1 .3 1 .3 1 .3 1 .3 1 .3 1 .3 1 .3 1 .3 1 .2 1 .3 1 .3 1 .2 1 .3 1 .2 1 .3 1 .2 1 .2 1 .2 1 .2 1 .2 1 .2 1 .2 1 .1 1 .2 1 .1 1 .2 1 .1 1 .2 1 .1 1 .2 1 .1 1 .2 1 .1 1 .2 1 .1 1 .2 1 .1 1 .1 1 .2 1 .1 1 .1 1 0 1 .1 1 .1 1 .1 1 .1 1 0 1 .1 1 .1 1 .1 1 0 1 .1 1 .1 1 0 1 .1 1 0 1 .1 1 0 1 .1 1 0 1 .1 1 0 1 .1 1 0 1 .1 1 0 1 0 1 .1 1 0 1 .1 1 0 1 0 1 .1 1 0 1 0 1 0 1 .1 1 0 1 0 1 .1 1 0 1 0 1 0 1 .1 1 0 1 0 1 0 1 0 1 .1 1 0 1 0 1 0 1 0 1 .1 1 0 1 0 1 0 1 0 1 .1 1 0 1 0 1 0 1 0 1 0 1 0 1 .1 1 0 1 0 1 0 1 0 1 0 1 0 1 .1 1 0 1 0 1 0 1 0"/>
<path stroke="#d5dbe5" d="M1070.3 404.2l1-.6 1-.7 1-.7 1-.8 1-.8 1-1 1-1.1 1-1.2 1-1.3 1-1.2 1-1.3 1-1.2 1-1.2 1-1.2 1-1.4 1-1.5 1-1.7 1-1.9 1-2.2 1-2.8 1-3.3 1-3.7 1-4 1-4.7 1-5 1-5.1 1-4.9 1-4.8 1-4.6 1-4.4 1-4 1-3.9 1-3.6 1-3.8 1-3.9 1-3.5 1-2.6 1-1.9 1-1.6 1-1.4 1-.9 1-.4 1-.2 1-.1 1-.2 1-.2 1-.1 1 0 1-.1 1 0 1 0 1-.1 1-.2 1-.3 1-.4 1-.4 1-.5 1-.5 1-.5 1-.5 1-.5 1-.6 1-.5 1-.5 1-.6 1-.5 1-.5 1-.6 1-.5 1-.6 1-.7 1-.6 1-.8 1-.9 1-.9 1-.9 1-1 1-1 1-1 1-.9 1-1 1-.9 1-.9 1-.8 1-.7 1-.8 1-.8 1-.7 1-.8 1-.6 1-.5 1-.3 1-.2 1-.1 1-.1 1 0 1 0 1 0 1 .1 1 .2 1 .3 1 .5 1 .5 1 .7 1 .8 1 .9 1 1 1 1 1 1.1 1 1.2 1 1.7 1 2.1 1 2.2 1 2.4 1 2.4 1 2.3 1 2.3 1 2.3 1 2.4 1 2.4 1 2.5 1 2.6 1 2.6 1 2.7 1 2.8 1 2.9 1 3 1 3.2 1 3.4 1 3.6 1 3.6 1 3.7 1 3.8 1 3.9 1 4.1 1 4 1 4.1 1 4 1 4.2 1 4.3 1 4.3 1 4.2 1 3.8 1 3.5 1 3.2 1 2.9 1 2.8 1 2.7 1 2.5 1 2.4 1 2.4 1 2.2 1 2 1 2 1 1.7 1 1.7 1 1.7 1 1.8 1 1.9 1 1.9 1 1.7 1 1.6 1 1.5 1 1.4 1 1.3 1 1.2 1 1.2 1 1.1 1 1 1 .9 1 .9 1 .8 1 .8 1 .8 1 .8 1 .7 1 .7 1 .6 1 .7 1 .6 1 .6 1 .6 1 .6 1 .5 1 .6 1 .5 1 .5 1 .5 1 .5 1 .5 1 .5 1 .5 1 .5 1 .4 1 .5 1 .4 1 .5 1 .4 1 .4 1 .4 1 .4 1 .3 1 .4 1 .4 1 .3 1 .4 1 .3 1 .3 1 .3 1 .2 1 .3 1 .3 1 .2 1 .3 1 .2 1 .3 1 .2 1 .2 1 .2 1 .3 1 .2 1 .2 1 .1 1 .2 1 .2 1 .2 1 .2 1 .2 1 .1 1 .2 1 .2 1 .1 1 .2 1 .2 1 .1 1 .2 1 .1 1 .1 1 .2 1 .1 1 .1 1 .1 1 .1 1 .1 1 .1 1 .1 1 .1 1 .1 1 .2 1 .1 1 .1 1 .1 1 .1 1 .2 1 .1 1 .2 1 .1 1 .2 1 .1 1 .2 1 .1 1 .2 1 .1 1 .2 1 .1 1 .1 1 .1 1 .1 1 .1 1 .1 1 .1 1 0 1 .1 1 .1 1 0 1 .1 1 0 1 .1 1 0 1 .1 1 0 1 0 1 .1 1 0 1 0 1 0 1 0 1 0 1 0 1 .1 1 0 1 0 1 0 1 0 1 0 1 0 1 0 1 0 1 0 1 0 1 0 1 0 1 0 1 0 1 0 1 0 1 0 1 0 1 .1 1 0 1 0 1 .1 1 0 1 0 1 .1 1 0 1 0 1 .1 1 0 1 0 1 0 1 0 1 0 1 0 1 0 1 0 1-.1 1 0 1 0 1-.1 1 0 1-.1 1-.1 1 0 1-.1 1-.1 1-.1 1 0 1-.1 1-.1 1-.1 1-.1 1-.1 1 0 1-.1 1-.1 1-.1 1-.1 1-.1 1-.1 1-.1 1 0 1-.1 1 0 1-.1 1 0 1 0 1 0 1 0 1 0 1 0 1 0 1 0 1 0 1 0 1 0 1 0 1 0 1 0 1 0 1 0 1-.1 1 0 1-.1 1 0 1-.1 1 0 1-.1 1-.1 1 0 1-.1 1-.1 1 0 1-.1 1-.1 1-.1 1 0 1-.1 1-.1 1-.1 1-.1 1-.1 1-.1 1-.1 1-.1 1-.1 1-.1 1-.1 1-.1 1-.2 1-.1 1-.1 1-.1 1-.2 1-.1 1-.2 1-.1 1-.2 1-.1 1-.2 1-.2 1-.1 1-.2 1-.2 1-.1 1-.2 1-.2 1-.1 1-.2 1-.1 1-.2 1-.1 1-.2 1-.1 1-.1 1-.1 1-.1 1-.1 1-.1 1-.1 1-.1 1 0 1-.1 1-.1 1-.1 1-.1 1-.1 1-.1 1-.1 1-.1 1 0 1-.1 1-.1 1-.1 1-.1 1-.1 1-.2 1-.1 1-.1 1-.1 1-.2 1-.1 1-.1 1-.2 1-.1 1-.1 1-.1 1-.2 1-.1 1-.1 1-.1 1-.2 1-.1 1-.1 1-.1 1-.1 1-.1 1-.1 1-.1 1-.1 1-.1 1-.1 1-.1 1 0 1-.1 1-.1 1-.1 1-.1 1 0 1-.1 1-.1 1-.1 1 0 1-.1 1-.1 1-.1 1 0 1-.1 1-.1 1 0 1-.1 1 0 1-.1 1 0 1-.1 1 0 1 0 1-.1 1 0 1 0 1 0 1-.1 1 0 1 0 1-.1 1 0 1 0 1-.1 1 0 1 0 1-.1 1 0 1 0 1 0 1 0 1 0 1 0 1 0 1 0 1 0 1 0 1 0 1 0 1 .1 1 0 1 0 1 0 1 .1 1 0 1 .1 1 0 1 .1 1 0 1 .1 1 0 1 .1 1 0 1 .1 1 0 1 .1 1 .1 1 0 1 .1 1 .1 1 .1 1 .1 1 .1 1 .1 1 .1 1 .2 1 .1 1 .1 1 .1 1 .2 1 .1 1 .2 1 .1 1 .2 1 .2 1 .2 1 .2 1 .2 1 .2 1 .2 1 .2 1 .1 1 .2 1 .2 1 .2 1 .2 1 .2 1 .2 1 .2 1 .3 1 .2 1 .3 1 .3 1 .5 1 .7 1 .8 1 .6 1 .3 1 .3 1 .3 1 .3 1 .3 1 .4 1 .3 1 .3 1 .3 1 .3 1 .3 1 .3 1 .3 1 .3 1 .4 1 .3 1 .3 1 .4 1 .3 1 .3 1 .4 1 .3 1 .4 1 .4 1 .3 1 .4 1 .4 1 .4 1 .4 1 .4 1 .4 1 .4 1 .4 1 .4 1 .4 1 .4 1 .4 1 .4 1 .4 1 .4 1 .4 1 .4 1 .4 1 .4 1 .5 1 .4 1 .5 1 .4 1 .5 1 .5 1 .4 1 .5 1 .5 1 .5 1 .5 1 .4 1 .5 1 .5 1 .5 1 .5 1 .5 1 .4 1 .5 1 .4 1 .5 1 .4 1 .4 1 .5 1 .4 1 .4 1 .4 1 .4 1 .4 1 .4 1 .4 1 .4 1 .4 1 .4 1 .4 1 .4 1 .4 1 .5 1 .4 1 .4 1 .4 1 .4 1 .4 1 .4 1 .4 1 .4 1 .3 1 .4 1 .4 1 .4 1 .3 1 .4 1 .3 1 .3 1 .4 1 .3 1 .3 1 .3 1 .3 1 .3 1 .4 1 .2 1 .3 1 .3 1 .3 1 .3 1 .3 1 .3 1 .2 1 .3 1 .3 1 .3 1 .2 1 .3 1 .2 1 .2 1 .3 1 .2 1 .2 1 .3 1 .2 1 .2 1 .2 1 .2 1 .2 1 .2 1 .2 1 .1 1 .2 1 .1 1 .1 1 .2 1 .1 1 .1 1 .2 1 .1 1 .1 1 .1 1 .2 1 .1 1 .1 1 .2 1 .1 1 .1 1 .1 1 .2 1 .1 1 .1 1 0 1 .1 1 .1 1 .1 1 0 1 .1 1 .1 1 0 1 .1 1 0 1 .1 1 .1 1 0 1 .1 1 0 1 .1 1 0 1 .1 1 0 1 .1 1 0 1 0 1 .1 1 0 1 0 1 .1 1 0 1 0 1 .1 1 0 1 0 1 .1 1 0 1 0 1 0 1 .1 1 0 1 0 1 0 1 .1 1 0 1 0 1 0 1 0 1 .1 1 0 1 0 1 0 1 0 1 .1 1 0 1 0 1 0 1 0 1 0 1 0 1 .1 1 0 1 0 1 0 1 0 1 0 1 0 1 .1 1 0 1 0 1 0 1 0 1 0 1 0 1 0 1 0 1 .1 1 0 1 0 1 0 1 0"/>
<path stroke="#e4d9d2" d="M1070.3 406.5l1-.6 1-.7 1-.8 1-.8 1-.8 1-1 1-1 1-1.1 1-1.2 1-1.2 1-1.2 1-1.1 1-1.1 1-1.2 1-1.3 1-1.4 1-1.5 1-1.8 1-2.1 1-2.8 1-3.2 1-3.7 1-4.1 1-4.8 1-5.3 1-5.2 1-5 1-4.9 1-4.8 1-4.5 1-4.2 1-4.1 1-3.9 1-4 1-4.2 1-3.7 1-2.8 1-1.8 1-1.6 1-1.2 1-.7 1-.1 1 .3 1 .3 1 .2 1 .2 1 .3 1 .4 1 .4 1 .5 1 .4 1 .3 1 .3 1 .2 1 .1 1 0 1 0 1 0 1 0 1-.1 1 0 1-.1 1 0 1-.1 1-.1 1-.1 1-.1 1-.1 1-.1 1-.1 1-.2 1-.3 1-.3 1-.4 1-.5 1-.5 1-.6 1-.6 1-.5 1-.6 1-.6 1-.5 1-.5 1-.5 1-.4 1-.5 1-.4 1-.5 1-.4 1-.4 1-.2 1-.2 1 0 1 .1 1 .1 1 .1 1 .1 1 .2 1 .2 1 .3 1 .4 1 .5 1 .6 1 .7 1 .8 1 .8 1 1 1 .9 1 1 1 1.2 1 1.5 1 1.8 1 2 1 2.1 1 2 1 2 1 2 1 2.1 1 2 1 2.1 1 2.2 1 2.2 1 2.2 1 2.3 1 2.4 1 2.5 1 2.6 1 2.7 1 2.9 1 3 1 3 1 3.1 1 3.2 1 3.3 1 3.4 1 3.4 1 3.4 1 3.4 1 3.5 1 3.6 1 3.6 1 3.4 1 3.3 1 2.9 1 2.6 1 2.5 1 2.4 1 2.2 1 2.1 1 2 1 2 1 1.9 1 1.7 1 1.6 1 1.5 1 1.4 1 1.5 1 1.5 1 1.6 1 1.6 1 1.4 1 1.4 1 1.2 1 1.1 1 1.1 1 1.1 1 .9 1 .9 1 .8 1 .8 1 .7 1 .7 1 .6 1 .7 1 .6 1 .6 1 .6 1 .5 1 .5 1 .5 1 .5 1 .5 1 .5 1 .4 1 .5 1 .4 1 .5 1 .4 1 .4 1 .4 1 .4 1 .4 1 .4 1 .4 1 .4 1 .4 1 .4 1 .3 1 .4 1 .3 1 .4 1 .3 1 .3 1 .3 1 .3 1 .3 1 .3 1 .2 1 .3 1 .2 1 .2 1 .2 1 .2 1 .2 1 .2 1 .2 1 .2 1 .2 1 .2 1 .1 1 .2 1 .2 1 .1 1 .2 1 .1 1 .2 1 .1 1 .2 1 .1 1 .2 1 .1 1 .1 1 .2 1 .1 1 .1 1 .1 1 .1 1 .1 1 .2 1 .1 1 .1 1 0 1 .1 1 .1 1 .1 1 .1 1 .1 1 .1 1 .1 1 0 1 .1 1 .1 1 .2 1 .1 1 .1 1 .2 1 .1 1 .2 1 .1 1 .2 1 .2 1 .1 1 .2 1 .1 1 .2 1 .1 1 .1 1 .1 1 .1 1 .1 1 .1 1 .1 1 .1 1 0 1 .1 1 .1 1 .1 1 0 1 .1 1 0 1 .1 1 0 1 .1 1 0 1 .1 1 0 1 .1 1 0 1 0 1 0 1 .1 1 0 1 0 1 .1 1 0 1 0 1 0 1 .1 1 0 1 0 1 0 1 .1 1 0 1 .1 1 0 1 .1 1 0 1 .1 1 .1 1 0 1 .1 1 .1 1 .1 1 .1 1 .1 1 .1 1 0 1 .1 1 .1 1 .1 1 .1 1 0 1 .1 1 0 1 .1 1 0 1 0 1 .1 1 0 1 0 1 0 1 0 1 0 1 0 1-.1 1 0 1 0 1 0 1 0 1 0 1 0 1-.1 1 0 1 0 1 0 1-.1 1 0 1 0 1 0 1 0 1 0 1 0 1 0 1 .1 1 0 1 .1 1 .1 1 0 1 .1 1 .1 1 .1 1 .1 1 .1 1 .2 1 .1 1 .1 1 .1 1 0 1 .1 1 .1 1 0 1 .1 1 0 1 .1 1 0 1 0 1 .1 1 0 1 0 1 0 1 .1 1 0 1 0 1 0 1 0 1 0 1 0 1 0 1 0 1 0 1 0 1 0 1 0 1-.1 1 0 1 0 1 0 1-.1 1 0 1 0 1-.1 1 0 1-.1 1 0 1-.1 1 0 1-.1 1-.1 1-.1 1 0 1-.1 1-.1 1-.1 1-.1 1-.1 1 0 1-.1 1-.1 1-.1 1-.1 1 0 1-.1 1 0 1-.1 1 0 1-.1 1 0 1-.1 1 0 1 0 1 0 1-.1 1 0 1 0 1-.1 1 0 1 0 1-.1 1 0 1 0 1-.1 1 0 1-.1 1 0 1-.1 1 0 1-.1 1 0 1-.1 1-.1 1 0 1-.1 1-.1 1-.1 1 0 1-.1 1-.1 1 0 1-.1 1-.1 1 0 1-.1 1-.1 1 0 1-.1 1-.1 1 0 1-.1 1 0 1-.1 1 0 1 0 1-.1 1 0 1-.1 1 0 1 0 1 0 1-.1 1 0 1 0 1-.1 1 0 1 0 1-.1 1 0 1 0 1-.1 1 0 1 0 1 0 1-.1 1 0 1 0 1 0 1 0 1 0 1 0 1 0 1 0 1 .1 1 0 1 0 1 0 1 0 1 0 1 0 1 0 1 0 1 0 1 0 1 0 1 0 1 0 1 0 1 0 1 .1 1 0 1 0 1 .1 1 0 1 0 1 .1 1 0 1 .1 1 0 1 .1 1 0 1 .1 1 .1 1 0 1 .1 1 0 1 .1 1 .1 1 0 1 .1 1 .1 1 .1 1 0 1 .1 1 .1 1 .1 1 .1 1 .1 1 .1 1 .1 1 .1 1 .1 1 .2 1 .1 1 .1 1 .1 1 .2 1 .1 1 .2 1 .1 1 .2 1 .2 1 .2 1 .1 1 .2 1 .2 1 .2 1 .2 1 .1 1 .2 1 .2 1 .2 1 .1 1 .2 1 .2 1 .2 1 .2 1 .3 1 .2 1 .3 1 .4 1 .6 1 .7 1 .5 1 .3 1 .2 1 .3 1 .2 1 .3 1 .3 1 .3 1 .2 1 .3 1 .3 1 .2 1 .3 1 .3 1 .2 1 .3 1 .3 1 .3 1 .2 1 .3 1 .3 1 .3 1 .3 1 .3 1 .3 1 .3 1 .3 1 .4 1 .3 1 .3 1 .4 1 .3 1 .3 1 .4 1 .3 1 .3 1 .4 1 .3 1 .3 1 .3 1 .4 1 .3 1 .3 1 .4 1 .3 1 .4 1 .4 1 .3 1 .4 1 .4 1 .4 1 .4 1 .3 1 .4 1 .4 1 .4 1 .4 1 .4 1 .4 1 .4 1 .4 1 .4 1 .3 1 .4 1 .4 1 .3 1 .4 1 .3 1 .4 1 .3 1 .3 1 .4 1 .3 1 .3 1 .4 1 .3 1 .3 1 .3 1 .3 1 .4 1 .3 1 .3 1 .4 1 .3 1 .3 1 .4 1 .3 1 .3 1 .3 1 .3 1 .4 1 .3 1 .3 1 .3 1 .2 1 .3 1 .3 1 .3 1 .3 1 .2 1 .3 1 .3 1 .2 1 .3 1 .2 1 .3 1 .2 1 .2 1 .3 1 .2 1 .2 1 .3 1 .2 1 .2 1 .2 1 .3 1 .2 1 .2 1 .2 1 .2 1 .2 1 .2 1 .2 1 .2 1 .1 1 .2 1 .2 1 .2 1 .1 1 .2 1 .1 1 .2 1 .1 1 .1 1 .1 1 .1 1 .1 1 .1 1 .1 1 .1 1 .1 1 .1 1 .2 1 .1 1 .1 1 .1 1 .1 1 .1 1 .1 1 .1 1 .1 1 0 1 .1 1 .1 1 0 1 .1 1 .1 1 0 1 .1 1 0 1 .1 1 0 1 .1 1 0 1 .1 1 0 1 0 1 .1 1 0 1 .1 1 0 1 0 1 .1 1 0 1 0 1 .1 1 0 1 0 1 0 1 .1 1 0 1 0 1 0 1 .1 1 0 1 0 1 0 1 .1 1 0 1 0 1 0 1 0 1 0 1 .1 1 0 1 0 1 0 1 0 1 0 1 .1 1 0 1 0 1 0 1 0 1 0 1 0 1 0 1 .1 1 0 1 0 1 0 1 0 1 0 1 0 1 0 1 0 1 .1 1 0 1 0 1 0 1 0 1 0 1 0 1 0 1 0 1 0 1 0 1 0 1 0 1 0"/>
<path stroke="#f0cdbb" d="M1070.3 408.9l1-.6 1-.7 1-.8 1-.7 1-.9 1-.9 1-1 1-1 1-1.1 1-1.2 1-1 1-1.1 1-1 1-1.1 1-1.2 1-1.2 1-1.5 1-1.7 1-1.9 1-2.7 1-3.2 1-3.7 1-4.2 1-5 1-5.5 1-5.4 1-5.1 1-5 1-4.9 1-4.7 1-4.5 1-4.2 1-4.2 1-4.3 1-4.5 1-3.9 1-2.9 1-1.8 1-1.6 1-1.1 1-.4 1 .3 1 .7 1 .8 1 .6 1 .7 1 .8 1 .9 1 .9 1 .9 1 .9 1 .8 1 .8 1 .7 1 .6 1 .6 1 .5 1 .5 1 .5 1 .4 1 .5 1 .5 1 .4 1 .4 1 .4 1 .4 1 .5 1 .3 1 .4 1 .4 1 .2 1 .3 1 .1 1 .1 1-.1 1 0 1-.1 1-.1 1-.2 1-.1 1-.1 1-.2 1-.1 1-.1 1-.1 1-.1 1-.1 1-.1 1-.1 1-.1 1 0 1 .1 1 .2 1 .3 1 .2 1 .3 1 .2 1 .3 1 .4 1 .4 1 .5 1 .5 1 .7 1 .7 1 .7 1 .9 1 .9 1 .9 1 .9 1 1.1 1 1.3 1 1.5 1 1.7 1 1.7 1 1.8 1 1.6 1 1.7 1 1.7 1 1.7 1 1.7 1 1.8 1 1.8 1 1.9 1 1.9 1 1.9 1 2 1 2.1 1 2.2 1 2.3 1 2.4 1 2.5 1 2.4 1 2.6 1 2.6 1 2.7 1 2.7 1 2.6 1 2.7 1 2.7 1 2.8 1 2.8 1 2.8 1 2.5 1 2.3 1 2.1 1 1.9 1 1.9 1 1.7 1 1.7 1 1.6 1 1.6 1 1.5 1 1.4 1 1.3 1 1.1 1 1.2 1 1.1 1 1.2 1 1.3 1 1.3 1 1.1 1 1.1 1 .9 1 .9 1 .9 1 .8 1 .7 1 .7 1 .6 1 .6 1 .6 1 .5 1 .5 1 .5 1 .4 1 .5 1 .4 1 .4 1 .5 1 .3 1 .4 1 .4 1 .4 1 .3 1 .4 1 .3 1 .3 1 .4 1 .3 1 .3 1 .4 1 .3 1 .3 1 .3 1 .4 1 .3 1 .3 1 .3 1 .3 1 .3 1 .3 1 .2 1 .3 1 .2 1 .3 1 .2 1 .2 1 .2 1 .2 1 .2 1 .2 1 .1 1 .2 1 .2 1 .1 1 .1 1 .2 1 .1 1 .2 1 .1 1 .1 1 .1 1 .2 1 .1 1 .1 1 .1 1 .1 1 .1 1 .1 1 .1 1 .1 1 .1 1 .1 1 .1 1 .1 1 .1 1 .1 1 .1 1 .1 1 0 1 .1 1 .1 1 .1 1 0 1 .1 1 .1 1 0 1 .1 1 .1 1 0 1 .1 1 .1 1 .1 1 .1 1 .2 1 .1 1 .2 1 .1 1 .2 1 .1 1 .2 1 .2 1 .1 1 .2 1 .1 1 .1 1 .2 1 .1 1 .1 1 .1 1 .1 1 .1 1 .1 1 .1 1 .1 1 .1 1 .1 1 .1 1 .1 1 0 1 .1 1 .1 1 .1 1 0 1 .1 1 .1 1 0 1 .1 1 0 1 .1 1 0 1 .1 1 0 1 .1 1 0 1 .1 1 0 1 .1 1 .1 1 0 1 .1 1 0 1 .1 1 .1 1 .1 1 .1 1 .1 1 .1 1 .1 1 .2 1 .1 1 .1 1 .2 1 .1 1 .1 1 .2 1 .1 1 .2 1 .1 1 .2 1 .1 1 .1 1 .1 1 .1 1 .1 1 .1 1 .1 1 .1 1 .1 1 .1 1 0 1 .1 1 0 1 .1 1 0 1 .1 1 0 1 .1 1 0 1 .1 1 0 1 .1 1 0 1 .1 1 0 1 .1 1 .1 1 0 1 .1 1 .1 1 .1 1 0 1 .2 1 .1 1 .1 1 .2 1 .2 1 .1 1 .2 1 .2 1 .2 1 .2 1 .2 1 .3 1 .2 1 .2 1 .2 1 .1 1 .2 1 .2 1 .1 1 .2 1 .1 1 .1 1 .1 1 .2 1 .1 1 .1 1 .1 1 .1 1 .1 1 .1 1 .1 1 .1 1 .1 1 .1 1 .1 1 .1 1 .1 1 .1 1 .1 1 0 1 .1 1 .1 1 0 1 .1 1 .1 1 0 1 .1 1 0 1 .1 1 0 1 0 1 .1 1 0 1 0 1 0 1 .1 1 0 1 0 1 0 1 0 1 0 1 0 1 0 1 0 1 0 1 0 1 0 1 0 1 0 1 .1 1 0 1 0 1 0 1 0 1 .1 1 0 1 0 1 .1 1 0 1 0 1 .1 1 0 1 0 1 .1 1 0 1 0 1 0 1 .1 1 0 1 0 1 0 1 0 1 0 1 0 1 0 1 0 1 0 1 0 1 0 1 0 1 0 1 0 1-.1 1 0 1 0 1 0 1 0 1 0 1 0 1 0 1-.1 1 0 1 0 1 0 1 0 1 0 1 0 1 0 1 0 1 .1 1 0 1 0 1 0 1 0 1 0 1 0 1 0 1 .1 1 0 1 0 1 0 1 0 1 0 1 0 1 .1 1 0 1 0 1 0 1 0 1 .1 1 0 1 0 1 0 1 .1 1 0 1 .1 1 0 1 0 1 .1 1 0 1 .1 1 0 1 0 1 .1 1 0 1 0 1 .1 1 0 1 0 1 .1 1 0 1 .1 1 0 1 .1 1 0 1 .1 1 0 1 .1 1 .1 1 0 1 .1 1 .1 1 0 1 .1 1 .1 1 0 1 .1 1 .1 1 .1 1 .1 1 0 1 .1 1 .1 1 .1 1 .1 1 .1 1 .1 1 0 1 .1 1 .1 1 .1 1 .1 1 .1 1 .2 1 .1 1 .1 1 .1 1 .1 1 .2 1 .1 1 .1 1 .2 1 .1 1 .2 1 .1 1 .2 1 .1 1 .2 1 .2 1 .2 1 .1 1 .2 1 .2 1 .1 1 .2 1 .2 1 .1 1 .2 1 .2 1 .1 1 .2 1 .2 1 .2 1 .2 1 .3 1 .3 1 .5 1 .5 1 .4 1 .2 1 .2 1 .3 1 .2 1 .2 1 .3 1 .2 1 .2 1 .2 1 .2 1 .3 1 .2 1 .2 1 .2 1 .2 1 .3 1 .2 1 .2 1 .3 1 .2 1 .2 1 .3 1 .2 1 .3 1 .2 1 .3 1 .2 1 .3 1 .2 1 .3 1 .3 1 .2 1 .3 1 .3 1 .2 1 .3 1 .2 1 .3 1 .3 1 .2 1 .3 1 .2 1 .3 1 .3 1 .3 1 .2 1 .3 1 .3 1 .3 1 .3 1 .3 1 .3 1 .2 1 .3 1 .3 1 .3 1 .3 1 .3 1 .3 1 .3 1 .3 1 .3 1 .2 1 .3 1 .3 1 .2 1 .3 1 .3 1 .2 1 .3 1 .2 1 .3 1 .2 1 .3 1 .2 1 .2 1 .3 1 .2 1 .3 1 .2 1 .2 1 .3 1 .2 1 .3 1 .3 1 .2 1 .2 1 .3 1 .2 1 .2 1 .3 1 .2 1 .2 1 .2 1 .3 1 .2 1 .2 1 .2 1 .2 1 .2 1 .2 1 .2 1 .2 1 .2 1 .1 1 .2 1 .2 1 .2 1 .2 1 .1 1 .2 1 .2 1 .1 1 .2 1 .2 1 .1 1 .2 1 .2 1 .1 1 .1 1 .2 1 .1 1 .2 1 .1 1 .1 1 .2 1 .1 1 .1 1 .1 1 .1 1 .2 1 0 1 .1 1 .1 1 .1 1 .1 1 .1 1 0 1 .1 1 .1 1 .1 1 0 1 .1 1 .1 1 .1 1 0 1 .1 1 .1 1 .1 1 0 1 .1 1 0 1 .1 1 0 1 .1 1 0 1 .1 1 0 1 0 1 .1 1 0 1 .1 1 0 1 0 1 0 1 .1 1 0 1 0 1 .1 1 0 1 0 1 0 1 .1 1 0 1 0 1 0 1 .1 1 0 1 0 1 0 1 0 1 0 1 .1 1 0 1 0 1 0 1 0 1 0 1 0 1 .1 1 0 1 0 1 0 1 0 1 0 1 0 1 0 1 0 1 .1 1 0 1 0 1 0 1 0 1 0 1 0 1 0 1 0 1 0 1 0 1 0 1 .1 1 0 1 0 1 0 1 0 1 0 1 0 1 0 1 0 1 0 1 0 1 0 1 0 1 0 1 0 1 0 1 0 1 0 1 0"/>
<path stroke="#f6bea4" d="M1070.3 411.1l1-.6 1-.8 1-.7 1-.8 1-.8 1-.9 1-1 1-1 1-1 1-1 1-1 1-1 1-.9 1-1 1-1.1 1-1.2 1-1.4 1-1.5 1-1.9 1-2.5 1-3.3 1-3.6 1-4.3 1-5.2 1-5.6 1-5.7 1-5.2 1-5.1 1-5 1-4.8 1-4.6 1-4.5 1-4.4 1-4.6 1-4.7 1-4.2 1-3 1-1.8 1-1.5 1-1 1-.2 1 .7 1 1.1 1 1.2 1 1 1 1.1 1 1.2 1 1.3 1 1.3 1 1.3 1 1.4 1 1.3 1 1.2 1 1.1 1 1.1 1 1 1 1 1 1 1 .9 1 .9 1 1 1 .9 1 .9 1 .8 1 .9 1 .8 1 .9 1 .8 1 .8 1 .8 1 .7 1 .6 1 .6 1 .5 1 .3 1 .4 1 .3 1 .3 1 .2 1 .3 1 .2 1 .2 1 .3 1 .2 1 .2 1 .2 1 .2 1 .2 1 .2 1 .2 1 .2 1 .3 1 .4 1 .4 1 .4 1 .4 1 .4 1 .4 1 .5 1 .5 1 .5 1 .6 1 .7 1 .7 1 .8 1 .8 1 .8 1 .9 1 .9 1 .9 1 1.2 1 1.3 1 1.4 1 1.4 1 1.5 1 1.3 1 1.4 1 1.4 1 1.4 1 1.4 1 1.4 1 1.5 1 1.5 1 1.5 1 1.6 1 1.6 1 1.6 1 1.8 1 1.8 1 1.9 1 1.9 1 1.9 1 1.9 1 2.1 1 2 1 2 1 2.1 1 2 1 2.1 1 2.1 1 2.1 1 2 1 2 1 1.7 1 1.6 1 1.5 1 1.4 1 1.4 1 1.3 1 1.2 1 1.2 1 1.1 1 1.1 1 1 1 .9 1 .9 1 .9 1 .9 1 1 1 1 1 .9 1 .8 1 .7 1 .7 1 .6 1 .6 1 .6 1 .5 1 .4 1 .4 1 .4 1 .4 1 .4 1 .3 1 .4 1 .3 1 .3 1 .3 1 .3 1 .3 1 .3 1 .3 1 .2 1 .3 1 .2 1 .3 1 .3 1 .2 1 .3 1 .2 1 .3 1 .2 1 .3 1 .3 1 .2 1 .3 1 .2 1 .3 1 .2 1 .3 1 .2 1 .2 1 .2 1 .2 1 .2 1 .2 1 .2 1 .1 1 .2 1 .1 1 .1 1 .1 1 .2 1 .1 1 .1 1 .1 1 .1 1 .1 1 .1 1 .1 1 .1 1 .1 1 0 1 .1 1 .1 1 .1 1 .1 1 0 1 .1 1 .1 1 .1 1 .1 1 0 1 .1 1 .1 1 0 1 .1 1 0 1 .1 1 .1 1 0 1 .1 1 0 1 .1 1 0 1 .1 1 0 1 .1 1 0 1 .1 1 0 1 .1 1 .1 1 .1 1 .1 1 .2 1 .1 1 .2 1 .2 1 .1 1 .2 1 .1 1 .2 1 .2 1 .1 1 .2 1 .1 1 .1 1 .1 1 .1 1 .2 1 .1 1 .1 1 .1 1 .1 1 .1 1 .1 1 .1 1 .1 1 .1 1 .1 1 .1 1 .1 1 .1 1 .1 1 .1 1 .1 1 0 1 .1 1 .1 1 .1 1 0 1 .1 1 .1 1 .1 1 0 1 .1 1 .1 1 .1 1 .1 1 .1 1 .1 1 .1 1 .1 1 .1 1 .2 1 .1 1 .2 1 .1 1 .2 1 .2 1 .1 1 .2 1 .2 1 .2 1 .2 1 .2 1 .2 1 .2 1 .2 1 .2 1 .1 1 .2 1 .2 1 .1 1 .2 1 .1 1 .2 1 .1 1 .1 1 .2 1 .1 1 .1 1 .1 1 .1 1 .1 1 .1 1 .1 1 .1 1 .1 1 .2 1 .1 1 .1 1 .1 1 .1 1 .1 1 .2 1 .1 1 .1 1 .2 1 .1 1 .2 1 .2 1 .2 1 .2 1 .3 1 .2 1 .3 1 .3 1 .3 1 .3 1 .3 1 .2 1 .3 1 .3 1 .3 1 .3 1 .3 1 .2 1 .3 1 .2 1 .2 1 .2 1 .2 1 .3 1 .2 1 .2 1 .2 1 .1 1 .2 1 .2 1 .2 1 .2 1 .2 1 .2 1 .1 1 .2 1 .2 1 .1 1 .2 1 .1 1 .2 1 .2 1 .1 1 .1 1 .2 1 .1 1 .1 1 .2 1 .1 1 .1 1 .1 1 .1 1 .2 1 .1 1 .1 1 .1 1 .1 1 .1 1 0 1 .1 1 .1 1 .1 1 .1 1 .1 1 0 1 .1 1 .1 1 .1 1 .1 1 0 1 .1 1 .1 1 .1 1 .1 1 .1 1 .1 1 .1 1 0 1 .1 1 .1 1 .1 1 .1 1 .1 1 .1 1 0 1 .1 1 .1 1 .1 1 0 1 .1 1 .1 1 0 1 .1 1 .1 1 0 1 .1 1 0 1 .1 1 0 1 .1 1 0 1 0 1 .1 1 0 1 .1 1 0 1 0 1 .1 1 0 1 0 1 .1 1 0 1 .1 1 0 1 .1 1 0 1 0 1 .1 1 0 1 .1 1 .1 1 0 1 .1 1 0 1 .1 1 0 1 .1 1 0 1 .1 1 0 1 .1 1 .1 1 0 1 .1 1 0 1 .1 1 0 1 .1 1 0 1 .1 1 .1 1 0 1 .1 1 0 1 .1 1 .1 1 .1 1 0 1 .1 1 .1 1 0 1 .1 1 .1 1 0 1 .1 1 .1 1 0 1 .1 1 .1 1 0 1 .1 1 .1 1 .1 1 0 1 .1 1 .1 1 .1 1 0 1 .1 1 .1 1 .1 1 .1 1 .1 1 .1 1 0 1 .1 1 .1 1 .1 1 .1 1 .1 1 .1 1 .1 1 .1 1 .1 1 .1 1 .1 1 .1 1 .1 1 .1 1 .1 1 .1 1 .1 1 .1 1 .2 1 .1 1 .1 1 .1 1 .1 1 .2 1 .1 1 .1 1 .2 1 .1 1 .1 1 .2 1 .1 1 .2 1 .1 1 .2 1 .2 1 .1 1 .2 1 .2 1 .1 1 .2 1 .1 1 .2 1 .1 1 .2 1 .1 1 .2 1 .2 1 .1 1 .2 1 .2 1 .2 1 .3 1 .3 1 .4 1 .3 1 .2 1 .2 1 .2 1 .2 1 .2 1 .2 1 .2 1 .1 1 .2 1 .2 1 .2 1 .2 1 .1 1 .2 1 .2 1 .2 1 .2 1 .1 1 .2 1 .2 1 .2 1 .2 1 .2 1 .2 1 .2 1 .2 1 .2 1 .2 1 .2 1 .2 1 .2 1 .2 1 .2 1 .2 1 .2 1 .2 1 .2 1 .2 1 .1 1 .2 1 .2 1 .2 1 .2 1 .2 1 .2 1 .2 1 .2 1 .2 1 .2 1 .2 1 .3 1 .2 1 .2 1 .2 1 .2 1 .2 1 .2 1 .2 1 .2 1 .2 1 .2 1 .2 1 .2 1 .2 1 .2 1 .2 1 .1 1 .2 1 .2 1 .2 1 .2 1 .1 1 .2 1 .2 1 .1 1 .2 1 .2 1 .1 1 .2 1 .2 1 .2 1 .1 1 .2 1 .2 1 .2 1 .1 1 .2 1 .2 1 .1 1 .2 1 .2 1 .1 1 .2 1 .1 1 .2 1 .1 1 .2 1 .1 1 .2 1 .1 1 .1 1 .2 1 .1 1 .1 1 .2 1 .1 1 .1 1 .2 1 .1 1 .1 1 .1 1 .2 1 .1 1 .1 1 .1 1 .1 1 .1 1 .2 1 .1 1 .1 1 .1 1 .1 1 .1 1 .1 1 .1 1 .1 1 0 1 .1 1 .1 1 .1 1 .1 1 0 1 .1 1 .1 1 0 1 .1 1 0 1 .1 1 0 1 .1 1 0 1 .1 1 0 1 .1 1 0 1 .1 1 0 1 .1 1 0 1 .1 1 0 1 0 1 .1 1 0 1 0 1 .1 1 0 1 0 1 0 1 .1 1 0 1 0 1 0 1 .1 1 0 1 0 1 0 1 0 1 .1 1 0 1 0 1 0 1 0 1 0 1 .1 1 0 1 0 1 0 1 0 1 0 1 0 1 0 1 .1 1 0 1 0 1 0 1 0 1 0 1 0 1 0 1 0 1 0 1 0 1 .1 1 0 1 0 1 0 1 0 1 0 1 0 1 0 1 0 1 0 1 0 1 0 1 0 1 0 1 0 1 0 1 0 1 0 1 0 1 0 1 0 1 0 1 0 1 0 1 .1 1 0 1 0 1 0 1 0 1 0 1 0 1 0 1 0 1 0 1 0 1 0"/>
<path stroke="#f7aa8c" d="M1070.3 413.2l1-.7 1-.7 1-.8 1-.8 1-.8 1-.8 1-.9 1-1 1-.9 1-1 1-1 1-.8 1-.9 1-.9 1-1 1-1.1 1-1.3 1-1.4 1-1.8 1-2.5 1-3.2 1-3.6 1-4.3 1-5.4 1-5.9 1-5.7 1-5.3 1-5.2 1-5.2 1-4.9 1-4.8 1-4.7 1-4.6 1-4.8 1-5 1-4.4 1-3.1 1-1.8 1-1.5 1-.8 1 0 1 1 1 1.5 1 1.6 1 1.4 1 1.5 1 1.6 1 1.6 1 1.7 1 1.8 1 1.7 1 1.7 1 1.7 1 1.6 1 1.4 1 1.5 1 1.4 1 1.4 1 1.4 1 1.4 1 1.4 1 1.3 1 1.3 1 1.3 1 1.3 1 1.2 1 1.3 1 1.2 1 1.2 1 1.2 1 1.1 1 1.1 1 1 1 .8 1 .8 1 .7 1 .7 1 .7 1 .6 1 .6 1 .6 1 .6 1 .5 1 .6 1 .5 1 .5 1 .5 1 .5 1 .4 1 .5 1 .4 1 .5 1 .6 1 .5 1 .5 1 .6 1 .5 1 .5 1 .6 1 .6 1 .6 1 .7 1 .7 1 .7 1 .8 1 .8 1 .8 1 .8 1 .8 1 .9 1 .9 1 1.1 1 1.1 1 1.2 1 1.1 1 1.2 1 1 1 1.1 1 1.1 1 1.1 1 1.2 1 1.1 1 1.2 1 1.1 1 1.2 1 1.2 1 1.3 1 1.3 1 1.3 1 1.4 1 1.3 1 1.4 1 1.4 1 1.5 1 1.4 1 1.5 1 1.4 1 1.4 1 1.4 1 1.5 1 1.4 1 1.5 1 1.3 1 1.2 1 1.1 1 1.1 1 1 1 .9 1 1 1 .8 1 .9 1 .8 1 .8 1 .7 1 .7 1 .6 1 .7 1 .6 1 .7 1 .7 1 .6 1 .6 1 .5 1 .5 1 .4 1 .5 1 .4 1 .4 1 .3 1 .3 1 .3 1 .3 1 .3 1 .3 1 .2 1 .3 1 .2 1 .2 1 .3 1 .2 1 .2 1 .2 1 .2 1 .2 1 .2 1 .2 1 .2 1 .2 1 .2 1 .2 1 .2 1 .2 1 .3 1 .2 1 .2 1 .2 1 .2 1 .3 1 .2 1 .2 1 .2 1 .2 1 .1 1 .2 1 .2 1 .1 1 .2 1 .1 1 .1 1 .1 1 .1 1 .1 1 .1 1 .1 1 0 1 .1 1 .1 1 .1 1 0 1 .1 1 .1 1 0 1 .1 1 .1 1 0 1 .1 1 0 1 .1 1 .1 1 0 1 .1 1 0 1 .1 1 0 1 .1 1 0 1 .1 1 0 1 .1 1 0 1 0 1 .1 1 0 1 .1 1 0 1 0 1 .1 1 0 1 .1 1 0 1 .1 1 0 1 .1 1 .1 1 .1 1 .2 1 .1 1 .2 1 .1 1 .2 1 .2 1 .1 1 .2 1 .2 1 .1 1 .2 1 .1 1 .1 1 .2 1 .1 1 .1 1 .1 1 .2 1 .1 1 .1 1 .1 1 .1 1 .2 1 .1 1 .1 1 .1 1 .1 1 .1 1 .1 1 .1 1 .1 1 .1 1 .1 1 .1 1 .1 1 .1 1 0 1 .1 1 .1 1 .1 1 .1 1 .1 1 .1 1 .1 1 .1 1 .1 1 .1 1 .2 1 .1 1 .2 1 .1 1 .2 1 .2 1 .2 1 .2 1 .2 1 .2 1 .2 1 .2 1 .2 1 .3 1 .2 1 .2 1 .3 1 .2 1 .2 1 .2 1 .2 1 .2 1 .2 1 .2 1 .2 1 .2 1 .1 1 .2 1 .2 1 .1 1 .2 1 .1 1 .1 1 .2 1 .1 1 .2 1 .1 1 .2 1 .1 1 .2 1 .1 1 .2 1 .1 1 .2 1 .2 1 .2 1 .2 1 .2 1 .2 1 .2 1 .2 1 .3 1 .2 1 .3 1 .4 1 .3 1 .3 1 .4 1 .3 1 .4 1 .3 1 .4 1 .3 1 .4 1 .3 1 .3 1 .4 1 .3 1 .2 1 .3 1 .3 1 .2 1 .3 1 .2 1 .3 1 .2 1 .3 1 .2 1 .3 1 .2 1 .3 1 .2 1 .2 1 .2 1 .3 1 .2 1 .2 1 .2 1 .2 1 .2 1 .2 1 .2 1 .2 1 .2 1 .2 1 .2 1 .1 1 .2 1 .2 1 .1 1 .2 1 .2 1 .1 1 .2 1 .1 1 .2 1 .1 1 .2 1 .1 1 .1 1 .2 1 .1 1 .1 1 .2 1 .1 1 .1 1 .2 1 .1 1 .1 1 .1 1 .2 1 .1 1 .1 1 .2 1 .1 1 .1 1 .1 1 .2 1 .1 1 .1 1 .1 1 .2 1 .1 1 .1 1 .1 1 .1 1 .1 1 .1 1 .1 1 .1 1 .1 1 .1 1 .1 1 .1 1 .1 1 .1 1 .1 1 0 1 .1 1 .1 1 .1 1 0 1 .1 1 .1 1 .1 1 0 1 .1 1 .1 1 0 1 .1 1 .1 1 .1 1 0 1 .1 1 .1 1 .1 1 0 1 .1 1 .1 1 .1 1 .1 1 .1 1 0 1 .1 1 .1 1 .1 1 .1 1 0 1 .1 1 .1 1 .1 1 .1 1 0 1 .1 1 .1 1 .1 1 .1 1 0 1 .1 1 .1 1 .1 1 .1 1 .1 1 .1 1 0 1 .1 1 .1 1 .1 1 .1 1 .1 1 .1 1 .1 1 .1 1 .1 1 0 1 .1 1 .1 1 .1 1 .1 1 .1 1 .1 1 .1 1 0 1 .1 1 .1 1 .1 1 .1 1 .1 1 .1 1 .1 1 .1 1 .1 1 .1 1 .1 1 .1 1 .1 1 .1 1 .1 1 .2 1 .1 1 .1 1 .1 1 .1 1 .1 1 .1 1 .1 1 .1 1 .1 1 .1 1 .2 1 .1 1 .1 1 .1 1 .1 1 .2 1 .1 1 .1 1 .1 1 .2 1 .1 1 .1 1 .2 1 .1 1 .1 1 .2 1 .1 1 .2 1 .1 1 .2 1 .2 1 .1 1 .2 1 .1 1 .2 1 .1 1 .2 1 .1 1 .2 1 .1 1 .2 1 .1 1 .2 1 .1 1 .2 1 .2 1 .2 1 .3 1 .3 1 .2 1 .2 1 .2 1 .1 1 .2 1 .2 1 .1 1 .2 1 .2 1 .1 1 .2 1 .1 1 .2 1 .1 1 .2 1 .1 1 .2 1 .1 1 .2 1 .1 1 .2 1 .1 1 .2 1 .2 1 .1 1 .2 1 .1 1 .2 1 .2 1 .1 1 .2 1 .1 1 .2 1 .2 1 .1 1 .2 1 .1 1 .2 1 .1 1 .2 1 .1 1 .2 1 .1 1 .2 1 .1 1 .2 1 .1 1 .2 1 .1 1 .2 1 .1 1 .2 1 .2 1 .1 1 .2 1 .1 1 .2 1 .1 1 .2 1 .1 1 .2 1 .1 1 .1 1 .2 1 .1 1 .2 1 .1 1 .1 1 .2 1 .1 1 .1 1 .1 1 .2 1 .1 1 .1 1 .1 1 .1 1 .2 1 .1 1 .1 1 .1 1 .2 1 .1 1 .1 1 .1 1 .2 1 .1 1 .1 1 .1 1 .1 1 .2 1 .1 1 .1 1 .1 1 .1 1 .1 1 .1 1 .2 1 .1 1 .1 1 .1 1 .1 1 .1 1 .1 1 .1 1 .1 1 .1 1 .1 1 0 1 .1 1 .1 1 .1 1 .1 1 .1 1 .1 1 .1 1 .1 1 0 1 .1 1 .1 1 .1 1 0 1 .1 1 .1 1 .1 1 0 1 .1 1 .1 1 0 1 .1 1 0 1 .1 1 0 1 .1 1 0 1 .1 1 0 1 .1 1 0 1 0 1 .1 1 0 1 0 1 .1 1 0 1 0 1 .1 1 0 1 0 1 .1 1 0 1 0 1 .1 1 0 1 0 1 0 1 0 1 .1 1 0 1 0 1 0 1 0 1 0 1 .1 1 0 1 0 1 0 1 0 1 0 1 0 1 .1 1 0 1 0 1 0 1 0 1 0 1 0 1 0 1 0 1 0 1 .1 1 0 1 0 1 0 1 0 1 0 1 0 1 0 1 0 1 0 1 0 1 0 1 0 1 0 1 0 1 0 1 0 1 0 1 0 1 0 1 0 1 .1 1 0 1 0 1 0 1 0 1 0 1 0 1 0 1 0 1 0 1 0 1 0 1 0 1 0 1 0 1 0 1 0 1 0 1 0 1 0 1 0 1 0 1 0 1 0 1 0 1 0 1 0 1 0 1 0"/>
<path stroke="#f39475" d="M1070.3 414.5l1-.7 1-.7 1-.8 1-.8 1-.8 1-.9 1-.8 1-.9 1-1 1-.9 1-.9 1-.8 1-.8 1-.9 1-.9 1-1.1 1-1.2 1-1.4 1-1.6 1-2.5 1-3.2 1-3.6 1-4.4 1-5.5 1-5.9 1-5.9 1-5.4 1-5.2 1-5.2 1-5.1 1-4.9 1-4.8 1-4.7 1-5 1-5.1 1-4.5 1-3.2 1-1.8 1-1.4 1-.8 1 .2 1 1.1 1 1.8 1 1.8 1 1.7 1 1.7 1 1.8 1 1.9 1 1.9 1 2 1 2 1 2 1 1.9 1 1.9 1 1.7 1 1.7 1 1.7 1 1.7 1 1.7 1 1.6 1 1.7 1 1.6 1 1.5 1 1.6 1 1.5 1 1.5 1 1.5 1 1.5 1 1.5 1 1.4 1 1.4 1 1.3 1 1.2 1 1.1 1 1.1 1 .9 1 1 1 .9 1 .8 1 .9 1 .8 1 .8 1 .7 1 .7 1 .8 1 .6 1 .7 1 .6 1 .7 1 .6 1 .6 1 .6 1 .6 1 .6 1 .7 1 .6 1 .6 1 .6 1 .6 1 .7 1 .7 1 .6 1 .8 1 .7 1 .7 1 .8 1 .8 1 .8 1 .8 1 .8 1 .9 1 .9 1 1 1 .9 1 1 1 .9 1 1 1 .9 1 .9 1 .9 1 .9 1 1 1 .9 1 1 1 .9 1 1 1 1 1 1 1 1.1 1 1 1 1.1 1 1 1 1.1 1 1.1 1 1 1 1.1 1 1.1 1 1 1 1 1 1.1 1 1 1 1.1 1 .9 1 .9 1 .8 1 .8 1 .8 1 .7 1 .7 1 .6 1 .7 1 .6 1 .6 1 .5 1 .6 1 .4 1 .5 1 .5 1 .6 1 .5 1 .4 1 .5 1 .3 1 .4 1 .3 1 .3 1 .3 1 .3 1 .2 1 .2 1 .2 1 .2 1 .2 1 .2 1 .2 1 .1 1 .2 1 .2 1 .1 1 .2 1 .1 1 .1 1 .2 1 .1 1 .2 1 .1 1 .2 1 .1 1 .2 1 .1 1 .2 1 .2 1 .1 1 .2 1 .2 1 .2 1 .1 1 .2 1 .2 1 .2 1 .1 1 .2 1 .2 1 .1 1 .1 1 .2 1 .1 1 0 1 .1 1 .1 1 .1 1 0 1 .1 1 0 1 .1 1 0 1 .1 1 0 1 .1 1 0 1 .1 1 0 1 .1 1 0 1 0 1 .1 1 0 1 .1 1 0 1 0 1 .1 1 0 1 0 1 .1 1 0 1 0 1 .1 1 0 1 0 1 0 1 .1 1 0 1 0 1 .1 1 0 1 0 1 0 1 .1 1 0 1 0 1 .1 1 0 1 .1 1 .1 1 .1 1 .2 1 .1 1 .2 1 .1 1 .2 1 .2 1 .1 1 .2 1 .2 1 .1 1 .2 1 .1 1 .2 1 .1 1 .1 1 .2 1 .1 1 .1 1 .2 1 .1 1 .1 1 .2 1 .1 1 .1 1 .1 1 .2 1 .1 1 .1 1 .1 1 .1 1 .1 1 .2 1 .1 1 .1 1 .1 1 0 1 .1 1 .1 1 .2 1 .1 1 .1 1 .1 1 .1 1 .1 1 .1 1 .2 1 .1 1 .2 1 .1 1 .2 1 .2 1 .2 1 .2 1 .2 1 .3 1 .2 1 .2 1 .3 1 .2 1 .3 1 .2 1 .3 1 .3 1 .2 1 .3 1 .2 1 .3 1 .2 1 .3 1 .2 1 .2 1 .2 1 .3 1 .2 1 .2 1 .1 1 .2 1 .2 1 .2 1 .2 1 .2 1 .2 1 .1 1 .2 1 .2 1 .2 1 .2 1 .2 1 .2 1 .2 1 .2 1 .2 1 .2 1 .3 1 .2 1 .3 1 .2 1 .3 1 .3 1 .4 1 .3 1 .4 1 .4 1 .4 1 .4 1 .4 1 .4 1 .4 1 .4 1 .4 1 .4 1 .4 1 .4 1 .4 1 .3 1 .4 1 .3 1 .3 1 .3 1 .3 1 .3 1 .3 1 .3 1 .3 1 .3 1 .3 1 .3 1 .3 1 .3 1 .3 1 .3 1 .2 1 .3 1 .3 1 .2 1 .3 1 .2 1 .3 1 .2 1 .3 1 .2 1 .3 1 .2 1 .2 1 .2 1 .3 1 .2 1 .2 1 .2 1 .2 1 .2 1 .2 1 .2 1 .2 1 .2 1 .2 1 .2 1 .2 1 .1 1 .2 1 .2 1 .2 1 .2 1 .1 1 .2 1 .2 1 .2 1 .1 1 .2 1 .2 1 .1 1 .2 1 .2 1 .1 1 .2 1 .2 1 .1 1 .2 1 .1 1 .2 1 .1 1 .2 1 .1 1 .2 1 .1 1 .2 1 .1 1 .1 1 .1 1 .2 1 .1 1 .1 1 .1 1 .2 1 .1 1 .1 1 .1 1 .1 1 .1 1 .1 1 .1 1 .1 1 .1 1 .1 1 .1 1 .1 1 .1 1 .2 1 .1 1 .1 1 .1 1 .1 1 .1 1 .1 1 .1 1 .1 1 .1 1 .1 1 .1 1 .2 1 .1 1 .1 1 .1 1 .1 1 .1 1 .1 1 .1 1 .1 1 .1 1 .1 1 .1 1 .1 1 .1 1 .1 1 .2 1 .1 1 .1 1 .1 1 .1 1 .1 1 .1 1 .1 1 .1 1 .1 1 .1 1 .2 1 .1 1 .1 1 .1 1 .1 1 .1 1 .1 1 .1 1 .1 1 .1 1 .1 1 .1 1 .1 1 .2 1 .1 1 .1 1 .1 1 .1 1 .1 1 .1 1 .1 1 .2 1 .1 1 .1 1 .1 1 .1 1 .1 1 .1 1 .2 1 .1 1 .1 1 .1 1 .1 1 .1 1 .2 1 .1 1 .1 1 .1 1 .1 1 .1 1 .2 1 .1 1 .1 1 .1 1 .1 1 .2 1 .1 1 .1 1 .2 1 .1 1 .1 1 .2 1 .1 1 .1 1 .2 1 .1 1 .2 1 .1 1 .1 1 .2 1 .1 1 .2 1 .1 1 .2 1 .1 1 .2 1 .1 1 .1 1 .2 1 .1 1 .2 1 .1 1 .2 1 .1 1 .2 1 .1 1 .2 1 .1 1 .2 1 .3 1 .2 1 .1 1 .1 1 .2 1 .1 1 .2 1 .1 1 .1 1 .2 1 .1 1 .1 1 .1 1 .2 1 .1 1 .1 1 .1 1 .2 1 .1 1 .1 1 .1 1 .2 1 .1 1 .1 1 .1 1 .1 1 .2 1 .1 1 .1 1 .1 1 .2 1 .1 1 .1 1 .1 1 .1 1 .2 1 .1 1 .1 1 .1 1 .1 1 .1 1 .1 1 .1 1 .1 1 .1 1 .2 1 .1 1 .1 1 .1 1 .1 1 .1 1 .1 1 .1 1 0 1 .1 1 .1 1 .1 1 .1 1 .1 1 .1 1 .1 1 .1 1 .1 1 .1 1 .1 1 0 1 .1 1 .1 1 .1 1 .1 1 .1 1 0 1 .1 1 .1 1 .1 1 0 1 .1 1 .1 1 .1 1 0 1 .1 1 .1 1 .1 1 0 1 .1 1 .1 1 .1 1 0 1 .1 1 .1 1 .1 1 0 1 .1 1 .1 1 0 1 .1 1 .1 1 .1 1 0 1 .1 1 .1 1 0 1 .1 1 .1 1 0 1 .1 1 0 1 .1 1 .1 1 0 1 .1 1 0 1 .1 1 .1 1 0 1 .1 1 0 1 .1 1 0 1 .1 1 0 1 .1 1 0 1 .1 1 0 1 .1 1 0 1 .1 1 0 1 0 1 .1 1 0 1 0 1 .1 1 0 1 0 1 0 1 .1 1 0 1 0 1 0 1 .1 1 0 1 0 1 0 1 0 1 0 1 .1 1 0 1 0 1 0 1 0 1 .1 1 0 1 0 1 0 1 0 1 0 1 0 1 0 1 0 1 .1 1 0 1 0 1 0 1 0 1 0 1 0 1 0 1 0 1 0 1 0 1 0 1 0 1 0 1 .1 1 0 1 0 1 0 1 0 1 0 1 0 1 0 1 0 1 0 1 0 1 0 1 0 1 0 1 0 1 0 1 0 1 0 1 0 1 0 1 0 1 0 1 0 1 0 1 0 1 0 1 0 1 0 1 0 1 0 1 0 1 0 1 0 1 0 1 0 1 0 1 0 1 0 1 0 1 0 1 0 1 0 1 0 1 0 1 0 1 0 1 0 1 0 1 0 1 0 1 0 1 0 1 0 1 0 1 0 1 0"/>
<path stroke="#e97a5f" d="M1070.3 415.5l1-.7 1-.8 1-.7 1-.8 1-.8 1-.9 1-.8 1-.9 1-.9 1-.9 1-.8 1-.8 1-.8 1-.8 1-.9 1-1 1-1.2 1-1.3 1-1.6 1-2.5 1-3.1 1-3.7 1-4.4 1-5.5 1-6.1 1-5.9 1-5.5 1-5.3 1-5.2 1-5.1 1-5 1-4.9 1-4.8 1-5.1 1-5.3 1-4.6 1-3.2 1-1.8 1-1.4 1-.8 1 .3 1 1.4 1 1.9 1 2 1 1.8 1 1.9 1 2 1 2.1 1 2.2 1 2.2 1 2.2 1 2.1 1 2.2 1 2 1 2 1 1.9 1 1.9 1 1.9 1 1.9 1 1.9 1 1.8 1 1.8 1 1.8 1 1.7 1 1.7 1 1.8 1 1.7 1 1.7 1 1.7 1 1.6 1 1.6 1 1.4 1 1.4 1 1.3 1 1.3 1 1.1 1 1.1 1 1.1 1 1.1 1 1 1 1 1 .9 1 .9 1 .9 1 .9 1 .8 1 .8 1 .8 1 .7 1 .7 1 .7 1 .7 1 .8 1 .7 1 .6 1 .7 1 .7 1 .7 1 .7 1 .6 1 .7 1 .8 1 .7 1 .7 1 .8 1 .7 1 .8 1 .8 1 .7 1 .8 1 .8 1 .8 1 .9 1 .8 1 .8 1 .8 1 .8 1 .8 1 .8 1 .7 1 .8 1 .8 1 .8 1 .8 1 .7 1 .8 1 .8 1 .8 1 .8 1 .8 1 .9 1 .8 1 .8 1 .8 1 .7 1 .8 1 .8 1 .7 1 .7 1 .8 1 .7 1 .7 1 .7 1 .6 1 .6 1 .6 1 .6 1 .5 1 .5 1 .5 1 .5 1 .4 1 .5 1 .4 1 .4 1 .4 1 .3 1 .4 1 .4 1 .3 1 .4 1 .3 1 .3 1 .2 1 .3 1 .2 1 .2 1 .2 1 .2 1 .1 1 .2 1 .1 1 .2 1 .1 1 .1 1 .2 1 .1 1 .1 1 .1 1 .1 1 .1 1 .1 1 .2 1 .1 1 .1 1 .1 1 .1 1 .1 1 .1 1 .2 1 .1 1 .2 1 .1 1 .2 1 .1 1 .2 1 .1 1 .2 1 .2 1 .1 1 .2 1 .1 1 .1 1 .2 1 .1 1 .1 1 .1 1 0 1 .1 1 .1 1 0 1 0 1 .1 1 0 1 .1 1 0 1 0 1 .1 1 0 1 0 1 .1 1 0 1 0 1 .1 1 0 1 0 1 0 1 .1 1 0 1 0 1 .1 1 0 1 0 1 0 1 .1 1 0 1 0 1 0 1 0 1 .1 1 0 1 0 1 0 1 0 1 .1 1 0 1 0 1 0 1 .1 1 0 1 0 1 .1 1 .1 1 .1 1 .1 1 .1 1 .1 1 .2 1 .2 1 .1 1 .2 1 .2 1 .1 1 .2 1 .2 1 .1 1 .2 1 .1 1 .1 1 .2 1 .1 1 .2 1 .1 1 .1 1 .2 1 .1 1 .1 1 .2 1 .1 1 .2 1 .1 1 .1 1 .1 1 .2 1 .1 1 .1 1 .1 1 .1 1 .1 1 .1 1 .1 1 .1 1 .2 1 .1 1 .1 1 .1 1 .1 1 .1 1 .2 1 .1 1 .1 1 .2 1 .2 1 .1 1 .2 1 .2 1 .3 1 .2 1 .2 1 .3 1 .2 1 .3 1 .2 1 .3 1 .3 1 .2 1 .3 1 .3 1 .3 1 .3 1 .2 1 .3 1 .3 1 .2 1 .3 1 .2 1 .3 1 .2 1 .2 1 .2 1 .2 1 .3 1 .2 1 .2 1 .2 1 .2 1 .2 1 .2 1 .2 1 .2 1 .2 1 .2 1 .2 1 .3 1 .2 1 .2 1 .3 1 .2 1 .3 1 .2 1 .3 1 .3 1 .3 1 .4 1 .3 1 .4 1 .4 1 .4 1 .5 1 .4 1 .4 1 .5 1 .4 1 .5 1 .4 1 .4 1 .5 1 .4 1 .4 1 .4 1 .3 1 .4 1 .3 1 .4 1 .3 1 .3 1 .4 1 .3 1 .3 1 .4 1 .3 1 .3 1 .3 1 .3 1 .3 1 .3 1 .3 1 .3 1 .3 1 .3 1 .3 1 .3 1 .3 1 .3 1 .2 1 .3 1 .3 1 .2 1 .3 1 .2 1 .3 1 .2 1 .2 1 .3 1 .2 1 .3 1 .2 1 .2 1 .2 1 .3 1 .2 1 .2 1 .2 1 .2 1 .2 1 .2 1 .2 1 .3 1 .2 1 .2 1 .2 1 .2 1 .2 1 .1 1 .2 1 .2 1 .2 1 .2 1 .2 1 .2 1 .2 1 .1 1 .2 1 .2 1 .2 1 .1 1 .2 1 .2 1 .1 1 .2 1 .1 1 .2 1 .1 1 .2 1 .1 1 .2 1 .1 1 .1 1 .2 1 .1 1 .1 1 .2 1 .1 1 .1 1 .1 1 .2 1 .1 1 .1 1 .1 1 .2 1 .1 1 .1 1 .1 1 .2 1 .1 1 .1 1 .1 1 .2 1 .1 1 .1 1 .1 1 .2 1 .1 1 .1 1 .1 1 .2 1 .1 1 .1 1 .1 1 .2 1 .1 1 .1 1 .1 1 .1 1 .2 1 .1 1 .1 1 .1 1 .1 1 .2 1 .1 1 .1 1 .1 1 .1 1 .2 1 .1 1 .1 1 .1 1 .1 1 .2 1 .1 1 .1 1 .1 1 .1 1 .2 1 .1 1 .1 1 .1 1 .1 1 .2 1 .1 1 .1 1 .1 1 .1 1 .1 1 .2 1 .1 1 .1 1 .1 1 .1 1 .2 1 .1 1 .1 1 .1 1 .2 1 .1 1 .1 1 .1 1 .1 1 .2 1 .1 1 .1 1 .1 1 .1 1 .2 1 .1 1 .1 1 .1 1 .2 1 .1 1 .1 1 .1 1 .2 1 .1 1 .1 1 .1 1 .2 1 .1 1 .1 1 .2 1 .1 1 .1 1 .2 1 .1 1 .1 1 .2 1 .1 1 .2 1 .1 1 .1 1 .2 1 .1 1 .2 1 .1 1 .2 1 .1 1 .1 1 .2 1 .1 1 .2 1 .1 1 .1 1 .2 1 .1 1 .1 1 .2 1 .1 1 .2 1 .1 1 .2 1 .2 1 .1 1 .1 1 .2 1 .1 1 .1 1 .1 1 .2 1 .1 1 .1 1 .1 1 .1 1 .1 1 .1 1 .1 1 .1 1 .1 1 .2 1 .1 1 .1 1 .1 1 .1 1 .1 1 .1 1 .1 1 .1 1 .1 1 .1 1 .1 1 .1 1 .1 1 .1 1 .1 1 .1 1 .1 1 .1 1 .1 1 .1 1 .1 1 0 1 .1 1 .1 1 .1 1 .1 1 0 1 .1 1 .1 1 .1 1 0 1 .1 1 .1 1 0 1 .1 1 .1 1 0 1 .1 1 .1 1 0 1 .1 1 .1 1 0 1 .1 1 0 1 .1 1 0 1 .1 1 .1 1 0 1 .1 1 0 1 .1 1 0 1 .1 1 0 1 .1 1 0 1 .1 1 0 1 0 1 .1 1 0 1 .1 1 0 1 .1 1 0 1 .1 1 0 1 .1 1 0 1 .1 1 0 1 .1 1 0 1 .1 1 0 1 .1 1 0 1 .1 1 0 1 .1 1 0 1 0 1 .1 1 0 1 .1 1 0 1 .1 1 0 1 0 1 .1 1 0 1 .1 1 0 1 0 1 .1 1 0 1 .1 1 0 1 0 1 .1 1 0 1 0 1 .1 1 0 1 0 1 .1 1 0 1 0 1 0 1 .1 1 0 1 0 1 0 1 0 1 .1 1 0 1 0 1 0 1 0 1 0 1 0 1 0 1 .1 1 0 1 0 1 0 1 0 1 0 1 0 1 0 1 0 1 0 1 .1 1 0 1 0 1 0 1 0 1 0 1 0 1 0 1 0 1 0 1 0 1 0 1 0 1 0 1 0 1 0 1 0 1 0 1 0 1 0 1 0 1 0 1 0 1 .1 1 0 1 0 1 0 1 0 1 0 1 0 1 0 1 0 1 0 1 0 1 0 1 0 1 0 1 0 1 0 1 0 1 0 1 0 1 0 1 0 1 0 1 0 1 0 1 0 1 0 1 0 1 0 1 0 1 0 1 0 1-.1 1 0 1 0 1 0 1 0 1 0 1 0 1 0 1 0 1 0 1 0 1 0 1 0 1 0 1 0 1 0 1 0 1 0 1 0 1 0 1 0 1 0 1 0 1 0"/>
<path stroke="#dc5e4b" d="M1070.3 416.2l1-.7 1-.8 1-.7 1-.8 1-.8 1-.9 1-.8 1-.9 1-.8 1-.9 1-.8 1-.8 1-.8 1-.8 1-.8 1-1 1-1.1 1-1.3 1-1.6 1-2.4 1-3.2 1-3.6 1-4.4 1-5.6 1-6.2 1-6 1-5.4 1-5.3 1-5.3 1-5.2 1-5.1 1-4.9 1-4.8 1-5.2 1-5.4 1-4.7 1-3.2 1-1.8 1-1.4 1-.8 1 .4 1 1.5 1 2 1 2.2 1 1.9 1 2 1 2.2 1 2.2 1 2.3 1 2.3 1 2.3 1 2.4 1 2.2 1 2.2 1 2.1 1 2.1 1 2.1 1 2 1 2 1 2 1 2 1 2 1 1.9 1 1.9 1 1.8 1 1.9 1 1.9 1 1.8 1 1.8 1 1.8 1 1.7 1 1.6 1 1.5 1 1.5 1 1.3 1 1.3 1 1.2 1 1.3 1 1.1 1 1.2 1 1.1 1 1 1 1 1 1 1 1 1 .9 1 .9 1 .9 1 .8 1 .8 1 .8 1 .8 1 .7 1 .8 1 .7 1 .8 1 .7 1 .7 1 .7 1 .7 1 .7 1 .8 1 .7 1 .8 1 .7 1 .8 1 .7 1 .7 1 .8 1 .7 1 .8 1 .7 1 .8 1 .7 1 .8 1 .7 1 .7 1 .7 1 .6 1 .7 1 .7 1 .6 1 .7 1 .7 1 .6 1 .7 1 .6 1 .7 1 .6 1 .7 1 .6 1 .6 1 .7 1 .6 1 .5 1 .6 1 .6 1 .5 1 .5 1 .5 1 .6 1 .5 1 .4 1 .5 1 .4 1 .5 1 .4 1 .4 1 .4 1 .3 1 .4 1 .4 1 .3 1 .3 1 .3 1 .3 1 .3 1 .3 1 .3 1 .3 1 .2 1 .2 1 .3 1 .2 1 .1 1 .2 1 .1 1 .2 1 .1 1 .1 1 .1 1 .1 1 .1 1 .1 1 .1 1 .1 1 .1 1 .1 1 0 1 .1 1 .1 1 .1 1 .1 1 .1 1 0 1 .1 1 .1 1 .1 1 .1 1 .1 1 .1 1 .2 1 .1 1 .1 1 .2 1 .1 1 .2 1 .1 1 .1 1 .2 1 .1 1 .1 1 .2 1 .1 1 .1 1 .1 1 0 1 .1 1 0 1 .1 1 0 1 .1 1 0 1 0 1 0 1 .1 1 0 1 0 1 0 1 .1 1 0 1 0 1 0 1 0 1 0 1 .1 1 0 1 0 1 0 1 0 1 .1 1 0 1 0 1 0 1 0 1 0 1 .1 1 0 1 0 1 0 1 0 1 0 1 0 1 .1 1 0 1 0 1 0 1 0 1 .1 1 0 1 0 1 .1 1 0 1 .1 1 .1 1 .2 1 .1 1 .2 1 .1 1 .2 1 .2 1 .1 1 .2 1 .2 1 .1 1 .2 1 .1 1 .2 1 .1 1 .2 1 .1 1 .2 1 .1 1 .1 1 .2 1 .1 1 .2 1 .1 1 .2 1 .1 1 .1 1 .2 1 .1 1 .1 1 .2 1 .1 1 .1 1 .1 1 .1 1 .1 1 .1 1 .2 1 .1 1 .1 1 .1 1 .1 1 .2 1 .1 1 .1 1 .2 1 .1 1 .2 1 .2 1 .1 1 .3 1 .2 1 .2 1 .2 1 .3 1 .2 1 .3 1 .3 1 .3 1 .2 1 .3 1 .3 1 .3 1 .3 1 .3 1 .3 1 .3 1 .3 1 .2 1 .3 1 .3 1 .2 1 .3 1 .2 1 .3 1 .2 1 .2 1 .3 1 .2 1 .2 1 .2 1 .3 1 .2 1 .2 1 .2 1 .2 1 .3 1 .2 1 .2 1 .3 1 .2 1 .3 1 .2 1 .3 1 .3 1 .3 1 .3 1 .3 1 .3 1 .4 1 .4 1 .4 1 .4 1 .5 1 .4 1 .5 1 .4 1 .5 1 .5 1 .5 1 .4 1 .5 1 .4 1 .5 1 .4 1 .4 1 .4 1 .4 1 .3 1 .4 1 .4 1 .3 1 .4 1 .3 1 .4 1 .3 1 .4 1 .3 1 .4 1 .3 1 .3 1 .4 1 .3 1 .3 1 .3 1 .3 1 .4 1 .3 1 .3 1 .3 1 .3 1 .2 1 .3 1 .3 1 .3 1 .3 1 .2 1 .3 1 .2 1 .3 1 .3 1 .2 1 .3 1 .2 1 .3 1 .2 1 .3 1 .2 1 .2 1 .3 1 .2 1 .2 1 .3 1 .2 1 .2 1 .2 1 .3 1 .2 1 .2 1 .2 1 .2 1 .2 1 .2 1 .2 1 .3 1 .2 1 .1 1 .2 1 .2 1 .2 1 .2 1 .2 1 .2 1 .2 1 .1 1 .2 1 .2 1 .1 1 .2 1 .2 1 .1 1 .2 1 .1 1 .2 1 .1 1 .2 1 .1 1 .2 1 .1 1 .2 1 .1 1 .1 1 .2 1 .1 1 .2 1 .1 1 .1 1 .2 1 .1 1 .1 1 .2 1 .1 1 .2 1 .1 1 .1 1 .2 1 .1 1 .2 1 .1 1 .1 1 .2 1 .1 1 .1 1 .2 1 .1 1 .1 1 .2 1 .1 1 .1 1 .2 1 .1 1 .1 1 .2 1 .1 1 .1 1 .2 1 .1 1 .1 1 .2 1 .1 1 .1 1 .1 1 .2 1 .1 1 .1 1 .2 1 .1 1 .1 1 .2 1 .1 1 .1 1 .1 1 .2 1 .1 1 .1 1 .2 1 .1 1 .1 1 .1 1 .2 1 .1 1 .1 1 .1 1 .2 1 .1 1 .1 1 .1 1 .2 1 .1 1 .1 1 .2 1 .1 1 .1 1 .1 1 .2 1 .1 1 .1 1 .1 1 .2 1 .1 1 .1 1 .2 1 .1 1 .1 1 .1 1 .2 1 .1 1 .1 1 .1 1 .2 1 .1 1 .1 1 .2 1 .1 1 .1 1 .2 1 .1 1 .1 1 .2 1 .1 1 .1 1 .2 1 .1 1 .1 1 .2 1 .1 1 .2 1 .1 1 .1 1 .2 1 .1 1 .2 1 .1 1 .1 1 .2 1 .1 1 .1 1 .2 1 .1 1 .1 1 .2 1 .1 1 .1 1 .2 1 .1 1 .1 1 .2 1 .1 1 .1 1 .1 1 .1 1 .2 1 .1 1 .1 1 .1 1 .1 1 .1 1 .1 1 .1 1 .1 1 .1 1 .1 1 .1 1 0 1 .1 1 .1 1 .1 1 .1 1 .1 1 .1 1 .1 1 .1 1 .1 1 0 1 .1 1 .1 1 .1 1 .1 1 .1 1 0 1 .1 1 .1 1 .1 1 0 1 .1 1 .1 1 0 1 .1 1 .1 1 0 1 .1 1 0 1 .1 1 0 1 .1 1 0 1 .1 1 0 1 0 1 .1 1 0 1 .1 1 0 1 0 1 .1 1 0 1 0 1 .1 1 0 1 0 1 .1 1 0 1 0 1 .1 1 0 1 0 1 .1 1 0 1 0 1 0 1 .1 1 0 1 0 1 0 1 .1 1 0 1 0 1 .1 1 0 1 0 1 0 1 .1 1 0 1 0 1 0 1 .1 1 0 1 0 1 .1 1 0 1 0 1 0 1 .1 1 0 1 0 1 .1 1 0 1 0 1 0 1 .1 1 0 1 0 1 0 1 .1 1 0 1 0 1 .1 1 0 1 0 1 0 1 .1 1 0 1 0 1 0 1 0 1 .1 1 0 1 0 1 0 1 .1 1 0 1 0 1 0 1 0 1 0 1 .1 1 0 1 0 1 0 1 0 1 0 1 0 1 0 1 0 1 0 1 0 1 0 1 0 1 0 1 .1 1 0 1 0 1 0 1 0 1 0 1 0 1 0 1 0 1 0 1 0 1 0 1 0 1 0 1 0 1 0 1 0 1 0 1 0 1 0 1 0 1 0 1 0 1 0 1 0 1 0 1 0 1 0 1 0 1 0 1 0 1 0 1 0 1 0 1 0 1 0 1 0 1 0 1 0 1 0 1 0 1 0 1 0 1 0 1 0 1 0 1 0 1 0 1 0 1 0 1 0 1 0 1 0 1 0 1 0 1 0 1 0 1 0 1 0 1 0 1 0 1 0 1 0 1 0 1 0 1-.1 1 0 1 0 1 0 1 0 1 0 1 0 1 0 1 0 1 0 1 0 1 0 1 0 1 0 1 0 1 0 1 0 1 0 1 0 1 0 1 0 1 0"/>
<path stroke="#ca4039" d="M1070.3 416.5l1-.7 1-.7 1-.8 1-.8 1-.8 1-.8 1-.9 1-.8 1-.9 1-.8 1-.9 1-.7 1-.8 1-.7 1-.9 1-.9 1-1.1 1-1.3 1-1.6 1-2.4 1-3.1 1-3.7 1-4.4 1-5.7 1-6.1 1-6.1 1-5.4 1-5.4 1-5.2 1-5.2 1-5.1 1-5 1-4.9 1-5.2 1-5.4 1-4.7 1-3.3 1-1.8 1-1.4 1-.7 1 .4 1 1.5 1 2.1 1 2.3 1 2 1 2 1 2.2 1 2.3 1 2.4 1 2.3 1 2.5 1 2.3 1 2.4 1 2.2 1 2.2 1 2.1 1 2.2 1 2.1 1 2.1 1 2.1 1 2 1 2.1 1 1.9 1 2 1 1.9 1 1.9 1 2 1 1.9 1 1.9 1 1.8 1 1.8 1 1.6 1 1.6 1 1.5 1 1.4 1 1.4 1 1.3 1 1.3 1 1.2 1 1.2 1 1.1 1 1.2 1 1 1 1.1 1 1 1 1 1 .9 1 .9 1 .9 1 .8 1 .9 1 .8 1 .8 1 .7 1 .8 1 .7 1 .8 1 .7 1 .7 1 .8 1 .7 1 .8 1 .7 1 .7 1 .8 1 .7 1 .8 1 .7 1 .7 1 .8 1 .7 1 .7 1 .7 1 .7 1 .7 1 .7 1 .6 1 .7 1 .6 1 .6 1 .6 1 .6 1 .6 1 .6 1 .7 1 .5 1 .6 1 .6 1 .6 1 .6 1 .5 1 .5 1 .6 1 .5 1 .5 1 .5 1 .4 1 .4 1 .5 1 .4 1 .4 1 .4 1 .4 1 .3 1 .4 1 .4 1 .3 1 .4 1 .3 1 .3 1 .3 1 .3 1 .3 1 .3 1 .2 1 .3 1 .2 1 .3 1 .2 1 .3 1 .2 1 .2 1 .1 1 .2 1 .2 1 .1 1 .1 1 .1 1 .1 1 .1 1 .1 1 .1 1 .1 1 .1 1 .1 1 0 1 .1 1 .1 1 .1 1 0 1 .1 1 .1 1 0 1 .1 1 .1 1 .1 1 .1 1 0 1 .1 1 .1 1 .1 1 .1 1 .2 1 .1 1 .1 1 .2 1 .1 1 .2 1 .1 1 .1 1 .2 1 .1 1 .1 1 .1 1 .1 1 .1 1 .1 1 0 1 0 1 .1 1 0 1 0 1 .1 1 0 1 0 1 0 1 .1 1 0 1 0 1 0 1 0 1 0 1 .1 1 0 1 0 1 0 1 0 1 0 1 0 1 .1 1 0 1 0 1 0 1 0 1 0 1 0 1 .1 1 0 1 0 1 0 1 0 1 0 1 0 1 0 1 .1 1 0 1 0 1 0 1 0 1 .1 1 0 1 0 1 .1 1 .1 1 .1 1 .1 1 .2 1 .1 1 .2 1 .2 1 .1 1 .2 1 .2 1 .2 1 .1 1 .2 1 .1 1 .2 1 .1 1 .1 1 .2 1 .1 1 .2 1 .1 1 .2 1 .1 1 .2 1 .1 1 .2 1 .1 1 .1 1 .2 1 .1 1 .1 1 .2 1 .1 1 .1 1 .1 1 .1 1 .1 1 .2 1 .1 1 .1 1 .1 1 .1 1 .2 1 .1 1 .1 1 .2 1 .1 1 .2 1 .1 1 .2 1 .2 1 .2 1 .2 1 .3 1 .2 1 .3 1 .2 1 .3 1 .3 1 .2 1 .3 1 .3 1 .3 1 .3 1 .3 1 .3 1 .3 1 .3 1 .3 1 .3 1 .3 1 .2 1 .3 1 .3 1 .2 1 .3 1 .2 1 .2 1 .3 1 .2 1 .2 1 .3 1 .2 1 .2 1 .2 1 .3 1 .2 1 .2 1 .3 1 .2 1 .2 1 .3 1 .3 1 .2 1 .3 1 .3 1 .3 1 .3 1 .3 1 .4 1 .3 1 .4 1 .5 1 .4 1 .4 1 .5 1 .5 1 .4 1 .5 1 .5 1 .5 1 .5 1 .4 1 .5 1 .4 1 .5 1 .4 1 .4 1 .4 1 .3 1 .4 1 .4 1 .4 1 .3 1 .4 1 .3 1 .4 1 .4 1 .3 1 .4 1 .3 1 .3 1 .4 1 .3 1 .3 1 .4 1 .3 1 .3 1 .3 1 .3 1 .3 1 .3 1 .3 1 .3 1 .3 1 .3 1 .3 1 .3 1 .2 1 .3 1 .3 1 .2 1 .3 1 .2 1 .3 1 .3 1 .2 1 .3 1 .2 1 .3 1 .2 1 .3 1 .2 1 .2 1 .3 1 .2 1 .2 1 .3 1 .2 1 .2 1 .2 1 .2 1 .3 1 .2 1 .2 1 .2 1 .2 1 .2 1 .2 1 .2 1 .2 1 .2 1 .2 1 .2 1 .1 1 .2 1 .2 1 .2 1 .1 1 .2 1 .2 1 .1 1 .2 1 .2 1 .1 1 .2 1 .1 1 .2 1 .1 1 .2 1 .1 1 .2 1 .1 1 .2 1 .1 1 .2 1 .1 1 .1 1 .2 1 .1 1 .2 1 .1 1 .2 1 .1 1 .1 1 .2 1 .1 1 .2 1 .1 1 .2 1 .1 1 .1 1 .2 1 .1 1 .2 1 .1 1 .1 1 .2 1 .1 1 .1 1 .2 1 .1 1 .2 1 .1 1 .1 1 .2 1 .1 1 .1 1 .2 1 .1 1 .1 1 .2 1 .1 1 .1 1 .2 1 .1 1 .1 1 .2 1 .1 1 .1 1 .2 1 .1 1 .1 1 .2 1 .1 1 .1 1 .1 1 .2 1 .1 1 .1 1 .2 1 .1 1 .1 1 .2 1 .1 1 .1 1 .1 1 .2 1 .1 1 .1 1 .2 1 .1 1 .1 1 .1 1 .2 1 .1 1 .1 1 .2 1 .1 1 .1 1 .1 1 .2 1 .1 1 .1 1 .2 1 .1 1 .1 1 .1 1 .2 1 .1 1 .1 1 .2 1 .1 1 .1 1 .1 1 .2 1 .1 1 .2 1 .1 1 .1 1 .2 1 .1 1 .1 1 .2 1 .1 1 .1 1 .2 1 .1 1 .2 1 .1 1 .1 1 .2 1 .1 1 .2 1 .1 1 .1 1 .2 1 .1 1 .1 1 .2 1 .1 1 .1 1 .1 1 .2 1 .1 1 .1 1 .1 1 .2 1 .1 1 .1 1 .1 1 .1 1 .1 1 .1 1 .1 1 .1 1 .1 1 .1 1 .1 1 .1 1 .1 1 .1 1 .1 1 .1 1 .1 1 .1 1 0 1 .1 1 .1 1 .1 1 .1 1 .1 1 .1 1 0 1 .1 1 .1 1 .1 1 0 1 .1 1 .1 1 .1 1 0 1 .1 1 .1 1 0 1 .1 1 .1 1 0 1 .1 1 0 1 .1 1 0 1 .1 1 0 1 .1 1 0 1 0 1 .1 1 0 1 0 1 .1 1 0 1 0 1 .1 1 0 1 0 1 0 1 .1 1 0 1 0 1 0 1 .1 1 0 1 0 1 0 1 .1 1 0 1 0 1 0 1 0 1 .1 1 0 1 0 1 0 1 0 1 .1 1 0 1 0 1 0 1 0 1 .1 1 0 1 0 1 0 1 0 1 .1 1 0 1 0 1 0 1 0 1 .1 1 0 1 0 1 0 1 .1 1 0 1 0 1 0 1 0 1 .1 1 0 1 0 1 0 1 0 1 .1 1 0 1 0 1 0 1 .1 1 0 1 0 1 0 1 0 1 .1 1 0 1 0 1 0 1 0 1 0 1 .1 1 0 1 0 1 0 1 0 1 0 1 0 1 0 1 .1 1 0 1 0 1 0 1 0 1 0 1 0 1 0 1 0 1 0 1 0 1 0 1 0 1 0 1 0 1 0 1 0 1 0 1 0 1 0 1 0 1 0 1 0 1 0 1 0 1 0 1 0 1 0 1 0 1 0 1 0 1 0 1 0 1 0 1 0 1 0 1 0 1 0 1 0 1 0 1 0 1 0 1 0 1 0 1 0 1 0 1 0 1 0 1 0 1 0 1 0 1 0 1 0 1 0 1 0 1 0 1 0 1 0 1 0 1 0 1 0 1 0 1 0 1 0 1 0 1 0 1 0 1 0 1 0 1 0 1 0 1 0 1 0 1 0 1 0 1 0 1 0 1 0 1-.1 1 0 1 0 1 0 1 0 1 0 1 0 1 0 1 0 1 0 1 0 1 0 1 0 1 0 1 0 1 0 1 0 1 0 1 0 1 0 1-.1 1 0"/>
<path stroke="#b7152b" d="M1070.3 416.8l1-.7 1-.8 1-.8 1-.8 1-.8 1-.8 1-.8 1-.8 1-.9 1-.9 1-.8 1-.7 1-.7 1-.8 1-.9 1-.9 1-1.1 1-1.3 1-1.5 1-2.4 1-3.1 1-3.7 1-4.4 1-5.7 1-6.2 1-6 1-5.5 1-5.4 1-5.3 1-5.2 1-5.1 1-5 1-4.9 1-5.3 1-5.4 1-4.7 1-3.3 1-1.8 1-1.4 1-.7 1 .4 1 1.6 1 2.2 1 2.3 1 2 1 2.1 1 2.2 1 2.4 1 2.4 1 2.4 1 2.5 1 2.4 1 2.4 1 2.3 1 2.2 1 2.2 1 2.2 1 2.2 1 2.2 1 2.1 1 2.1 1 2.1 1 2 1 2 1 2 1 2 1 1.9 1 2 1 1.9 1 1.9 1 1.8 1 1.8 1 1.6 1 1.6 1 1.4 1 1.4 1 1.4 1 1.3 1 1.3 1 1.2 1 1.2 1 1.2 1 1.1 1 1.1 1 1 1 1 1 1 1 .9 1 .9 1 .9 1 .9 1 .8 1 .8 1 .8 1 .8 1 .7 1 .8 1 .7 1 .8 1 .7 1 .8 1 .7 1 .8 1 .7 1 .8 1 .7 1 .7 1 .8 1 .7 1 .7 1 .7 1 .7 1 .7 1 .6 1 .7 1 .6 1 .6 1 .6 1 .6 1 .6 1 .6 1 .6 1 .5 1 .6 1 .6 1 .5 1 .5 1 .6 1 .5 1 .5 1 .5 1 .4 1 .5 1 .4 1 .5 1 .4 1 .3 1 .4 1 .3 1 .4 1 .3 1 .3 1 .3 1 .3 1 .4 1 .3 1 .3 1 .2 1 .3 1 .3 1 .3 1 .2 1 .3 1 .2 1 .3 1 .2 1 .2 1 .2 1 .2 1 .2 1 .2 1 .1 1 .2 1 .1 1 .2 1 .1 1 .1 1 .1 1 .1 1 .1 1 .1 1 .1 1 .1 1 0 1 .1 1 .1 1 0 1 .1 1 .1 1 .1 1 0 1 .1 1 .1 1 0 1 .1 1 .1 1 .1 1 0 1 .1 1 .1 1 .1 1 .1 1 .2 1 .1 1 .1 1 .2 1 .1 1 .1 1 .2 1 .1 1 .1 1 .2 1 .1 1 .1 1 .1 1 .1 1 0 1 .1 1 0 1 0 1 .1 1 0 1 0 1 0 1 .1 1 0 1 0 1 0 1 0 1 .1 1 0 1 0 1 0 1 0 1 0 1 0 1 .1 1 0 1 0 1 0 1 0 1 0 1 0 1 .1 1 0 1 0 1 0 1 0 1 0 1 0 1 0 1 0 1 .1 1 0 1 0 1 0 1 0 1 0 1 .1 1 0 1 0 1 .1 1 0 1 .1 1 .1 1 .2 1 .1 1 .2 1 .1 1 .2 1 .2 1 .1 1 .2 1 .2 1 .1 1 .2 1 .1 1 .2 1 .1 1 .2 1 .1 1 .2 1 .1 1 .2 1 .1 1 .1 1 .2 1 .1 1 .2 1 .1 1 .2 1 .1 1 .1 1 .2 1 .1 1 .1 1 .1 1 .2 1 .1 1 .1 1 .1 1 .1 1 .1 1 .2 1 .1 1 .1 1 .1 1 .2 1 .1 1 .2 1 .1 1 .2 1 .2 1 .2 1 .2 1 .2 1 .2 1 .3 1 .2 1 .3 1 .2 1 .3 1 .3 1 .3 1 .3 1 .3 1 .3 1 .3 1 .3 1 .3 1 .3 1 .3 1 .3 1 .2 1 .3 1 .3 1 .3 1 .2 1 .3 1 .2 1 .2 1 .3 1 .2 1 .2 1 .3 1 .2 1 .2 1 .2 1 .3 1 .2 1 .2 1 .3 1 .2 1 .3 1 .2 1 .3 1 .3 1 .2 1 .3 1 .3 1 .3 1 .4 1 .3 1 .4 1 .4 1 .4 1 .4 1 .5 1 .5 1 .4 1 .5 1 .5 1 .5 1 .5 1 .4 1 .5 1 .5 1 .4 1 .5 1 .4 1 .4 1 .4 1 .3 1 .4 1 .4 1 .4 1 .3 1 .4 1 .4 1 .3 1 .4 1 .3 1 .4 1 .3 1 .4 1 .3 1 .3 1 .4 1 .3 1 .3 1 .4 1 .3 1 .3 1 .3 1 .3 1 .3 1 .3 1 .3 1 .3 1 .2 1 .3 1 .3 1 .3 1 .2 1 .3 1 .3 1 .2 1 .3 1 .3 1 .2 1 .3 1 .2 1 .3 1 .2 1 .3 1 .2 1 .2 1 .3 1 .2 1 .3 1 .2 1 .2 1 .2 1 .3 1 .2 1 .2 1 .2 1 .2 1 .2 1 .2 1 .2 1 .2 1 .2 1 .2 1 .2 1 .2 1 .2 1 .2 1 .2 1 .2 1 .1 1 .2 1 .2 1 .2 1 .1 1 .2 1 .1 1 .2 1 .2 1 .1 1 .2 1 .1 1 .2 1 .1 1 .2 1 .1 1 .2 1 .1 1 .2 1 .1 1 .1 1 .2 1 .1 1 .2 1 .1 1 .2 1 .1 1 .2 1 .1 1 .1 1 .2 1 .1 1 .2 1 .1 1 .2 1 .1 1 .1 1 .2 1 .1 1 .2 1 .1 1 .1 1 .2 1 .1 1 .2 1 .1 1 .1 1 .2 1 .1 1 .1 1 .2 1 .1 1 .1 1 .2 1 .1 1 .2 1 .1 1 .1 1 .2 1 .1 1 .1 1 .2 1 .1 1 .1 1 .2 1 .1 1 .1 1 .1 1 .2 1 .1 1 .1 1 .2 1 .1 1 .1 1 .2 1 .1 1 .1 1 .2 1 .1 1 .1 1 .1 1 .2 1 .1 1 .1 1 .2 1 .1 1 .1 1 .2 1 .1 1 .1 1 .1 1 .2 1 .1 1 .1 1 .2 1 .1 1 .1 1 .1 1 .2 1 .1 1 .1 1 .2 1 .1 1 .1 1 .1 1 .2 1 .1 1 .1 1 .2 1 .1 1 .1 1 .2 1 .1 1 .1 1 .2 1 .1 1 .2 1 .1 1 .1 1 .2 1 .1 1 .2 1 .1 1 .1 1 .2 1 .1 1 .1 1 .2 1 .1 1 .1 1 .2 1 .1 1 .1 1 .2 1 .1 1 .1 1 .1 1 .2 1 .1 1 .1 1 .1 1 .1 1 .2 1 .1 1 .1 1 .1 1 .1 1 .1 1 .1 1 .1 1 .1 1 .1 1 .1 1 .1 1 0 1 .1 1 .1 1 .1 1 .1 1 .1 1 .1 1 0 1 .1 1 .1 1 .1 1 .1 1 .1 1 0 1 .1 1 .1 1 .1 1 0 1 .1 1 .1 1 0 1 .1 1 .1 1 0 1 .1 1 .1 1 0 1 .1 1 0 1 .1 1 0 1 .1 1 0 1 0 1 .1 1 0 1 0 1 .1 1 0 1 0 1 .1 1 0 1 0 1 0 1 .1 1 0 1 0 1 0 1 .1 1 0 1 0 1 0 1 0 1 .1 1 0 1 0 1 0 1 0 1 .1 1 0 1 0 1 0 1 0 1 0 1 .1 1 0 1 0 1 0 1 0 1 0 1 .1 1 0 1 0 1 0 1 0 1 0 1 .1 1 0 1 0 1 0 1 0 1 .1 1 0 1 0 1 0 1 0 1 .1 1 0 1 0 1 0 1 0 1 .1 1 0 1 0 1 0 1 0 1 .1 1 0 1 0 1 0 1 0 1 .1 1 0 1 0 1 0 1 0 1 0 1 0 1 .1 1 0 1 0 1 0 1 0 1 0 1 0 1 0 1 .1 1 0 1 0 1 0 1 0 1 0 1 0 1 0 1 0 1 0 1 0 1 0 1 0 1 0 1 0 1 0 1 0 1 0 1 0 1 0 1 0 1 0 1 0 1 0 1 0 1 0 1 0 1 0 1 0 1 0 1 0 1 0 1 0 1 0 1 0 1 0 1 0 1 0 1 0 1 0 1 0 1 0 1 0 1 0 1 0 1 0 1 0 1 0 1 0 1 0 1 0 1 0 1 0 1 0 1 0 1 0 1 0 1 0 1 0 1 0 1 0 1 0 1 0 1 0 1 0 1 0 1 0 1-.1 1 0 1 0 1 0 1 0 1 0 1 0 1 0 1 0 1 0 1 0 1 0 1 0 1 0 1 0 1 0 1 0 1 0 1 0 1 0 1 0 1 0 1 0 1 0 1 0 1-.1 1 0 1 0 1 0 1 0 1 0 1 0 1 0"/>
</g>
<path clip-path="url(#cb)" fill="none" stroke="#000" stroke-width="5.4" stroke-dasharray="5.8 6.3" d="M1070.3 391l1-.4 1-.6 1-.7 1-.8 1-.9 1-1.1 1-1.4 1-1.6 1-1.6 1-1.7 1-1.7 1-1.7 1-1.7 1-1.8 1-1.9 1-2.1 1-2.3 1-2.5 1-3 1-3.2 1-3.5 1-3.5 1-3.7 1-3.7 1-3.7 1-4.2 1-4.3 1-4.2 1-3.9 1-3.5 1-2.9 1-2.6 1-2.4 1-2.3 1-2.2 1-2.2 1-2 1-1.9 1-1.9 1-2.1 1-2.2 1-2.5 1-2.6 1-2.7 1-2.6 1-2.5 1-2.6 1-2.5 1-2.5 1-2.6 1-2.7 1-2.7 1-2.9 1-3 1-3.1 1-3.2 1-3.2 1-3.3 1-3.4 1-3.3 1-3.2 1-3.3 1-3.1 1-3.2 1-3.2 1-3.2 1-3.1 1-3.2 1-3.2 1-3.2 1-3.1 1-3.3 1-3.2 1-3.4 1-3.4 1-3.4 1-3.4 1-3.4 1-3.3 1-3.3 1-3.2 1-3.1 1-2.9 1-2.8 1-2.7 1-2.5 1-2.7 1-2.5 1-2.4 1-2.2 1-2 1-1.6 1-1.1 1-1 1-1 1-.9 1-.9 1-.6 1-.6 1-.3 1-.2 1 .1 1 .4 1 .6 1 .9 1 1 1 1.2 1 1.4 1 1.4 1 1.8 1 2.8 1 3.4 1 3.9 1 4.2 1 4.3 1 4 1 4 1 4.2 1 4.2 1 4.4 1 4.5 1 4.6 1 4.8 1 5 1 5.1 1 5.3 1 5.6 1 6 1 6.4 1 6.7 1 6.9 1 7 1 7.4 1 7.6 1 7.8 1 7.9 1 7.9 1 7.9 1 8.2 1 8.4 1 8.5 1 8.1 1 7.6 1 6.8 1 6.2 1 5.7 1 5.4 1 5.1 1 4.9 1 4.7 1 4.5 1 4.2 1 4 1 3.7 1 3.3 1 3.2 1 3.2 1 3.5 1 3.6 1 3.7 1 3.4 1 3 1 2.8 1 2.7 1 2.6 1 2.5 1 2.3 1 2.2 1 2 1 1.9 1 1.7 1 1.8 1 1.6 1 1.6 1 1.5 1 1.5 1 1.4 1 1.3 1 1.3 1 1.2 1 1.2 1 1.2 1 1.1 1 1.1 1 1.1 1 1.1 1 1 1 1 1 .9 1 1 1 .9 1 .9 1 .9 1 .8 1 .8 1 .8 1 .8 1 .7 1 .7 1 .7 1 .7 1 .7 1 .6 1 .7 1 .6 1 .6 1 .6 1 .6 1 .6 1 .5 1 .6 1 .5 1 .6 1 .5 1 .5 1 .4 1 .5 1 .5 1 .4 1 .4 1 .4 1 .4 1 .4 1 .4 1 .4 1 .4 1 .4 1 .3 1 .4 1 .3 1 .4 1 .3 1 .3 1 .3 1 .3 1 .3 1 .3 1 .3 1 .3 1 .2 1 .3 1 .2 1 .2 1 .2 1 .2 1 .2 1 .2 1 .2 1 .2 1 .2 1 .2 1 .2 1 .2 1 .2 1 .2 1 .2 1 .1 1 .2 1 .1 1 .2 1 .1 1 .2 1 .1 1 .1 1 .1 1 0 1 .1 1 .1 1 0 1 0 1 0 1 0 1 0 1-.1 1 0 1-.1 1 0 1-.1 1-.1 1 0 1-.1 1-.1 1-.1 1-.1 1-.1 1-.1 1-.1 1-.1 1-.1 1-.2 1-.1 1-.1 1-.1 1-.1 1-.2 1-.1 1-.1 1-.2 1-.2 1-.1 1-.2 1-.2 1-.2 1-.2 1-.2 1-.2 1-.3 1-.2 1-.2 1-.3 1-.2 1-.3 1-.2 1-.3 1-.2 1-.3 1-.2 1-.3 1-.3 1-.3 1-.3 1-.3 1-.3 1-.4 1-.3 1-.4 1-.3 1-.4 1-.4 1-.4 1-.4 1-.4 1-.4 1-.4 1-.4 1-.4 1-.4 1-.4 1-.5 1-.4 1-.4 1-.5 1-.4 1-.5 1-.5 1-.5 1-.5 1-.5 1-.5 1-.5 1-.5 1-.6 1-.5 1-.5 1-.5 1-.6 1-.5 1-.5 1-.6 1-.5 1-.5 1-.5 1-.5 1-.5 1-.6 1-.5 1-.5 1-.5 1-.5 1-.6 1-.5 1-.5 1-.6 1-.5 1-.5 1-.5 1-.6 1-.5 1-.6 1-.5 1-.5 1-.6 1-.5 1-.6 1-.5 1-.6 1-.5 1-.6 1-.5 1-.6 1-.5 1-.6 1-.6 1-.5 1-.6 1-.5 1-.6 1-.6 1-.6 1-.5 1-.6 1-.6 1-.6 1-.6 1-.5 1-.7 1-.6 1-.6 1-.6 1-.7 1-.6 1-.7 1-.6 1-.6 1-.7 1-.6 1-.6 1-.6 1-.6 1-.6 1-.6 1-.6 1-.5 1-.5 1-.5 1-.5 1-.4 1-.5 1-.4 1-.4 1-.4 1-.4 1-.4 1-.5 1-.4 1-.4 1-.4 1-.4 1-.4 1-.4 1-.4 1-.4 1-.4 1-.4 1-.4 1-.4 1-.4 1-.4 1-.5 1-.4 1-.5 1-.4 1-.5 1-.4 1-.5 1-.4 1-.4 1-.5 1-.4 1-.4 1-.4 1-.5 1-.4 1-.4 1-.4 1-.4 1-.4 1-.4 1-.3 1-.4 1-.3 1-.4 1-.3 1-.4 1-.3 1-.3 1-.3 1-.3 1-.4 1-.3 1-.3 1-.3 1-.3 1-.3 1-.4 1-.3 1-.3 1-.3 1-.3 1-.3 1-.3 1-.2 1-.3 1-.2 1-.3 1-.2 1-.2 1-.2 1-.2 1-.2 1-.2 1-.2 1-.2 1-.2 1-.3 1-.2 1-.2 1-.2 1-.2 1-.3 1-.2 1-.2 1-.2 1-.2 1-.1 1-.2 1-.1 1-.1 1-.2 1-.1 1-.1 1-.1 1-.2 1-.1 1-.1 1 0 1-.1 1-.1 1 0 1-.1 1 0 1-.1 1 0 1-.1 1 0 1 0 1 0 1-.1 1 0 1 0 1 0 1 0 1 0 1 .1 1 0 1 .1 1 .1 1 .1 1 .1 1 .1 1 .1 1 .1 1 .1 1 .1 1 .2 1 .1 1 .2 1 .3 1 .2 1 .3 1 .2 1 .3 1 .2 1 .3 1 .2 1 .3 1 .2 1 .3 1 .2 1 .3 1 .2 1 .3 1 .4 1 .3 1 .4 1 .5 1 .6 1 .8 1 1.4 1 1.6 1 1 1 .6 1 .5 1 .5 1 .6 1 .5 1 .6 1 .5 1 .6 1 .5 1 .6 1 .5 1 .6 1 .5 1 .6 1 .6 1 .6 1 .6 1 .6 1 .7 1 .6 1 .6 1 .7 1 .7 1 .6 1 .7 1 .7 1 .8 1 .7 1 .8 1 .7 1 .8 1 .8 1 .7 1 .8 1 .8 1 .7 1 .8 1 .8 1 .8 1 .8 1 .8 1 .8 1 .8 1 .9 1 .9 1 .9 1 .9 1 .9 1 1 1 1 1 .9 1 1 1 1 1 1 1 1 1 1 1 1 1 1 1 1 1 1 1 1 1 1 1 .9 1 .9 1 .9 1 .9 1 .9 1 .9 1 .9 1 .9 1 .8 1 .9 1 .8 1 .9 1 .8 1 .8 1 .8 1 .9 1 .8 1 .9 1 .8 1 .9 1 .8 1 .9 1 .9 1 .8 1 .9 1 .8 1 .8 1 .8 1 .7 1 .8 1 .8 1 .7 1 .8 1 .7 1 .7 1 .7 1 .7 1 .6 1 .7 1 .7 1 .6 1 .6 1 .6 1 .6 1 .6 1 .6 1 .6 1 .6 1 .6 1 .6 1 .5 1 .6 1 .6 1 .5 1 .5 1 .5 1 .6 1 .4 1 .5 1 .5 1 .5 1 .5 1 .4 1 .5 1 .4 1 .4 1 .4 1 .4 1 .3 1 .3 1 .4 1 .3 1 .2 1 .3 1 .3 1 .3 1 .2 1 .3 1 .3 1 .2 1 .3 1 .3 1 .3 1 .3 1 .2 1 .3 1 .3 1 .2 1 .2 1 .2 1 .2 1 .1 1 .2 1 .2 1 .1 1 .2 1 .1 1 .1 1 .2 1 .1 1 .1 1 .1 1 .2 1 .1 1 .1 1 .1 1 .1 1 .1 1 .1 1 .1 1 .1 1 0 1 .1 1 .1 1 .1 1 .1 1 0 1 .1 1 .1 1 0 1 .1 1 0 1 .1 1 .1 1 0 1 .1 1 0 1 .1 1 0 1 .1 1 0 1 .1 1 0 1 .1 1 0 1 .1 1 0 1 .1 1 0 1 0 1 .1 1 0 1 .1 1 0 1 0 1 .1 1 0 1 0 1 .1 1 0 1 0 1 .1 1 0 1 0 1 .1 1 0 1 0 1 .1 1 0 1 0 1 0 1 .1 1 0 1 0 1 0 1 .1 1 0"/>
<g font-family="'Liberation Sans', Arial, Helvetica, sans-serif" font-size="28.5" fill="#262626" text-anchor="middle">
<text x="1070.3" y="559.5">220</text>
<text x="1160.4" y="559.5">240</text>
<text x="1250.5" y="559.5">260</text>
<text x="1340.6" y="559.5">280</text>
<text x="1430.7" y="559.5">300</text>
<text x="1520.8" y="559.5">320</text>
<text x="1610.9" y="559.5">340</text>
<text x="1701.0" y="559.5">360</text>
<text x="1791.1" y="559.5">380</text>
<text x="1881.2" y="559.5">400</text>
</g>
<g font-family="'Liberation Sans', Arial, Helvetica, sans-serif" font-size="28.5" fill="#262626" text-anchor="end">
<text x="1063" y="535.7">0</text>
<text x="1063" y="459.9">0.5</text>
<text x="1063" y="384.1">1</text>
<text x="1063" y="308.3">1.5</text>
<text x="1063" y="232.5">2</text>
<text x="1063" y="156.7">2.5</text>
<text x="1063" y="80.9">3</text>
</g>
<text font-family="'Liberation Sans', Arial, Helvetica, sans-serif" font-size="30.5" fill="#262626" text-anchor="middle" x="1475.8" y="597">Wavelength (nm)</text>
<text font-family="'Liberation Sans', Arial, Helvetica, sans-serif" font-size="30.5" fill="#262626" text-anchor="middle" transform="translate(1016.3 297.6) rotate(-90)">Absorbance</text>
<text font-family="'Liberation Sans', Arial, Helvetica, sans-serif" font-size="48.5" fill="#000" x="963.8" y="39">(b)</text>
<line x1="1576.3" y1="100.1" x2="1596" y2="100.1" stroke="#000" stroke-width="6.2" stroke-dasharray="6.2 6.2"/>
<text font-family="'Liberation Sans', Arial, Helvetica, sans-serif" font-size="29.2" fill="#000" x="1609.2" y="111.8">Initial PS Spectrum</text>
<rect x="1910.8" y="498.22" width="12.2" height="25.48" fill="#3f4ec6"/>
<rect x="1910.8" y="473.04" width="12.2" height="25.48" fill="#4e67d8"/>
<rect x="1910.8" y="447.87" width="12.2" height="25.48" fill="#607fe8"/>
<rect x="1910.8" y="422.69" width="12.2" height="25.48" fill="#7396f5"/>
<rect x="1910.8" y="397.51" width="12.2" height="25.48" fill="#88abfd"/>
<rect x="1910.8" y="372.33" width="12.2" height="25.48" fill="#9dbdff"/>
<rect x="1910.8" y="347.16" width="12.2" height="25.48" fill="#b1cbfc"/>
<rect x="1910.8" y="321.98" width="12.2" height="25.48" fill="#c4d5f3"/>
<rect x="1910.8" y="296.80" width="12.2" height="25.48" fill="#d5dbe5"/>
<rect x="1910.8" y="271.62" width="12.2" height="25.48" fill="#e4d9d2"/>
<rect x="1910.8" y="246.44" width="12.2" height="25.48" fill="#f0cdbb"/>
<rect x="1910.8" y="221.27" width="12.2" height="25.48" fill="#f6bea4"/>
<rect x="1910.8" y="196.09" width="12.2" height="25.48" fill="#f7aa8c"/>
<rect x="1910.8" y="170.91" width="12.2" height="25.48" fill="#f39475"/>
<rect x="1910.8" y="145.73" width="12.2" height="25.48" fill="#e97a5f"/>
<rect x="1910.8" y="120.56" width="12.2" height="25.48" fill="#dc5e4b"/>
<rect x="1910.8" y="95.38" width="12.2" height="25.48" fill="#ca4039"/>
<rect x="1910.8" y="70.20" width="12.2" height="25.48" fill="#b7152b"/>
<rect x="1910.8" y="70.2" width="12.2" height="453.2" fill="none" stroke="#333" stroke-width="0.6"/>
<g stroke="#333" stroke-width="1">
<line x1="1919.0" y1="432.8" x2="1923.0" y2="432.8"/>
<line x1="1919.0" y1="342.1" x2="1923.0" y2="342.1"/>
<line x1="1919.0" y1="251.5" x2="1923.0" y2="251.5"/>
<line x1="1919.0" y1="160.8" x2="1923.0" y2="160.8"/>
<line x1="1919.0" y1="70.2" x2="1923.0" y2="70.2"/>
</g>
<g font-family="'Liberation Sans', Arial, Helvetica, sans-serif" font-size="25" fill="#262626">
<text x="1929" y="442.2">1.8</text>
<text x="1929" y="351.5">3.6</text>
<text x="1929" y="260.9">5.4</text>
<text x="1929" y="170.2">7.2</text>
<text x="1929" y="79.6">9</text>
</g>
<text font-family="'Liberation Sans', Arial, Helvetica, sans-serif" font-size="24.7" fill="#262626" text-anchor="middle" transform="translate(1991.5 296.8) rotate(-90)">365 nm Irradiation Time (min)</text>
</svg>
</body></html>
